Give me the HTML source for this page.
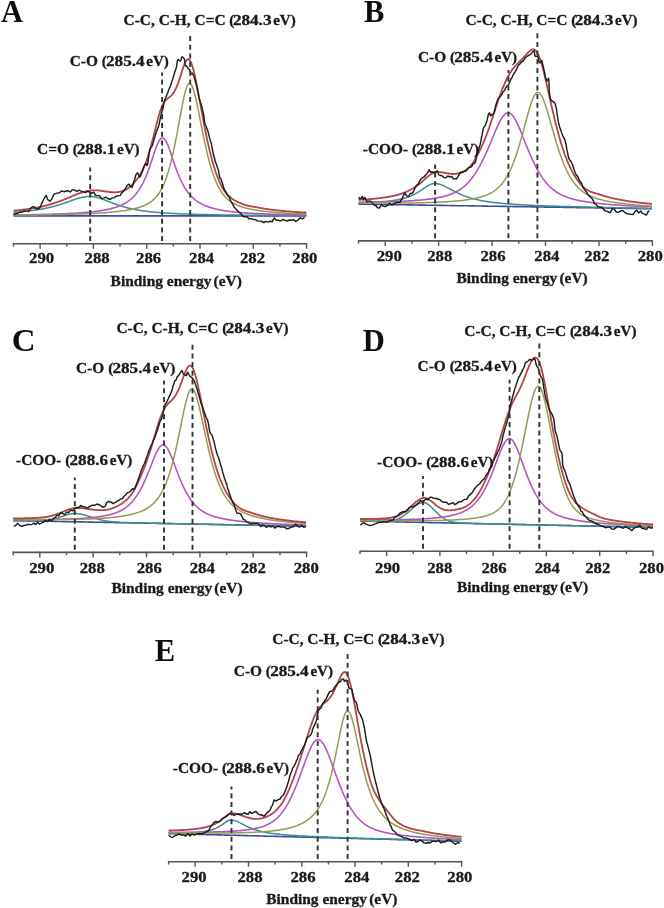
<!DOCTYPE html>
<html><head><meta charset="utf-8"><style>
html,body{margin:0;padding:0;background:#fff;}
svg{display:block;}
.t{font-family:"Liberation Serif", serif;font-weight:bold;font-size:15px;fill:#1a1a1a;stroke:#1a1a1a;stroke-width:0.3px;}
.tk{font-family:"Liberation Serif", serif;font-weight:bold;font-size:15.5px;fill:#1a1a1a;stroke:#1a1a1a;stroke-width:0.3px;}
.a{font-family:"Liberation Serif", serif;font-weight:bold;font-size:14.2px;fill:#1a1a1a;stroke:#1a1a1a;stroke-width:0.3px;}
.L{font-family:"Liberation Serif", serif;font-weight:bold;font-size:30.5px;fill:#111;}
</style></head><body>
<svg width="664" height="908" viewBox="0 0 664 908">
<defs><filter id="soft" x="0" y="0" width="664" height="908" filterUnits="userSpaceOnUse"><feGaussianBlur stdDeviation="0.35"/></filter></defs>
<rect width="664" height="908" fill="#fff"/>
<g filter="url(#soft)">
<path d="M13.5,215.9 L14.0,215.9 L14.5,215.9 L15.0,215.9 L15.5,215.9 L16.0,215.9 L16.5,215.9 L17.0,215.9 L17.5,215.9 L18.0,215.9 L18.5,215.9 L19.0,215.9 L19.5,215.9 L20.0,215.9 L20.5,215.9 L21.0,215.9 L21.5,215.9 L22.0,215.9 L22.5,215.9 L23.0,215.9 L23.5,215.9 L24.0,215.9 L24.5,215.9 L25.0,215.9 L25.5,215.9 L26.0,215.9 L26.5,215.9 L27.0,215.9 L27.5,215.9 L28.0,215.9 L28.5,215.9 L29.0,215.9 L29.5,215.9 L30.0,215.9 L30.5,215.9 L31.0,215.9 L31.5,215.9 L32.0,215.9 L32.5,215.9 L33.0,215.9 L33.5,215.9 L34.0,215.9 L34.5,215.9 L35.0,215.9 L35.5,215.9 L36.0,215.9 L36.5,215.9 L37.0,215.9 L37.5,215.9 L38.0,215.9 L38.5,215.9 L39.0,215.9 L39.5,215.9 L40.0,215.9 L40.5,215.9 L41.0,215.9 L41.5,215.9 L42.0,215.9 L42.5,215.9 L43.0,215.9 L43.5,215.9 L44.0,215.9 L44.5,215.9 L45.0,215.9 L45.5,215.9 L46.0,215.9 L46.5,215.9 L47.0,215.9 L47.5,215.9 L48.0,215.9 L48.5,215.9 L49.0,215.9 L49.5,215.9 L50.0,215.9 L50.5,215.9 L51.0,215.9 L51.5,215.9 L52.0,215.9 L52.5,215.9 L53.0,215.9 L53.5,215.9 L54.0,215.9 L54.5,215.9 L55.0,215.9 L55.5,215.9 L56.0,215.9 L56.5,215.9 L57.0,215.9 L57.5,215.9 L58.0,215.9 L58.5,215.9 L59.0,215.9 L59.5,215.9 L60.0,215.9 L60.5,215.9 L61.0,215.9 L61.5,215.9 L62.0,215.9 L62.5,215.9 L63.0,215.9 L63.5,215.9 L64.0,215.9 L64.5,215.9 L65.0,215.9 L65.5,215.9 L66.0,215.9 L66.5,215.9 L67.0,215.9 L67.5,215.9 L68.0,215.9 L68.5,215.9 L69.0,215.9 L69.5,215.9 L70.0,215.9 L70.5,215.9 L71.0,215.9 L71.5,215.9 L72.0,215.9 L72.5,215.9 L73.0,215.9 L73.5,215.9 L74.0,215.9 L74.5,215.9 L75.0,215.9 L75.5,215.9 L76.0,215.9 L76.5,215.9 L77.0,215.9 L77.5,215.9 L78.0,215.9 L78.5,215.9 L79.0,215.9 L79.5,215.9 L80.0,215.9 L80.5,215.9 L81.0,215.9 L81.5,215.9 L82.0,215.9 L82.5,215.9 L83.0,215.9 L83.5,215.9 L84.0,215.9 L84.5,215.9 L85.0,215.9 L85.5,215.9 L86.0,215.9 L86.5,215.9 L87.0,215.9 L87.5,215.9 L88.0,215.9 L88.5,215.9 L89.0,215.9 L89.5,215.9 L90.0,215.9 L90.5,215.9 L91.0,215.9 L91.5,215.9 L92.0,215.9 L92.5,215.9 L93.0,215.9 L93.5,215.9 L94.0,215.9 L94.5,215.9 L95.0,215.9 L95.5,215.9 L96.0,215.9 L96.5,215.9 L97.0,215.9 L97.5,215.9 L98.0,215.9 L98.5,215.9 L99.0,215.9 L99.5,215.9 L100.0,215.9 L100.5,215.9 L101.0,215.9 L101.5,215.9 L102.0,215.9 L102.5,215.9 L103.0,215.9 L103.5,215.9 L104.0,215.9 L104.5,215.9 L105.0,215.9 L105.5,215.9 L106.0,215.9 L106.5,215.9 L107.0,215.9 L107.5,215.9 L108.0,215.9 L108.5,215.9 L109.0,215.9 L109.5,215.9 L110.0,215.9 L110.5,215.9 L111.0,215.9 L111.5,215.9 L112.0,215.9 L112.5,215.9 L113.0,215.9 L113.5,215.9 L114.0,215.9 L114.5,215.9 L115.0,215.9 L115.5,215.9 L116.0,215.9 L116.5,215.9 L117.0,215.9 L117.5,215.9 L118.0,215.9 L118.5,215.9 L119.0,215.9 L119.5,215.9 L120.0,215.9 L120.5,215.9 L121.0,215.9 L121.5,215.9 L122.0,215.9 L122.5,215.9 L123.0,215.9 L123.5,215.9 L124.0,215.9 L124.5,215.9 L125.0,215.9 L125.5,215.9 L126.0,215.9 L126.5,215.9 L127.0,215.9 L127.5,215.9 L128.0,215.9 L128.4,215.9 L128.9,215.9 L129.4,215.9 L129.9,215.9 L130.4,215.9 L130.9,215.9 L131.4,215.9 L131.9,215.9 L132.4,215.9 L132.9,215.9 L133.4,215.9 L133.9,215.9 L134.4,215.9 L134.9,215.9 L135.4,215.9 L135.9,215.9 L136.4,215.9 L136.9,215.9 L137.4,215.9 L137.9,215.9 L138.4,215.9 L138.9,215.9 L139.4,215.9 L139.9,215.9 L140.4,215.9 L140.9,215.9 L141.4,215.9 L141.9,215.9 L142.4,215.9 L142.9,215.9 L143.4,215.9 L143.9,215.9 L144.4,215.9 L144.9,215.9 L145.4,215.9 L145.9,215.9 L146.4,215.9 L146.9,215.9 L147.4,215.9 L147.9,215.9 L148.4,215.9 L148.9,215.9 L149.4,215.9 L149.9,215.9 L150.4,215.9 L150.9,215.9 L151.4,215.9 L151.9,215.9 L152.4,215.9 L152.9,215.9 L153.4,215.9 L153.9,215.9 L154.4,215.9 L154.9,215.9 L155.4,215.9 L155.9,215.9 L156.4,215.9 L156.9,215.9 L157.4,215.9 L157.9,215.9 L158.4,215.9 L158.9,215.9 L159.4,215.9 L159.9,215.9 L160.4,215.9 L160.9,215.9 L161.4,215.9 L161.9,215.9 L162.4,215.9 L162.9,215.9 L163.4,215.9 L163.9,215.9 L164.4,215.9 L164.9,215.9 L165.4,215.9 L165.9,215.9 L166.4,215.9 L166.9,215.9 L167.4,215.9 L167.9,215.9 L168.4,215.9 L168.9,215.9 L169.4,215.9 L169.9,215.9 L170.4,215.9 L170.9,215.9 L171.4,215.9 L171.9,215.9 L172.4,215.9 L172.9,215.9 L173.4,215.9 L173.9,215.9 L174.4,215.9 L174.9,215.9 L175.4,215.9 L175.9,215.9 L176.4,215.9 L176.9,215.9 L177.4,215.9 L177.9,215.9 L178.4,215.9 L178.9,215.9 L179.4,215.9 L179.9,215.9 L180.4,215.9 L180.9,215.9 L181.4,215.9 L181.9,215.9 L182.4,215.9 L182.9,215.9 L183.4,215.9 L183.9,215.9 L184.4,215.9 L184.9,215.9 L185.4,215.9 L185.9,215.9 L186.4,215.9 L186.9,215.9 L187.4,215.9 L187.9,215.9 L188.4,215.9 L188.9,215.9 L189.4,215.9 L189.9,215.9 L190.4,215.9 L190.9,215.9 L191.4,215.9 L191.9,215.9 L192.4,215.9 L192.9,215.9 L193.4,215.9 L193.9,215.9 L194.4,215.9 L194.9,215.9 L195.4,215.9 L195.9,215.9 L196.4,215.9 L196.9,215.9 L197.4,215.9 L197.9,215.9 L198.4,215.9 L198.9,215.9 L199.4,215.9 L199.9,215.9 L200.4,215.9 L200.9,215.9 L201.4,215.9 L201.9,215.9 L202.4,215.9 L202.9,215.9 L203.4,215.9 L203.9,215.9 L204.4,215.9 L204.9,215.9 L205.4,215.9 L205.9,215.9 L206.4,215.9 L206.9,215.9 L207.4,215.9 L207.9,215.9 L208.4,215.9 L208.9,215.9 L209.4,215.9 L209.9,215.9 L210.4,215.9 L210.9,215.9 L211.4,215.9 L211.9,215.9 L212.4,215.9 L212.9,215.9 L213.4,215.9 L213.9,215.9 L214.4,215.9 L214.9,215.9 L215.4,215.9 L215.9,215.9 L216.4,215.9 L216.9,215.9 L217.4,215.9 L217.9,215.9 L218.4,215.9 L218.9,215.9 L219.4,215.9 L219.9,215.9 L220.4,215.9 L220.9,215.9 L221.4,215.9 L221.9,215.9 L222.4,215.9 L222.9,215.9 L223.4,215.9 L223.9,215.9 L224.4,215.9 L224.9,215.9 L225.4,215.9 L225.9,215.9 L226.4,215.9 L226.9,215.9 L227.4,215.9 L227.9,215.9 L228.4,215.9 L228.9,215.9 L229.4,215.9 L229.9,215.9 L230.4,215.9 L230.9,215.9 L231.4,215.9 L231.9,215.9 L232.4,215.9 L232.9,215.9 L233.4,215.9 L233.9,215.9 L234.4,215.9 L234.9,215.9 L235.4,215.9 L235.9,215.9 L236.4,216.0 L236.9,216.0 L237.4,216.0 L237.9,216.0 L238.4,216.0 L238.9,216.0 L239.4,216.0 L239.9,216.0 L240.4,216.0 L240.9,216.0 L241.4,216.0 L241.9,216.0 L242.4,216.0 L242.9,216.0 L243.4,216.0 L243.9,216.0 L244.4,216.0 L244.9,216.0 L245.4,216.0 L245.9,216.0 L246.4,216.0 L246.9,216.0 L247.4,216.0 L247.9,216.0 L248.4,216.0 L248.9,216.0 L249.4,216.0 L249.9,216.0 L250.4,216.0 L250.9,216.0 L251.4,216.0 L251.9,216.0 L252.4,216.0 L252.9,216.0 L253.4,216.0 L253.9,216.0 L254.4,216.0 L254.9,216.0 L255.4,216.0 L255.9,216.0 L256.4,216.0 L256.9,216.0 L257.4,216.0 L257.9,216.0 L258.4,216.0 L258.9,216.0 L259.4,216.0 L259.9,216.0 L260.4,216.0 L260.9,216.0 L261.4,216.0 L261.9,216.0 L262.4,216.0 L262.9,216.0 L263.4,216.0 L263.9,216.0 L264.4,216.0 L264.9,216.0 L265.4,216.0 L265.9,216.0 L266.4,216.0 L266.9,216.0 L267.4,216.0 L267.9,216.0 L268.4,216.0 L268.9,216.0 L269.4,216.0 L269.9,216.0 L270.4,216.0 L270.9,216.0 L271.4,216.0 L271.9,216.0 L272.4,216.0 L272.9,216.0 L273.4,216.0 L273.9,216.0 L274.4,216.0 L274.9,216.0 L275.4,216.0 L275.9,216.0 L276.4,216.0 L276.9,216.0 L277.4,216.0 L277.9,216.0 L278.4,216.0 L278.9,216.0 L279.4,216.0 L279.9,216.0 L280.4,216.0 L280.9,216.0 L281.4,216.0 L281.9,216.0 L282.4,216.0 L282.9,216.0 L283.4,216.0 L283.9,216.0 L284.4,216.0 L284.9,216.0 L285.4,216.0 L285.9,216.0 L286.4,216.0 L286.9,216.0 L287.4,216.0 L287.9,216.0 L288.4,216.0 L288.9,216.0 L289.4,216.0 L289.9,216.0 L290.4,216.0 L290.9,216.0 L291.4,216.0 L291.9,216.0 L292.4,216.0 L292.9,216.0 L293.4,216.0 L293.9,216.0 L294.4,216.0 L294.9,216.0 L295.4,216.0 L295.9,216.0 L296.4,216.0 L296.9,216.0 L297.4,216.0 L297.9,216.0 L298.4,216.0 L298.9,216.0 L299.4,216.0 L299.9,216.0 L300.4,216.0 L300.9,216.0 L301.4,216.0 L301.9,216.0 L302.4,216.0 L302.9,216.0 L303.4,216.0 L303.9,216.0 L304.4,216.0 L304.9,216.0 L305.4,216.0 L305.9,216.0 L306.4,216.0" fill="none" stroke="#3d4d9c" stroke-width="1.6" stroke-linejoin="round"/>
<path d="M13.5,212.4 L14.0,212.4 L14.5,212.3 L15.0,212.3 L15.5,212.2 L16.0,212.2 L16.5,212.2 L17.0,212.1 L17.5,212.1 L18.0,212.0 L18.5,212.0 L19.0,212.0 L19.5,211.9 L20.0,211.9 L20.5,211.8 L21.0,211.8 L21.5,211.7 L22.0,211.7 L22.5,211.6 L23.0,211.6 L23.5,211.5 L24.0,211.5 L24.5,211.4 L25.0,211.4 L25.5,211.3 L26.0,211.3 L26.5,211.2 L27.0,211.2 L27.5,211.1 L28.0,211.0 L28.5,211.0 L29.0,210.9 L29.5,210.9 L30.0,210.8 L30.5,210.7 L31.0,210.7 L31.5,210.6 L32.0,210.5 L32.5,210.5 L33.0,210.4 L33.5,210.3 L34.0,210.3 L34.5,210.2 L35.0,210.1 L35.5,210.1 L36.0,210.0 L36.5,209.9 L37.0,209.8 L37.5,209.7 L38.0,209.7 L38.5,209.6 L39.0,209.5 L39.5,209.4 L40.0,209.3 L40.5,209.2 L41.0,209.2 L41.5,209.1 L42.0,209.0 L42.5,208.9 L43.0,208.8 L43.5,208.7 L44.0,208.6 L44.5,208.5 L45.0,208.4 L45.5,208.3 L46.0,208.2 L46.5,208.1 L47.0,208.0 L47.5,207.9 L48.0,207.7 L48.5,207.6 L49.0,207.5 L49.5,207.4 L50.0,207.3 L50.5,207.2 L51.0,207.0 L51.5,206.9 L52.0,206.8 L52.5,206.7 L53.0,206.5 L53.5,206.4 L54.0,206.3 L54.5,206.1 L55.0,206.0 L55.5,205.9 L56.0,205.7 L56.5,205.6 L57.0,205.4 L57.5,205.3 L58.0,205.1 L58.5,205.0 L59.0,204.8 L59.5,204.7 L60.0,204.5 L60.5,204.4 L61.0,204.2 L61.5,204.0 L62.0,203.9 L62.5,203.7 L63.0,203.5 L63.5,203.4 L64.0,203.2 L64.5,203.0 L65.0,202.9 L65.5,202.7 L66.0,202.5 L66.5,202.3 L67.0,202.2 L67.5,202.0 L68.0,201.8 L68.5,201.6 L69.0,201.5 L69.5,201.3 L70.0,201.1 L70.5,200.9 L71.0,200.8 L71.5,200.6 L72.0,200.4 L72.5,200.2 L73.0,200.1 L73.5,199.9 L74.0,199.7 L74.5,199.6 L75.0,199.4 L75.5,199.2 L76.0,199.1 L76.5,198.9 L77.0,198.7 L77.5,198.6 L78.0,198.4 L78.5,198.3 L79.0,198.2 L79.5,198.0 L80.0,197.9 L80.5,197.8 L81.0,197.6 L81.5,197.5 L82.0,197.4 L82.5,197.3 L83.0,197.2 L83.5,197.1 L84.0,197.0 L84.5,196.9 L85.0,196.9 L85.5,196.8 L86.0,196.7 L86.5,196.7 L87.0,196.6 L87.5,196.6 L88.0,196.5 L88.5,196.5 L89.0,196.5 L89.5,196.5 L90.0,196.5 L90.5,196.5 L91.0,196.5 L91.5,196.5 L92.0,196.6 L92.5,196.6 L93.0,196.7 L93.5,196.7 L94.0,196.8 L94.5,196.9 L95.0,197.0 L95.5,197.1 L96.0,197.2 L96.5,197.3 L97.0,197.4 L97.5,197.5 L98.0,197.7 L98.5,197.8 L99.0,198.0 L99.5,198.1 L100.0,198.3 L100.5,198.4 L101.0,198.6 L101.5,198.8 L102.0,198.9 L102.5,199.1 L103.0,199.3 L103.5,199.5 L104.0,199.7 L104.5,199.9 L105.0,200.1 L105.5,200.3 L106.0,200.5 L106.5,200.7 L107.0,200.9 L107.5,201.0 L108.0,201.2 L108.5,201.4 L109.0,201.6 L109.5,201.8 L110.0,202.0 L110.5,202.2 L111.0,202.4 L111.5,202.6 L112.0,202.8 L112.5,203.0 L113.0,203.2 L113.5,203.4 L114.0,203.6 L114.5,203.8 L115.0,204.0 L115.5,204.1 L116.0,204.3 L116.5,204.5 L117.0,204.7 L117.5,204.9 L118.0,205.0 L118.5,205.2 L119.0,205.4 L119.5,205.5 L120.0,205.7 L120.5,205.8 L121.0,206.0 L121.5,206.2 L122.0,206.3 L122.5,206.5 L123.0,206.6 L123.5,206.8 L124.0,206.9 L124.5,207.0 L125.0,207.2 L125.5,207.3 L126.0,207.4 L126.5,207.6 L127.0,207.7 L127.5,207.8 L128.0,208.0 L128.4,208.1 L128.9,208.2 L129.4,208.3 L129.9,208.4 L130.4,208.6 L130.9,208.7 L131.4,208.8 L131.9,208.9 L132.4,209.0 L132.9,209.1 L133.4,209.2 L133.9,209.3 L134.4,209.4 L134.9,209.5 L135.4,209.6 L135.9,209.7 L136.4,209.8 L136.9,209.9 L137.4,209.9 L137.9,210.0 L138.4,210.1 L138.9,210.2 L139.4,210.3 L139.9,210.4 L140.4,210.4 L140.9,210.5 L141.4,210.6 L141.9,210.7 L142.4,210.7 L142.9,210.8 L143.4,210.9 L143.9,210.9 L144.4,211.0 L144.9,211.1 L145.4,211.1 L145.9,211.2 L146.4,211.3 L146.9,211.3 L147.4,211.4 L147.9,211.5 L148.4,211.5 L148.9,211.6 L149.4,211.6 L149.9,211.7 L150.4,211.7 L150.9,211.8 L151.4,211.9 L151.9,211.9 L152.4,212.0 L152.9,212.0 L153.4,212.1 L153.9,212.1 L154.4,212.1 L154.9,212.2 L155.4,212.2 L155.9,212.3 L156.4,212.3 L156.9,212.4 L157.4,212.4 L157.9,212.5 L158.4,212.5 L158.9,212.5 L159.4,212.6 L159.9,212.6 L160.4,212.7 L160.9,212.7 L161.4,212.7 L161.9,212.8 L162.4,212.8 L162.9,212.8 L163.4,212.9 L163.9,212.9 L164.4,213.0 L164.9,213.0 L165.4,213.0 L165.9,213.1 L166.4,213.1 L166.9,213.1 L167.4,213.1 L167.9,213.2 L168.4,213.2 L168.9,213.2 L169.4,213.3 L169.9,213.3 L170.4,213.3 L170.9,213.4 L171.4,213.4 L171.9,213.4 L172.4,213.4 L172.9,213.5 L173.4,213.5 L173.9,213.5 L174.4,213.5 L174.9,213.6 L175.4,213.6 L175.9,213.6 L176.4,213.6 L176.9,213.7 L177.4,213.7 L177.9,213.7 L178.4,213.7 L178.9,213.7 L179.4,213.8 L179.9,213.8 L180.4,213.8 L180.9,213.8 L181.4,213.9 L181.9,213.9 L182.4,213.9 L182.9,213.9 L183.4,213.9 L183.9,214.0 L184.4,214.0 L184.9,214.0 L185.4,214.0 L185.9,214.0 L186.4,214.0 L186.9,214.1 L187.4,214.1 L187.9,214.1 L188.4,214.1 L188.9,214.1 L189.4,214.1 L189.9,214.2 L190.4,214.2 L190.9,214.2 L191.4,214.2 L191.9,214.2 L192.4,214.2 L192.9,214.3 L193.4,214.3 L193.9,214.3 L194.4,214.3 L194.9,214.3 L195.4,214.3 L195.9,214.3 L196.4,214.4 L196.9,214.4 L197.4,214.4 L197.9,214.4 L198.4,214.4 L198.9,214.4 L199.4,214.4 L199.9,214.4 L200.4,214.5 L200.9,214.5 L201.4,214.5 L201.9,214.5 L202.4,214.5 L202.9,214.5 L203.4,214.5 L203.9,214.5 L204.4,214.6 L204.9,214.6 L205.4,214.6 L205.9,214.6 L206.4,214.6 L206.9,214.6 L207.4,214.6 L207.9,214.6 L208.4,214.6 L208.9,214.7 L209.4,214.7 L209.9,214.7 L210.4,214.7 L210.9,214.7 L211.4,214.7 L211.9,214.7 L212.4,214.7 L212.9,214.7 L213.4,214.7 L213.9,214.8 L214.4,214.8 L214.9,214.8 L215.4,214.8 L215.9,214.8 L216.4,214.8 L216.9,214.8 L217.4,214.8 L217.9,214.8 L218.4,214.8 L218.9,214.8 L219.4,214.8 L219.9,214.9 L220.4,214.9 L220.9,214.9 L221.4,214.9 L221.9,214.9 L222.4,214.9 L222.9,214.9 L223.4,214.9 L223.9,214.9 L224.4,214.9 L224.9,214.9 L225.4,214.9 L225.9,214.9 L226.4,215.0 L226.9,215.0 L227.4,215.0 L227.9,215.0 L228.4,215.0 L228.9,215.0 L229.4,215.0 L229.9,215.0 L230.4,215.0 L230.9,215.0 L231.4,215.0 L231.9,215.0 L232.4,215.0 L232.9,215.0 L233.4,215.0 L233.9,215.1 L234.4,215.1 L234.9,215.1 L235.4,215.1 L235.9,215.1 L236.4,215.1 L236.9,215.1 L237.4,215.1 L237.9,215.1 L238.4,215.1 L238.9,215.1 L239.4,215.1 L239.9,215.1 L240.4,215.1 L240.9,215.1 L241.4,215.1 L241.9,215.1 L242.4,215.1 L242.9,215.2 L243.4,215.2 L243.9,215.2 L244.4,215.2 L244.9,215.2 L245.4,215.2 L245.9,215.2 L246.4,215.2 L246.9,215.2 L247.4,215.2 L247.9,215.2 L248.4,215.2 L248.9,215.2 L249.4,215.2 L249.9,215.2 L250.4,215.2 L250.9,215.2 L251.4,215.2 L251.9,215.2 L252.4,215.2 L252.9,215.3 L253.4,215.3 L253.9,215.3 L254.4,215.3 L254.9,215.3 L255.4,215.3 L255.9,215.3 L256.4,215.3 L256.9,215.3 L257.4,215.3 L257.9,215.3 L258.4,215.3 L258.9,215.3 L259.4,215.3 L259.9,215.3 L260.4,215.3 L260.9,215.3 L261.4,215.3 L261.9,215.3 L262.4,215.3 L262.9,215.3 L263.4,215.3 L263.9,215.3 L264.4,215.3 L264.9,215.3 L265.4,215.3 L265.9,215.4 L266.4,215.4 L266.9,215.4 L267.4,215.4 L267.9,215.4 L268.4,215.4 L268.9,215.4 L269.4,215.4 L269.9,215.4 L270.4,215.4 L270.9,215.4 L271.4,215.4 L271.9,215.4 L272.4,215.4 L272.9,215.4 L273.4,215.4 L273.9,215.4 L274.4,215.4 L274.9,215.4 L275.4,215.4 L275.9,215.4 L276.4,215.4 L276.9,215.4 L277.4,215.4 L277.9,215.4 L278.4,215.4 L278.9,215.4 L279.4,215.4 L279.9,215.4 L280.4,215.4 L280.9,215.4 L281.4,215.5 L281.9,215.5 L282.4,215.5 L282.9,215.5 L283.4,215.5 L283.9,215.5 L284.4,215.5 L284.9,215.5 L285.4,215.5 L285.9,215.5 L286.4,215.5 L286.9,215.5 L287.4,215.5 L287.9,215.5 L288.4,215.5 L288.9,215.5 L289.4,215.5 L289.9,215.5 L290.4,215.5 L290.9,215.5 L291.4,215.5 L291.9,215.5 L292.4,215.5 L292.9,215.5 L293.4,215.5 L293.9,215.5 L294.4,215.5 L294.9,215.5 L295.4,215.5 L295.9,215.5 L296.4,215.5 L296.9,215.5 L297.4,215.5 L297.9,215.5 L298.4,215.5 L298.9,215.5 L299.4,215.5 L299.9,215.5 L300.4,215.5 L300.9,215.5 L301.4,215.6 L301.9,215.6 L302.4,215.6 L302.9,215.6 L303.4,215.6 L303.9,215.6 L304.4,215.6 L304.9,215.6 L305.4,215.6 L305.9,215.6 L306.4,215.6" fill="none" stroke="#3a8f8d" stroke-width="1.5" stroke-linejoin="round"/>
<path d="M13.5,214.9 L14.0,214.9 L14.5,214.9 L15.0,214.9 L15.5,214.9 L16.0,214.9 L16.5,214.9 L17.0,214.9 L17.5,214.9 L18.0,214.9 L18.5,214.9 L19.0,214.8 L19.5,214.8 L20.0,214.8 L20.5,214.8 L21.0,214.8 L21.5,214.8 L22.0,214.8 L22.5,214.8 L23.0,214.8 L23.5,214.8 L24.0,214.8 L24.5,214.8 L25.0,214.8 L25.5,214.8 L26.0,214.7 L26.5,214.7 L27.0,214.7 L27.5,214.7 L28.0,214.7 L28.5,214.7 L29.0,214.7 L29.5,214.7 L30.0,214.7 L30.5,214.7 L31.0,214.7 L31.5,214.7 L32.0,214.6 L32.5,214.6 L33.0,214.6 L33.5,214.6 L34.0,214.6 L34.5,214.6 L35.0,214.6 L35.5,214.6 L36.0,214.6 L36.5,214.6 L37.0,214.5 L37.5,214.5 L38.0,214.5 L38.5,214.5 L39.0,214.5 L39.5,214.5 L40.0,214.5 L40.5,214.5 L41.0,214.5 L41.5,214.4 L42.0,214.4 L42.5,214.4 L43.0,214.4 L43.5,214.4 L44.0,214.4 L44.5,214.4 L45.0,214.4 L45.5,214.4 L46.0,214.3 L46.5,214.3 L47.0,214.3 L47.5,214.3 L48.0,214.3 L48.5,214.3 L49.0,214.3 L49.5,214.2 L50.0,214.2 L50.5,214.2 L51.0,214.2 L51.5,214.2 L52.0,214.2 L52.5,214.2 L53.0,214.1 L53.5,214.1 L54.0,214.1 L54.5,214.1 L55.0,214.1 L55.5,214.1 L56.0,214.1 L56.5,214.0 L57.0,214.0 L57.5,214.0 L58.0,214.0 L58.5,214.0 L59.0,213.9 L59.5,213.9 L60.0,213.9 L60.5,213.9 L61.0,213.9 L61.5,213.9 L62.0,213.8 L62.5,213.8 L63.0,213.8 L63.5,213.8 L64.0,213.8 L64.5,213.7 L65.0,213.7 L65.5,213.7 L66.0,213.7 L66.5,213.6 L67.0,213.6 L67.5,213.6 L68.0,213.6 L68.5,213.6 L69.0,213.5 L69.5,213.5 L70.0,213.5 L70.5,213.5 L71.0,213.4 L71.5,213.4 L72.0,213.4 L72.5,213.4 L73.0,213.3 L73.5,213.3 L74.0,213.3 L74.5,213.2 L75.0,213.2 L75.5,213.2 L76.0,213.2 L76.5,213.1 L77.0,213.1 L77.5,213.1 L78.0,213.0 L78.5,213.0 L79.0,213.0 L79.5,212.9 L80.0,212.9 L80.5,212.9 L81.0,212.8 L81.5,212.8 L82.0,212.7 L82.5,212.7 L83.0,212.7 L83.5,212.6 L84.0,212.6 L84.5,212.6 L85.0,212.5 L85.5,212.5 L86.0,212.4 L86.5,212.4 L87.0,212.3 L87.5,212.3 L88.0,212.2 L88.5,212.2 L89.0,212.2 L89.5,212.1 L90.0,212.1 L90.5,212.0 L91.0,212.0 L91.5,211.9 L92.0,211.8 L92.5,211.8 L93.0,211.7 L93.5,211.7 L94.0,211.6 L94.5,211.6 L95.0,211.5 L95.5,211.4 L96.0,211.4 L96.5,211.3 L97.0,211.2 L97.5,211.2 L98.0,211.1 L98.5,211.0 L99.0,211.0 L99.5,210.9 L100.0,210.8 L100.5,210.7 L101.0,210.7 L101.5,210.6 L102.0,210.5 L102.5,210.4 L103.0,210.3 L103.5,210.3 L104.0,210.2 L104.5,210.1 L105.0,210.0 L105.5,209.9 L106.0,209.8 L106.5,209.7 L107.0,209.6 L107.5,209.5 L108.0,209.4 L108.5,209.3 L109.0,209.1 L109.5,209.0 L110.0,208.9 L110.5,208.8 L111.0,208.7 L111.5,208.5 L112.0,208.4 L112.5,208.3 L113.0,208.1 L113.5,208.0 L114.0,207.8 L114.5,207.7 L115.0,207.5 L115.5,207.4 L116.0,207.2 L116.5,207.0 L117.0,206.9 L117.5,206.7 L118.0,206.5 L118.5,206.3 L119.0,206.1 L119.5,205.9 L120.0,205.7 L120.5,205.5 L121.0,205.3 L121.5,205.1 L122.0,204.8 L122.5,204.6 L123.0,204.3 L123.5,204.1 L124.0,203.8 L124.5,203.5 L125.0,203.3 L125.5,203.0 L126.0,202.7 L126.5,202.4 L127.0,202.1 L127.5,201.7 L128.0,201.4 L128.4,201.0 L128.9,200.7 L129.4,200.3 L129.9,199.9 L130.4,199.5 L130.9,199.1 L131.4,198.6 L131.9,198.2 L132.4,197.7 L132.9,197.3 L133.4,196.8 L133.9,196.2 L134.4,195.7 L134.9,195.2 L135.4,194.6 L135.9,194.0 L136.4,193.4 L136.9,192.7 L137.4,192.1 L137.9,191.4 L138.4,190.7 L138.9,190.0 L139.4,189.2 L139.9,188.4 L140.4,187.6 L140.9,186.7 L141.4,185.9 L141.9,185.0 L142.4,184.0 L142.9,183.1 L143.4,182.1 L143.9,181.0 L144.4,180.0 L144.9,178.9 L145.4,177.7 L145.9,176.6 L146.4,175.4 L146.9,174.1 L147.4,172.8 L147.9,171.5 L148.4,170.2 L148.9,168.8 L149.4,167.4 L149.9,166.0 L150.4,164.6 L150.9,163.1 L151.4,161.6 L151.9,160.1 L152.4,158.6 L152.9,157.1 L153.4,155.6 L153.9,154.1 L154.4,152.6 L154.9,151.1 L155.4,149.7 L155.9,148.3 L156.4,146.9 L156.9,145.7 L157.4,144.5 L157.9,143.3 L158.4,142.3 L158.9,141.3 L159.4,140.5 L159.9,139.7 L160.4,139.1 L160.9,138.6 L161.4,138.3 L161.9,138.1 L162.4,138.0 L162.9,138.0 L163.4,138.2 L163.9,138.6 L164.4,139.0 L164.9,139.6 L165.4,140.3 L165.9,141.1 L166.4,142.0 L166.9,143.0 L167.4,144.1 L167.9,145.3 L168.4,146.6 L168.9,147.9 L169.4,149.2 L169.9,150.6 L170.4,152.1 L170.9,153.5 L171.4,155.0 L171.9,156.5 L172.4,158.0 L172.9,159.5 L173.4,161.0 L173.9,162.5 L174.4,163.9 L174.9,165.4 L175.4,166.8 L175.9,168.2 L176.4,169.6 L176.9,170.9 L177.4,172.2 L177.9,173.5 L178.4,174.7 L178.9,175.9 L179.4,177.1 L179.9,178.3 L180.4,179.4 L180.9,180.4 L181.4,181.5 L181.9,182.5 L182.4,183.5 L182.9,184.4 L183.4,185.3 L183.9,186.2 L184.4,187.1 L184.9,187.9 L185.4,188.7 L185.9,189.5 L186.4,190.2 L186.9,190.9 L187.4,191.6 L187.9,192.3 L188.4,192.9 L188.9,193.6 L189.4,194.2 L189.9,194.8 L190.4,195.3 L190.9,195.9 L191.4,196.4 L191.9,196.9 L192.4,197.4 L192.9,197.8 L193.4,198.3 L193.9,198.7 L194.4,199.2 L194.9,199.6 L195.4,200.0 L195.9,200.4 L196.4,200.7 L196.9,201.1 L197.4,201.4 L197.9,201.8 L198.4,202.1 L198.9,202.4 L199.4,202.7 L199.9,203.0 L200.4,203.3 L200.9,203.6 L201.4,203.9 L201.9,204.1 L202.4,204.4 L202.9,204.6 L203.4,204.8 L203.9,205.1 L204.4,205.3 L204.9,205.5 L205.4,205.7 L205.9,205.9 L206.4,206.1 L206.9,206.3 L207.4,206.5 L207.9,206.7 L208.4,206.9 L208.9,207.0 L209.4,207.2 L209.9,207.4 L210.4,207.5 L210.9,207.7 L211.4,207.8 L211.9,208.0 L212.4,208.1 L212.9,208.3 L213.4,208.4 L213.9,208.5 L214.4,208.7 L214.9,208.8 L215.4,208.9 L215.9,209.0 L216.4,209.2 L216.9,209.3 L217.4,209.4 L217.9,209.5 L218.4,209.6 L218.9,209.7 L219.4,209.8 L219.9,209.9 L220.4,210.0 L220.9,210.1 L221.4,210.2 L221.9,210.3 L222.4,210.4 L222.9,210.4 L223.4,210.5 L223.9,210.6 L224.4,210.7 L224.9,210.8 L225.4,210.8 L225.9,210.9 L226.4,211.0 L226.9,211.1 L227.4,211.1 L227.9,211.2 L228.4,211.3 L228.9,211.3 L229.4,211.4 L229.9,211.5 L230.4,211.5 L230.9,211.6 L231.4,211.6 L231.9,211.7 L232.4,211.8 L232.9,211.8 L233.4,211.9 L233.9,211.9 L234.4,212.0 L234.9,212.0 L235.4,212.1 L235.9,212.1 L236.4,212.2 L236.9,212.2 L237.4,212.3 L237.9,212.3 L238.4,212.4 L238.9,212.4 L239.4,212.5 L239.9,212.5 L240.4,212.5 L240.9,212.6 L241.4,212.6 L241.9,212.7 L242.4,212.7 L242.9,212.7 L243.4,212.8 L243.9,212.8 L244.4,212.9 L244.9,212.9 L245.4,212.9 L245.9,213.0 L246.4,213.0 L246.9,213.0 L247.4,213.1 L247.9,213.1 L248.4,213.1 L248.9,213.2 L249.4,213.2 L249.9,213.2 L250.4,213.3 L250.9,213.3 L251.4,213.3 L251.9,213.3 L252.4,213.4 L252.9,213.4 L253.4,213.4 L253.9,213.4 L254.4,213.5 L254.9,213.5 L255.4,213.5 L255.9,213.6 L256.4,213.6 L256.9,213.6 L257.4,213.6 L257.9,213.6 L258.4,213.7 L258.9,213.7 L259.4,213.7 L259.9,213.7 L260.4,213.8 L260.9,213.8 L261.4,213.8 L261.9,213.8 L262.4,213.8 L262.9,213.9 L263.4,213.9 L263.9,213.9 L264.4,213.9 L264.9,213.9 L265.4,214.0 L265.9,214.0 L266.4,214.0 L266.9,214.0 L267.4,214.0 L267.9,214.1 L268.4,214.1 L268.9,214.1 L269.4,214.1 L269.9,214.1 L270.4,214.1 L270.9,214.2 L271.4,214.2 L271.9,214.2 L272.4,214.2 L272.9,214.2 L273.4,214.2 L273.9,214.3 L274.4,214.3 L274.9,214.3 L275.4,214.3 L275.9,214.3 L276.4,214.3 L276.9,214.3 L277.4,214.4 L277.9,214.4 L278.4,214.4 L278.9,214.4 L279.4,214.4 L279.9,214.4 L280.4,214.4 L280.9,214.5 L281.4,214.5 L281.9,214.5 L282.4,214.5 L282.9,214.5 L283.4,214.5 L283.9,214.5 L284.4,214.5 L284.9,214.5 L285.4,214.6 L285.9,214.6 L286.4,214.6 L286.9,214.6 L287.4,214.6 L287.9,214.6 L288.4,214.6 L288.9,214.6 L289.4,214.6 L289.9,214.7 L290.4,214.7 L290.9,214.7 L291.4,214.7 L291.9,214.7 L292.4,214.7 L292.9,214.7 L293.4,214.7 L293.9,214.7 L294.4,214.7 L294.9,214.8 L295.4,214.8 L295.9,214.8 L296.4,214.8 L296.9,214.8 L297.4,214.8 L297.9,214.8 L298.4,214.8 L298.9,214.8 L299.4,214.8 L299.9,214.8 L300.4,214.9 L300.9,214.9 L301.4,214.9 L301.9,214.9 L302.4,214.9 L302.9,214.9 L303.4,214.9 L303.9,214.9 L304.4,214.9 L304.9,214.9 L305.4,214.9 L305.9,214.9 L306.4,214.9" fill="none" stroke="#b656c0" stroke-width="1.6" stroke-linejoin="round"/>
<path d="M13.5,215.1 L14.0,215.1 L14.5,215.1 L15.0,215.1 L15.5,215.1 L16.0,215.1 L16.5,215.1 L17.0,215.1 L17.5,215.1 L18.0,215.1 L18.5,215.1 L19.0,215.1 L19.5,215.1 L20.0,215.0 L20.5,215.0 L21.0,215.0 L21.5,215.0 L22.0,215.0 L22.5,215.0 L23.0,215.0 L23.5,215.0 L24.0,215.0 L24.5,215.0 L25.0,215.0 L25.5,215.0 L26.0,215.0 L26.5,215.0 L27.0,215.0 L27.5,215.0 L28.0,215.0 L28.5,215.0 L29.0,215.0 L29.5,215.0 L30.0,214.9 L30.5,214.9 L31.0,214.9 L31.5,214.9 L32.0,214.9 L32.5,214.9 L33.0,214.9 L33.5,214.9 L34.0,214.9 L34.5,214.9 L35.0,214.9 L35.5,214.9 L36.0,214.9 L36.5,214.9 L37.0,214.9 L37.5,214.9 L38.0,214.9 L38.5,214.8 L39.0,214.8 L39.5,214.8 L40.0,214.8 L40.5,214.8 L41.0,214.8 L41.5,214.8 L42.0,214.8 L42.5,214.8 L43.0,214.8 L43.5,214.8 L44.0,214.8 L44.5,214.8 L45.0,214.8 L45.5,214.7 L46.0,214.7 L46.5,214.7 L47.0,214.7 L47.5,214.7 L48.0,214.7 L48.5,214.7 L49.0,214.7 L49.5,214.7 L50.0,214.7 L50.5,214.7 L51.0,214.7 L51.5,214.7 L52.0,214.6 L52.5,214.6 L53.0,214.6 L53.5,214.6 L54.0,214.6 L54.5,214.6 L55.0,214.6 L55.5,214.6 L56.0,214.6 L56.5,214.6 L57.0,214.6 L57.5,214.5 L58.0,214.5 L58.5,214.5 L59.0,214.5 L59.5,214.5 L60.0,214.5 L60.5,214.5 L61.0,214.5 L61.5,214.5 L62.0,214.4 L62.5,214.4 L63.0,214.4 L63.5,214.4 L64.0,214.4 L64.5,214.4 L65.0,214.4 L65.5,214.4 L66.0,214.4 L66.5,214.3 L67.0,214.3 L67.5,214.3 L68.0,214.3 L68.5,214.3 L69.0,214.3 L69.5,214.3 L70.0,214.3 L70.5,214.2 L71.0,214.2 L71.5,214.2 L72.0,214.2 L72.5,214.2 L73.0,214.2 L73.5,214.2 L74.0,214.1 L74.5,214.1 L75.0,214.1 L75.5,214.1 L76.0,214.1 L76.5,214.1 L77.0,214.1 L77.5,214.0 L78.0,214.0 L78.5,214.0 L79.0,214.0 L79.5,214.0 L80.0,214.0 L80.5,213.9 L81.0,213.9 L81.5,213.9 L82.0,213.9 L82.5,213.9 L83.0,213.9 L83.5,213.8 L84.0,213.8 L84.5,213.8 L85.0,213.8 L85.5,213.8 L86.0,213.7 L86.5,213.7 L87.0,213.7 L87.5,213.7 L88.0,213.7 L88.5,213.6 L89.0,213.6 L89.5,213.6 L90.0,213.6 L90.5,213.5 L91.0,213.5 L91.5,213.5 L92.0,213.5 L92.5,213.4 L93.0,213.4 L93.5,213.4 L94.0,213.4 L94.5,213.3 L95.0,213.3 L95.5,213.3 L96.0,213.3 L96.5,213.2 L97.0,213.2 L97.5,213.2 L98.0,213.2 L98.5,213.1 L99.0,213.1 L99.5,213.1 L100.0,213.0 L100.5,213.0 L101.0,213.0 L101.5,212.9 L102.0,212.9 L102.5,212.9 L103.0,212.8 L103.5,212.8 L104.0,212.8 L104.5,212.7 L105.0,212.7 L105.5,212.7 L106.0,212.6 L106.5,212.6 L107.0,212.5 L107.5,212.5 L108.0,212.5 L108.5,212.4 L109.0,212.4 L109.5,212.3 L110.0,212.3 L110.5,212.3 L111.0,212.2 L111.5,212.2 L112.0,212.1 L112.5,212.1 L113.0,212.0 L113.5,212.0 L114.0,211.9 L114.5,211.9 L115.0,211.8 L115.5,211.8 L116.0,211.7 L116.5,211.7 L117.0,211.6 L117.5,211.6 L118.0,211.5 L118.5,211.4 L119.0,211.4 L119.5,211.3 L120.0,211.3 L120.5,211.2 L121.0,211.1 L121.5,211.1 L122.0,211.0 L122.5,210.9 L123.0,210.8 L123.5,210.8 L124.0,210.7 L124.5,210.6 L125.0,210.5 L125.5,210.5 L126.0,210.4 L126.5,210.3 L127.0,210.2 L127.5,210.1 L128.0,210.0 L128.4,210.0 L128.9,209.9 L129.4,209.8 L129.9,209.7 L130.4,209.6 L130.9,209.5 L131.4,209.4 L131.9,209.3 L132.4,209.2 L132.9,209.0 L133.4,208.9 L133.9,208.8 L134.4,208.7 L134.9,208.6 L135.4,208.4 L135.9,208.3 L136.4,208.2 L136.9,208.0 L137.4,207.9 L137.9,207.8 L138.4,207.6 L138.9,207.4 L139.4,207.3 L139.9,207.1 L140.4,207.0 L140.9,206.8 L141.4,206.6 L141.9,206.4 L142.4,206.2 L142.9,206.0 L143.4,205.8 L143.9,205.6 L144.4,205.4 L144.9,205.2 L145.4,205.0 L145.9,204.7 L146.4,204.5 L146.9,204.2 L147.4,203.9 L147.9,203.7 L148.4,203.4 L148.9,203.1 L149.4,202.8 L149.9,202.4 L150.4,202.1 L150.9,201.7 L151.4,201.4 L151.9,201.0 L152.4,200.6 L152.9,200.2 L153.4,199.7 L153.9,199.3 L154.4,198.8 L154.9,198.3 L155.4,197.8 L155.9,197.2 L156.4,196.6 L156.9,196.0 L157.4,195.4 L157.9,194.7 L158.4,194.0 L158.9,193.3 L159.4,192.6 L159.9,191.8 L160.4,190.9 L160.9,190.1 L161.4,189.2 L161.9,188.2 L162.4,187.2 L162.9,186.2 L163.4,185.1 L163.9,184.0 L164.4,182.8 L164.9,181.6 L165.4,180.3 L165.9,178.9 L166.4,177.5 L166.9,176.1 L167.4,174.6 L167.9,173.0 L168.4,171.4 L168.9,169.7 L169.4,167.9 L169.9,166.1 L170.4,164.2 L170.9,162.3 L171.4,160.3 L171.9,158.2 L172.4,156.1 L172.9,153.9 L173.4,151.7 L173.9,149.3 L174.4,147.0 L174.9,144.5 L175.4,142.0 L175.9,139.5 L176.4,136.9 L176.9,134.3 L177.4,131.6 L177.9,128.9 L178.4,126.2 L178.9,123.5 L179.4,120.7 L179.9,118.0 L180.4,115.2 L180.9,112.5 L181.4,109.8 L181.9,107.2 L182.4,104.6 L182.9,102.1 L183.4,99.7 L183.9,97.4 L184.4,95.2 L184.9,93.1 L185.4,91.3 L185.9,89.5 L186.4,88.0 L186.9,86.7 L187.4,85.6 L187.9,84.7 L188.4,84.0 L188.9,83.6 L189.4,83.4 L189.9,83.5 L190.4,83.7 L190.9,84.2 L191.4,84.9 L191.9,85.8 L192.4,86.9 L192.9,88.2 L193.4,89.6 L193.9,91.2 L194.4,93.0 L194.9,94.8 L195.4,96.8 L195.9,99.0 L196.4,101.2 L196.9,103.5 L197.4,105.8 L197.9,108.3 L198.4,110.7 L198.9,113.2 L199.4,115.8 L199.9,118.3 L200.4,120.9 L200.9,123.4 L201.4,126.0 L201.9,128.5 L202.4,131.0 L202.9,133.5 L203.4,136.0 L203.9,138.4 L204.4,140.8 L204.9,143.1 L205.4,145.4 L205.9,147.6 L206.4,149.8 L206.9,152.0 L207.4,154.1 L207.9,156.1 L208.4,158.1 L208.9,160.0 L209.4,161.9 L209.9,163.7 L210.4,165.5 L210.9,167.2 L211.4,168.8 L211.9,170.4 L212.4,172.0 L212.9,173.5 L213.4,174.9 L213.9,176.3 L214.4,177.7 L214.9,179.0 L215.4,180.2 L215.9,181.4 L216.4,182.6 L216.9,183.7 L217.4,184.7 L217.9,185.8 L218.4,186.7 L218.9,187.7 L219.4,188.6 L219.9,189.5 L220.4,190.3 L220.9,191.1 L221.4,191.9 L221.9,192.6 L222.4,193.3 L222.9,194.0 L223.4,194.6 L223.9,195.2 L224.4,195.8 L224.9,196.4 L225.4,197.0 L225.9,197.5 L226.4,198.0 L226.9,198.5 L227.4,198.9 L227.9,199.4 L228.4,199.8 L228.9,200.2 L229.4,200.6 L229.9,201.0 L230.4,201.3 L230.9,201.7 L231.4,202.0 L231.9,202.3 L232.4,202.6 L232.9,202.9 L233.4,203.2 L233.9,203.5 L234.4,203.8 L234.9,204.0 L235.4,204.3 L235.9,204.5 L236.4,204.7 L236.9,205.0 L237.4,205.2 L237.9,205.4 L238.4,205.6 L238.9,205.8 L239.4,206.0 L239.9,206.2 L240.4,206.4 L240.9,206.5 L241.4,206.7 L241.9,206.9 L242.4,207.0 L242.9,207.2 L243.4,207.3 L243.9,207.5 L244.4,207.6 L244.9,207.8 L245.4,207.9 L245.9,208.0 L246.4,208.2 L246.9,208.3 L247.4,208.4 L247.9,208.5 L248.4,208.6 L248.9,208.8 L249.4,208.9 L249.9,209.0 L250.4,209.1 L250.9,209.2 L251.4,209.3 L251.9,209.4 L252.4,209.5 L252.9,209.6 L253.4,209.7 L253.9,209.8 L254.4,209.9 L254.9,209.9 L255.4,210.0 L255.9,210.1 L256.4,210.2 L256.9,210.3 L257.4,210.4 L257.9,210.4 L258.4,210.5 L258.9,210.6 L259.4,210.7 L259.9,210.7 L260.4,210.8 L260.9,210.9 L261.4,210.9 L261.9,211.0 L262.4,211.1 L262.9,211.1 L263.4,211.2 L263.9,211.3 L264.4,211.3 L264.9,211.4 L265.4,211.4 L265.9,211.5 L266.4,211.5 L266.9,211.6 L267.4,211.6 L267.9,211.7 L268.4,211.8 L268.9,211.8 L269.4,211.9 L269.9,211.9 L270.4,212.0 L270.9,212.0 L271.4,212.0 L271.9,212.1 L272.4,212.1 L272.9,212.2 L273.4,212.2 L273.9,212.3 L274.4,212.3 L274.9,212.3 L275.4,212.4 L275.9,212.4 L276.4,212.5 L276.9,212.5 L277.4,212.5 L277.9,212.6 L278.4,212.6 L278.9,212.7 L279.4,212.7 L279.9,212.7 L280.4,212.8 L280.9,212.8 L281.4,212.8 L281.9,212.9 L282.4,212.9 L282.9,212.9 L283.4,213.0 L283.9,213.0 L284.4,213.0 L284.9,213.0 L285.4,213.1 L285.9,213.1 L286.4,213.1 L286.9,213.2 L287.4,213.2 L287.9,213.2 L288.4,213.2 L288.9,213.3 L289.4,213.3 L289.9,213.3 L290.4,213.4 L290.9,213.4 L291.4,213.4 L291.9,213.4 L292.4,213.5 L292.9,213.5 L293.4,213.5 L293.9,213.5 L294.4,213.5 L294.9,213.6 L295.4,213.6 L295.9,213.6 L296.4,213.6 L296.9,213.7 L297.4,213.7 L297.9,213.7 L298.4,213.7 L298.9,213.7 L299.4,213.8 L299.9,213.8 L300.4,213.8 L300.9,213.8 L301.4,213.8 L301.9,213.9 L302.4,213.9 L302.9,213.9 L303.4,213.9 L303.9,213.9 L304.4,213.9 L304.9,214.0 L305.4,214.0 L305.9,214.0 L306.4,214.0" fill="none" stroke="#939c55" stroke-width="1.5" stroke-linejoin="round"/>
<path d="M13.5,210.7 L14.0,210.6 L14.5,210.6 L15.0,210.6 L15.5,210.5 L16.0,210.5 L16.5,210.4 L17.0,210.3 L17.5,210.3 L18.0,210.2 L18.5,210.2 L19.0,210.1 L19.5,210.1 L20.0,210.0 L20.5,210.0 L21.0,209.9 L21.5,209.8 L22.0,209.8 L22.5,209.7 L23.0,209.7 L23.5,209.6 L24.0,209.5 L24.5,209.5 L25.0,209.4 L25.5,209.3 L26.0,209.3 L26.5,209.2 L27.0,209.1 L27.5,209.1 L28.0,209.0 L28.5,208.9 L29.0,208.8 L29.5,208.8 L30.0,208.7 L30.5,208.6 L31.0,208.5 L31.5,208.5 L32.0,208.4 L32.5,208.3 L33.0,208.2 L33.5,208.1 L34.0,208.0 L34.5,208.0 L35.0,207.9 L35.5,207.8 L36.0,207.7 L36.5,207.6 L37.0,207.5 L37.5,207.4 L38.0,207.3 L38.5,207.2 L39.0,207.1 L39.5,207.0 L40.0,206.9 L40.5,206.8 L41.0,206.7 L41.5,206.6 L42.0,206.5 L42.5,206.4 L43.0,206.2 L43.5,206.1 L44.0,206.0 L44.5,205.9 L45.0,205.8 L45.5,205.6 L46.0,205.5 L46.5,205.4 L47.0,205.3 L47.5,205.1 L48.0,205.0 L48.5,204.9 L49.0,204.7 L49.5,204.6 L50.0,204.4 L50.5,204.3 L51.0,204.2 L51.5,204.0 L52.0,203.9 L52.5,203.7 L53.0,203.5 L53.5,203.4 L54.0,203.2 L54.5,203.1 L55.0,202.9 L55.5,202.7 L56.0,202.6 L56.5,202.4 L57.0,202.2 L57.5,202.1 L58.0,201.9 L58.5,201.7 L59.0,201.5 L59.5,201.3 L60.0,201.2 L60.5,201.0 L61.0,200.8 L61.5,200.6 L62.0,200.4 L62.5,200.2 L63.0,200.0 L63.5,199.8 L64.0,199.6 L64.5,199.4 L65.0,199.2 L65.5,199.0 L66.0,198.8 L66.5,198.6 L67.0,198.4 L67.5,198.2 L68.0,197.9 L68.5,197.7 L69.0,197.5 L69.5,197.3 L70.0,197.1 L70.5,196.9 L71.0,196.7 L71.5,196.4 L72.0,196.2 L72.5,196.0 L73.0,195.8 L73.5,195.6 L74.0,195.4 L74.5,195.2 L75.0,195.0 L75.5,194.8 L76.0,194.6 L76.5,194.4 L77.0,194.2 L77.5,194.0 L78.0,193.8 L78.5,193.6 L79.0,193.4 L79.5,193.3 L80.0,193.1 L80.5,192.9 L81.0,192.8 L81.5,192.6 L82.0,192.4 L82.5,192.3 L83.0,192.1 L83.5,192.0 L84.0,191.8 L84.5,191.7 L85.0,191.6 L85.5,191.4 L86.0,191.3 L86.5,191.2 L87.0,191.1 L87.5,191.0 L88.0,190.9 L88.5,190.8 L89.0,190.7 L89.5,190.6 L90.0,190.6 L90.5,190.5 L91.0,190.4 L91.5,190.4 L92.0,190.3 L92.5,190.3 L93.0,190.3 L93.5,190.3 L94.0,190.3 L94.5,190.3 L95.0,190.3 L95.5,190.3 L96.0,190.3 L96.5,190.3 L97.0,190.3 L97.5,190.4 L98.0,190.4 L98.5,190.5 L99.0,190.5 L99.5,190.6 L100.0,190.6 L100.5,190.7 L101.0,190.8 L101.5,190.9 L102.0,190.9 L102.5,191.0 L103.0,191.1 L103.5,191.2 L104.0,191.2 L104.5,191.3 L105.0,191.4 L105.5,191.5 L106.0,191.5 L106.5,191.6 L107.0,191.7 L107.5,191.7 L108.0,191.8 L108.5,191.9 L109.0,191.9 L109.5,192.0 L110.0,192.0 L110.5,192.1 L111.0,192.1 L111.5,192.2 L112.0,192.2 L112.5,192.2 L113.0,192.2 L113.5,192.3 L114.0,192.3 L114.5,192.3 L115.0,192.3 L115.5,192.3 L116.0,192.2 L116.5,192.2 L117.0,192.2 L117.5,192.1 L118.0,192.1 L118.5,192.0 L119.0,191.9 L119.5,191.8 L120.0,191.8 L120.5,191.6 L121.0,191.5 L121.5,191.4 L122.0,191.2 L122.5,191.1 L123.0,190.9 L123.5,190.7 L124.0,190.5 L124.5,190.3 L125.0,190.1 L125.5,189.8 L126.0,189.6 L126.5,189.3 L127.0,189.0 L127.5,188.7 L128.0,188.3 L128.4,188.0 L128.9,187.6 L129.4,187.2 L129.9,186.8 L130.4,186.4 L130.9,185.9 L131.4,185.5 L131.9,185.0 L132.4,184.5 L132.9,184.0 L133.4,183.5 L133.9,182.9 L134.4,182.4 L134.9,181.8 L135.4,181.2 L135.9,180.6 L136.4,179.9 L136.9,179.3 L137.4,178.6 L137.9,177.9 L138.4,177.2 L138.9,176.4 L139.4,175.6 L139.9,174.8 L140.4,174.0 L140.9,173.1 L141.4,172.2 L141.9,171.3 L142.4,170.3 L142.9,169.3 L143.4,168.2 L143.9,167.1 L144.4,166.0 L144.9,164.8 L145.4,163.5 L145.9,162.2 L146.4,160.9 L146.9,159.5 L147.4,158.1 L147.9,156.6 L148.4,155.0 L148.9,153.4 L149.4,151.7 L149.9,150.0 L150.4,148.2 L150.9,146.4 L151.4,144.5 L151.9,142.6 L152.4,140.7 L152.9,138.7 L153.4,136.8 L153.9,134.7 L154.4,132.7 L154.9,130.7 L155.4,128.7 L155.9,126.7 L156.4,124.7 L156.9,122.7 L157.4,120.8 L157.9,119.0 L158.4,117.1 L158.9,115.4 L159.4,113.7 L159.9,112.1 L160.4,110.6 L160.9,109.2 L161.4,107.9 L161.9,106.6 L162.4,105.5 L162.9,104.5 L163.4,103.5 L163.9,102.7 L164.4,101.9 L164.9,101.2 L165.4,100.6 L165.9,100.0 L166.4,99.5 L166.9,99.1 L167.4,98.6 L167.9,98.2 L168.4,97.9 L168.9,97.5 L169.4,97.1 L169.9,96.7 L170.4,96.3 L170.9,95.9 L171.4,95.4 L171.9,94.9 L172.4,94.3 L172.9,93.6 L173.4,92.9 L173.9,92.2 L174.4,91.4 L174.9,90.5 L175.4,89.5 L175.9,88.4 L176.4,87.3 L176.9,86.1 L177.4,84.9 L177.9,83.6 L178.4,82.2 L178.9,80.8 L179.4,79.3 L179.9,77.8 L180.4,76.2 L180.9,74.7 L181.4,73.1 L181.9,71.5 L182.4,70.0 L182.9,68.5 L183.4,67.1 L183.9,65.7 L184.4,64.4 L184.9,63.2 L185.4,62.2 L185.9,61.3 L186.4,60.5 L186.9,59.9 L187.4,59.5 L187.9,59.2 L188.4,59.2 L188.9,59.4 L189.4,59.8 L189.9,60.4 L190.4,61.2 L190.9,62.2 L191.4,63.4 L191.9,64.7 L192.4,66.2 L192.9,67.9 L193.4,69.7 L193.9,71.6 L194.4,73.7 L194.9,75.9 L195.4,78.2 L195.9,80.6 L196.4,83.1 L196.9,85.6 L197.4,88.2 L197.9,90.9 L198.4,93.5 L198.9,96.3 L199.4,99.0 L199.9,101.7 L200.4,104.5 L200.9,107.2 L201.4,110.0 L201.9,112.7 L202.4,115.4 L202.9,118.1 L203.4,120.8 L203.9,123.4 L204.4,126.0 L204.9,128.5 L205.4,131.0 L205.9,133.5 L206.4,135.9 L206.9,138.3 L207.4,140.7 L207.9,142.9 L208.4,145.2 L208.9,147.4 L209.4,149.5 L209.9,151.6 L210.4,153.6 L210.9,155.6 L211.4,157.5 L211.9,159.4 L212.4,161.2 L212.9,163.0 L213.4,164.7 L213.9,166.4 L214.4,168.1 L214.9,169.6 L215.4,171.2 L215.9,172.7 L216.4,174.1 L216.9,175.5 L217.4,176.8 L217.9,178.1 L218.4,179.4 L218.9,180.6 L219.4,181.7 L219.9,182.9 L220.4,183.9 L220.9,184.9 L221.4,185.9 L221.9,186.9 L222.4,187.8 L222.9,188.6 L223.4,189.4 L223.9,190.2 L224.4,190.9 L224.9,191.6 L225.4,192.3 L225.9,192.9 L226.4,193.5 L226.9,194.1 L227.4,194.6 L227.9,195.1 L228.4,195.6 L228.9,196.1 L229.4,196.5 L229.9,197.0 L230.4,197.4 L230.9,197.8 L231.4,198.2 L231.9,198.5 L232.4,198.9 L232.9,199.2 L233.4,199.5 L233.9,199.9 L234.4,200.2 L234.9,200.5 L235.4,200.8 L235.9,201.0 L236.4,201.3 L236.9,201.6 L237.4,201.8 L237.9,202.1 L238.4,202.3 L238.9,202.6 L239.4,202.8 L239.9,203.0 L240.4,203.2 L240.9,203.4 L241.4,203.6 L241.9,203.8 L242.4,204.0 L242.9,204.2 L243.4,204.4 L243.9,204.5 L244.4,204.7 L244.9,204.9 L245.4,205.0 L245.9,205.2 L246.4,205.3 L246.9,205.4 L247.4,205.6 L247.9,205.7 L248.4,205.8 L248.9,205.9 L249.4,206.0 L249.9,206.1 L250.4,206.2 L250.9,206.3 L251.4,206.4 L251.9,206.5 L252.4,206.6 L252.9,206.6 L253.4,206.7 L253.9,206.8 L254.4,206.9 L254.9,207.0 L255.4,207.1 L255.9,207.1 L256.4,207.2 L256.9,207.3 L257.4,207.4 L257.9,207.5 L258.4,207.6 L258.9,207.7 L259.4,207.8 L259.9,207.9 L260.4,208.0 L260.9,208.1 L261.4,208.1 L261.9,208.2 L262.4,208.3 L262.9,208.4 L263.4,208.5 L263.9,208.6 L264.4,208.7 L264.9,208.7 L265.4,208.8 L265.9,208.9 L266.4,209.0 L266.9,209.1 L267.4,209.1 L267.9,209.2 L268.4,209.3 L268.9,209.3 L269.4,209.4 L269.9,209.5 L270.4,209.6 L270.9,209.6 L271.4,209.7 L271.9,209.8 L272.4,209.8 L272.9,209.9 L273.4,209.9 L273.9,210.0 L274.4,210.1 L274.9,210.1 L275.4,210.2 L275.9,210.2 L276.4,210.3 L276.9,210.3 L277.4,210.4 L277.9,210.5 L278.4,210.5 L278.9,210.6 L279.4,210.6 L279.9,210.7 L280.4,210.7 L280.9,210.8 L281.4,210.8 L281.9,210.9 L282.4,210.9 L282.9,211.0 L283.4,211.0 L283.9,211.0 L284.4,211.1 L284.9,211.1 L285.4,211.2 L285.9,211.2 L286.4,211.3 L286.9,211.3 L287.4,211.3 L287.9,211.4 L288.4,211.4 L288.9,211.5 L289.4,211.5 L289.9,211.5 L290.4,211.6 L290.9,211.6 L291.4,211.7 L291.9,211.7 L292.4,211.7 L292.9,211.8 L293.4,211.8 L293.9,211.8 L294.4,211.9 L294.9,211.9 L295.4,211.9 L295.9,212.0 L296.4,212.0 L296.9,212.0 L297.4,212.1 L297.9,212.1 L298.4,212.1 L298.9,212.2 L299.4,212.2 L299.9,212.2 L300.4,212.2 L300.9,212.3 L301.4,212.3 L301.9,212.3 L302.4,212.4 L302.9,212.4 L303.4,212.4 L303.9,212.4 L304.4,212.5 L304.9,212.5 L305.4,212.5 L305.9,212.5 L306.4,212.6" fill="none" stroke="#b4454a" stroke-width="1.8" stroke-linejoin="round"/>
<path d="M13.4,214.0 L15.6,214.0 L17.8,213.1 L19.9,212.2 L22.0,212.0 L24.1,210.9 L26.2,211.1 L28.3,211.6 L30.2,209.1 L31.5,207.3 L33.1,206.6 L34.9,207.5 L36.3,209.0 L38.1,208.9 L39.6,208.2 L40.6,206.5 L41.5,203.6 L42.5,202.0 L43.6,199.5 L44.7,197.7 L46.3,195.4 L47.4,198.9 L48.4,200.1 L50.2,201.2 L51.5,199.4 L52.6,197.3 L53.9,194.2 L55.4,193.6 L57.4,193.1 L59.5,192.7 L61.7,190.8 L63.9,191.7 L66.1,191.0 L68.2,190.8 L70.3,191.9 L72.5,189.6 L74.7,190.3 L76.9,191.4 L79.0,190.2 L81.2,191.1 L83.3,191.9 L85.4,192.5 L87.6,191.3 L89.7,192.0 L91.9,193.2 L93.7,192.2 L95.4,195.2 L97.4,195.6 L99.5,195.6 L101.6,198.6 L103.7,198.1 L105.8,197.1 L107.9,198.8 L110.1,199.3 L112.2,197.9 L114.2,197.7 L116.2,196.1 L118.2,195.8 L120.2,195.4 L122.0,192.6 L123.4,191.5 L124.7,189.4 L125.9,187.9 L127.2,185.3 L129.0,184.2 L130.4,186.3 L132.0,187.4 L132.9,185.2 L133.6,182.3 L134.3,180.3 L134.9,178.7 L135.6,175.7 L136.3,174.1 L137.6,172.7 L138.7,175.3 L139.9,177.1 L141.1,174.4 L142.0,172.4 L142.7,170.4 L143.4,168.9 L144.2,166.2 L145.0,164.2 L146.3,163.7 L146.8,165.5 L147.6,164.6 L147.9,162.3 L148.2,160.3 L148.5,158.0 L148.7,156.1 L149.0,153.8 L149.4,151.5 L149.9,149.6 L150.9,147.3 L152.1,146.1 L152.9,143.6 L153.5,141.7 L154.1,139.0 L154.8,137.4 L155.5,134.7 L156.1,132.5 L156.8,130.9 L157.6,128.7 L158.3,126.9 L158.9,125.3 L159.4,122.4 L159.9,120.3 L160.3,118.4 L160.8,116.3 L161.3,114.0 L161.8,111.8 L162.5,110.0 L163.1,107.8 L163.5,105.3 L163.9,103.3 L164.4,101.2 L165.2,98.8 L166.0,97.2 L166.8,94.8 L167.6,93.3 L168.3,91.0 L169.1,88.9 L170.0,86.7 L170.9,84.8 L171.6,82.1 L172.3,80.3 L172.9,78.7 L173.5,75.9 L174.1,74.6 L174.8,71.7 L175.5,70.4 L176.2,67.9 L176.6,66.1 L177.0,63.8 L177.3,61.3 L177.7,59.9 L178.6,59.5 L179.2,60.6 L180.3,61.2 L181.2,59.3 L182.0,56.7 L183.5,57.9 L184.4,59.1 L184.8,61.4 L185.0,63.5 L185.3,65.5 L186.9,66.4 L188.7,69.1 L189.9,70.1 L190.4,72.4 L190.5,74.5 L192.2,73.0 L193.3,75.3 L194.2,77.3 L194.8,79.5 L195.4,81.5 L196.0,83.7 L196.5,85.6 L197.0,87.9 L197.5,90.6 L197.9,92.2 L198.4,94.3 L198.8,96.7 L199.3,99.2 L199.9,100.5 L200.6,103.0 L201.3,104.9 L201.9,106.8 L202.4,109.6 L202.9,111.5 L203.4,113.7 L203.8,115.7 L204.1,118.1 L204.3,120.1 L204.6,122.3 L205.1,124.2 L206.0,126.0 L207.1,128.9 L207.7,130.4 L208.3,132.7 L208.8,134.8 L209.3,136.8 L209.9,138.9 L210.5,141.3 L211.2,143.2 L211.7,145.4 L212.1,147.6 L212.5,150.0 L212.9,152.0 L213.3,154.1 L213.8,156.1 L214.4,157.9 L215.1,160.7 L215.8,162.8 L216.5,164.5 L217.2,166.8 L218.0,169.0 L218.6,171.0 L218.9,173.2 L219.2,175.1 L219.8,177.8 L220.8,178.7 L221.8,181.5 L222.5,183.5 L223.1,185.7 L223.8,188.1 L224.6,190.1 L225.4,191.2 L226.4,192.7 L227.8,195.7 L229.1,196.6 L230.0,199.0 L230.8,201.4 L231.6,202.5 L232.7,204.1 L234.0,207.0 L235.4,208.5 L236.9,210.0 L238.5,211.7 L239.9,212.8 L241.4,214.1 L242.9,216.4 L244.8,216.8 L246.9,216.6 L249.1,218.9 L251.3,218.7 L253.4,219.6 L255.4,219.5 L257.3,220.9 L259.4,221.1 L261.6,221.3 L263.8,222.5 L266.0,221.4 L268.1,222.1 L270.2,221.3 L272.2,221.7 L274.2,217.9 L276.4,220.2 L278.4,220.3 L280.5,221.0 L282.7,219.5 L284.8,220.2 L287.0,221.1 L289.2,220.0 L291.4,220.2 L293.6,219.8 L295.8,221.4 L298.0,220.1 L300.2,217.7 L302.4,219.0 L304.6,217.4" fill="none" stroke="#1e1e1e" stroke-width="1.45" stroke-linejoin="round"/>
<line x1="90.2" y1="241.1" x2="90.2" y2="167.5" stroke="#333" stroke-width="1.9" stroke-dasharray="5 3.7"/>
<line x1="162.1" y1="241.1" x2="162.1" y2="72.6" stroke="#333" stroke-width="1.9" stroke-dasharray="5 3.7"/>
<line x1="190.2" y1="241.1" x2="190.2" y2="36.0" stroke="#333" stroke-width="1.9" stroke-dasharray="5 3.7"/>
<line x1="13.5" y1="243.7" x2="306.6" y2="243.7" stroke="#555" stroke-width="1.6"/>
<line x1="306.6" y1="242.9" x2="306.6" y2="248.7" stroke="#555" stroke-width="1.4"/>
<text transform="translate(304.9,263.2) scale(1.08,1)" text-anchor="middle" class="tk">280</text>
<line x1="279.9" y1="242.9" x2="279.9" y2="246.5" stroke="#555" stroke-width="1.4"/>
<line x1="253.3" y1="242.9" x2="253.3" y2="248.7" stroke="#555" stroke-width="1.4"/>
<text transform="translate(252.5,263.2) scale(1.08,1)" text-anchor="middle" class="tk">282</text>
<line x1="226.6" y1="242.9" x2="226.6" y2="246.5" stroke="#555" stroke-width="1.4"/>
<line x1="200.0" y1="242.9" x2="200.0" y2="248.7" stroke="#555" stroke-width="1.4"/>
<text transform="translate(201.6,263.2) scale(1.08,1)" text-anchor="middle" class="tk">284</text>
<line x1="173.3" y1="242.9" x2="173.3" y2="246.5" stroke="#555" stroke-width="1.4"/>
<line x1="146.7" y1="242.9" x2="146.7" y2="248.7" stroke="#555" stroke-width="1.4"/>
<text transform="translate(148.6,263.2) scale(1.08,1)" text-anchor="middle" class="tk">286</text>
<line x1="120.0" y1="242.9" x2="120.0" y2="246.5" stroke="#555" stroke-width="1.4"/>
<line x1="93.4" y1="242.9" x2="93.4" y2="248.7" stroke="#555" stroke-width="1.4"/>
<text transform="translate(97.1,263.2) scale(1.08,1)" text-anchor="middle" class="tk">288</text>
<line x1="66.8" y1="242.9" x2="66.8" y2="246.5" stroke="#555" stroke-width="1.4"/>
<line x1="40.1" y1="242.9" x2="40.1" y2="248.7" stroke="#555" stroke-width="1.4"/>
<text transform="translate(41.6,263.2) scale(1.08,1)" text-anchor="middle" class="tk">290</text>
<line x1="13.5" y1="242.9" x2="13.5" y2="246.5" stroke="#555" stroke-width="1.4"/>
<text transform="translate(123.62,24.9) scale(1.0838028169014085,1)" class="a">C-C, C-H, C=C (</text>
<text transform="translate(232.89,24.9) scale(1.207394366197183,1)" class="a">284.3</text>
<text transform="translate(273.17,24.9) scale(1.0600352112676057,1)" class="a">eV)</text>
<text transform="translate(69.72,65.5) scale(1.0838028169014085,1)" class="a">C-O (</text>
<text transform="translate(106.03,65.5) scale(1.207394366197183,1)" class="a">285.4</text>
<text transform="translate(146.31,65.5) scale(1.0600352112676057,1)" class="a">eV)</text>
<text transform="translate(37.02,154.3) scale(1.0838028169014085,1)" class="a">C=O (</text>
<text transform="translate(76.75,154.3) scale(1.207394366197183,1)" class="a">288.1</text>
<text transform="translate(117.03,154.3) scale(1.0600352112676057,1)" class="a">eV)</text>
<text transform="translate(110.6,285.8) scale(1.03,1)" class="t">Binding energy<tspan dx="-1.7"> (eV)</tspan></text>
<text transform="translate(1.0,22.1) scale(1.0,1)" class="L">A</text>
<path d="M358.5,204.1 L359.0,204.1 L359.5,204.1 L360.0,204.1 L360.5,204.1 L361.0,204.1 L361.5,204.1 L362.0,204.1 L362.5,204.2 L363.0,204.2 L363.5,204.2 L364.0,204.2 L364.5,204.2 L365.0,204.2 L365.5,204.2 L366.0,204.2 L366.5,204.2 L367.0,204.2 L367.5,204.2 L368.0,204.2 L368.5,204.2 L369.0,204.3 L369.5,204.3 L370.0,204.3 L370.5,204.3 L371.0,204.3 L371.5,204.3 L372.0,204.3 L372.5,204.3 L373.0,204.3 L373.5,204.3 L374.0,204.3 L374.5,204.3 L375.0,204.4 L375.5,204.4 L376.0,204.4 L376.5,204.4 L377.0,204.4 L377.5,204.4 L378.0,204.4 L378.5,204.4 L379.0,204.4 L379.5,204.4 L380.0,204.4 L380.5,204.4 L381.0,204.4 L381.5,204.5 L382.0,204.5 L382.5,204.5 L383.0,204.5 L383.5,204.5 L384.0,204.5 L384.5,204.5 L385.0,204.5 L385.5,204.5 L386.0,204.5 L386.5,204.5 L387.0,204.5 L387.5,204.6 L388.0,204.6 L388.5,204.6 L389.0,204.6 L389.5,204.6 L390.0,204.6 L390.5,204.6 L391.0,204.6 L391.5,204.6 L392.0,204.6 L392.5,204.6 L393.0,204.6 L393.5,204.6 L394.0,204.7 L394.5,204.7 L395.0,204.7 L395.5,204.7 L396.0,204.7 L396.5,204.7 L397.0,204.7 L397.5,204.7 L398.0,204.7 L398.5,204.7 L399.0,204.7 L399.5,204.7 L400.0,204.7 L400.5,204.8 L401.0,204.8 L401.5,204.8 L402.0,204.8 L402.5,204.8 L403.0,204.8 L403.5,204.8 L404.0,204.8 L404.5,204.8 L405.0,204.8 L405.5,204.8 L406.0,204.8 L406.5,204.9 L407.0,204.9 L407.5,204.9 L408.0,204.9 L408.5,204.9 L409.0,204.9 L409.5,204.9 L410.0,204.9 L410.5,204.9 L411.0,204.9 L411.5,204.9 L412.0,204.9 L412.5,204.9 L413.0,205.0 L413.5,205.0 L414.0,205.0 L414.5,205.0 L415.0,205.0 L415.5,205.0 L416.0,205.0 L416.5,205.0 L417.0,205.0 L417.5,205.0 L418.0,205.0 L418.5,205.0 L419.0,205.1 L419.5,205.1 L420.0,205.1 L420.5,205.1 L421.0,205.1 L421.5,205.1 L422.0,205.1 L422.5,205.1 L423.0,205.1 L423.5,205.1 L424.0,205.1 L424.5,205.1 L425.0,205.1 L425.5,205.2 L426.0,205.2 L426.5,205.2 L427.0,205.2 L427.5,205.2 L428.0,205.2 L428.5,205.2 L429.0,205.2 L429.5,205.2 L430.0,205.2 L430.5,205.2 L431.0,205.2 L431.5,205.3 L432.0,205.3 L432.5,205.3 L433.0,205.3 L433.5,205.3 L434.0,205.3 L434.5,205.3 L435.0,205.3 L435.5,205.3 L436.0,205.3 L436.5,205.3 L437.0,205.3 L437.5,205.3 L438.0,205.4 L438.5,205.4 L439.0,205.4 L439.5,205.4 L440.0,205.4 L440.5,205.4 L441.0,205.4 L441.5,205.4 L442.0,205.4 L442.5,205.4 L443.0,205.4 L443.5,205.4 L444.0,205.5 L444.5,205.5 L445.0,205.5 L445.5,205.5 L446.0,205.5 L446.5,205.5 L447.0,205.5 L447.5,205.5 L448.0,205.5 L448.5,205.5 L449.0,205.5 L449.5,205.5 L450.0,205.5 L450.5,205.6 L451.0,205.6 L451.5,205.6 L452.0,205.6 L452.5,205.6 L453.0,205.6 L453.5,205.6 L454.0,205.6 L454.5,205.6 L455.0,205.6 L455.5,205.6 L456.0,205.6 L456.5,205.7 L457.0,205.7 L457.5,205.7 L458.0,205.7 L458.5,205.7 L459.0,205.7 L459.5,205.7 L460.0,205.7 L460.5,205.7 L461.0,205.7 L461.5,205.7 L462.0,205.7 L462.5,205.7 L463.0,205.8 L463.5,205.8 L464.0,205.8 L464.5,205.8 L465.0,205.8 L465.5,205.8 L466.0,205.8 L466.5,205.8 L467.0,205.8 L467.5,205.8 L468.0,205.8 L468.5,205.8 L469.0,205.9 L469.5,205.9 L470.0,205.9 L470.5,205.9 L471.0,205.9 L471.5,205.9 L472.0,205.9 L472.5,205.9 L473.0,205.9 L473.5,205.9 L474.0,205.9 L474.5,205.9 L475.0,205.9 L475.5,206.0 L476.0,206.0 L476.5,206.0 L477.0,206.0 L477.5,206.0 L478.0,206.0 L478.5,206.0 L479.0,206.0 L479.5,206.0 L480.0,206.0 L480.5,206.0 L481.0,206.0 L481.5,206.0 L482.0,206.1 L482.5,206.1 L483.0,206.1 L483.5,206.1 L484.0,206.1 L484.5,206.1 L485.0,206.1 L485.5,206.1 L486.0,206.1 L486.5,206.1 L487.0,206.1 L487.5,206.1 L488.0,206.2 L488.5,206.2 L489.0,206.2 L489.5,206.2 L490.0,206.2 L490.5,206.2 L491.0,206.2 L491.5,206.2 L492.0,206.2 L492.5,206.2 L493.0,206.2 L493.5,206.2 L494.0,206.2 L494.5,206.3 L495.0,206.3 L495.5,206.3 L496.0,206.3 L496.5,206.3 L497.0,206.3 L497.5,206.3 L498.0,206.3 L498.5,206.3 L499.0,206.3 L499.5,206.3 L500.0,206.3 L500.5,206.4 L501.0,206.4 L501.5,206.4 L502.0,206.4 L502.5,206.4 L503.0,206.4 L503.5,206.4 L504.0,206.4 L504.5,206.4 L505.0,206.4 L505.5,206.4 L506.0,206.4 L506.5,206.4 L507.0,206.5 L507.5,206.5 L508.0,206.5 L508.5,206.5 L509.0,206.5 L509.5,206.5 L510.0,206.5 L510.5,206.5 L511.0,206.5 L511.5,206.5 L512.0,206.5 L512.5,206.5 L513.0,206.6 L513.5,206.6 L514.0,206.6 L514.5,206.6 L515.0,206.6 L515.5,206.6 L516.0,206.6 L516.5,206.6 L517.0,206.6 L517.5,206.6 L518.0,206.6 L518.5,206.6 L519.0,206.6 L519.5,206.7 L520.0,206.7 L520.5,206.7 L521.0,206.7 L521.5,206.7 L522.0,206.7 L522.5,206.7 L523.0,206.7 L523.5,206.7 L524.0,206.7 L524.5,206.7 L525.0,206.7 L525.5,206.8 L526.0,206.8 L526.5,206.8 L527.0,206.8 L527.5,206.8 L528.0,206.8 L528.5,206.8 L529.0,206.8 L529.5,206.8 L530.0,206.8 L530.5,206.8 L531.0,206.8 L531.5,206.8 L532.0,206.9 L532.5,206.9 L533.0,206.9 L533.5,206.9 L534.0,206.9 L534.5,206.9 L535.0,206.9 L535.5,206.9 L536.0,206.9 L536.5,206.9 L537.0,206.9 L537.5,206.9 L538.0,207.0 L538.5,207.0 L539.0,207.0 L539.5,207.0 L540.0,207.0 L540.5,207.0 L541.0,207.0 L541.5,207.0 L542.0,207.0 L542.5,207.0 L543.0,207.0 L543.5,207.0 L544.0,207.0 L544.5,207.1 L545.0,207.1 L545.5,207.1 L546.0,207.1 L546.5,207.1 L547.0,207.1 L547.5,207.1 L548.0,207.1 L548.5,207.1 L549.0,207.1 L549.5,207.1 L550.0,207.1 L550.5,207.2 L551.0,207.2 L551.5,207.2 L552.0,207.2 L552.5,207.2 L553.0,207.2 L553.5,207.2 L554.0,207.2 L554.5,207.2 L555.0,207.2 L555.5,207.2 L556.0,207.2 L556.5,207.2 L557.0,207.3 L557.5,207.3 L558.0,207.3 L558.5,207.3 L559.0,207.3 L559.5,207.3 L560.0,207.3 L560.5,207.3 L561.0,207.3 L561.5,207.3 L562.0,207.3 L562.5,207.3 L563.0,207.3 L563.5,207.4 L564.0,207.4 L564.5,207.4 L565.0,207.4 L565.5,207.4 L566.0,207.4 L566.5,207.4 L567.0,207.4 L567.5,207.4 L568.0,207.4 L568.5,207.4 L569.0,207.4 L569.5,207.5 L570.0,207.5 L570.5,207.5 L571.0,207.5 L571.5,207.5 L572.0,207.5 L572.5,207.5 L573.0,207.5 L573.5,207.5 L574.0,207.5 L574.5,207.5 L575.0,207.5 L575.5,207.5 L576.0,207.6 L576.5,207.6 L577.0,207.6 L577.5,207.6 L578.0,207.6 L578.5,207.6 L579.0,207.6 L579.5,207.6 L580.0,207.6 L580.5,207.6 L581.0,207.6 L581.5,207.6 L582.0,207.7 L582.5,207.7 L583.0,207.7 L583.5,207.7 L584.0,207.7 L584.5,207.7 L585.0,207.7 L585.5,207.7 L586.0,207.7 L586.5,207.7 L587.0,207.7 L587.5,207.7 L588.0,207.7 L588.5,207.8 L589.0,207.8 L589.5,207.8 L590.0,207.8 L590.5,207.8 L591.0,207.8 L591.5,207.8 L592.0,207.8 L592.5,207.8 L593.0,207.8 L593.5,207.8 L594.0,207.8 L594.5,207.9 L595.0,207.9 L595.5,207.9 L596.0,207.9 L596.5,207.9 L597.0,207.9 L597.5,207.9 L598.0,207.9 L598.5,207.9 L599.0,207.9 L599.5,207.9 L600.0,207.9 L600.5,207.9 L601.0,208.0 L601.5,208.0 L602.0,208.0 L602.5,208.0 L603.0,208.0 L603.5,208.0 L604.0,208.0 L604.5,208.0 L605.0,208.0 L605.5,208.0 L606.0,208.0 L606.5,208.0 L607.0,208.1 L607.5,208.1 L608.0,208.1 L608.5,208.1 L609.0,208.1 L609.5,208.1 L610.0,208.1 L610.5,208.1 L611.0,208.1 L611.5,208.1 L612.0,208.1 L612.5,208.1 L613.0,208.1 L613.5,208.2 L614.0,208.2 L614.5,208.2 L615.0,208.2 L615.5,208.2 L616.0,208.2 L616.5,208.2 L617.0,208.2 L617.5,208.2 L618.0,208.2 L618.5,208.2 L619.0,208.2 L619.5,208.3 L620.0,208.3 L620.5,208.3 L621.0,208.3 L621.5,208.3 L622.0,208.3 L622.5,208.3 L623.0,208.3 L623.5,208.3 L624.0,208.3 L624.5,208.3 L625.0,208.3 L625.5,208.3 L626.0,208.4 L626.5,208.4 L627.0,208.4 L627.5,208.4 L628.0,208.4 L628.5,208.4 L629.0,208.4 L629.5,208.4 L630.0,208.4 L630.5,208.4 L631.0,208.4 L631.5,208.4 L632.0,208.5 L632.5,208.5 L633.0,208.5 L633.5,208.5 L634.0,208.5 L634.5,208.5 L635.0,208.5 L635.5,208.5 L636.0,208.5 L636.5,208.5 L637.0,208.5 L637.5,208.5 L638.0,208.5 L638.5,208.6 L639.0,208.6 L639.5,208.6 L640.0,208.6 L640.5,208.6 L641.0,208.6 L641.5,208.6 L642.0,208.6 L642.5,208.6 L643.0,208.6 L643.5,208.6 L644.0,208.6 L644.5,208.6 L645.0,208.7 L645.5,208.7 L646.0,208.7 L646.5,208.7 L647.0,208.7 L647.5,208.7 L648.0,208.7 L648.5,208.7 L649.0,208.7 L649.5,208.7 L650.0,208.7 L650.5,208.7 L651.0,208.8 L651.5,208.8 L652.0,208.8" fill="none" stroke="#3d4d9c" stroke-width="1.6" stroke-linejoin="round"/>
<path d="M358.5,202.7 L359.0,202.7 L359.5,202.7 L360.0,202.6 L360.5,202.6 L361.0,202.6 L361.5,202.6 L362.0,202.6 L362.5,202.6 L363.0,202.6 L363.5,202.6 L364.0,202.6 L364.5,202.5 L365.0,202.5 L365.5,202.5 L366.0,202.5 L366.5,202.5 L367.0,202.5 L367.5,202.4 L368.0,202.4 L368.5,202.4 L369.0,202.4 L369.5,202.4 L370.0,202.4 L370.5,202.3 L371.0,202.3 L371.5,202.3 L372.0,202.3 L372.5,202.3 L373.0,202.2 L373.5,202.2 L374.0,202.2 L374.5,202.2 L375.0,202.1 L375.5,202.1 L376.0,202.1 L376.5,202.1 L377.0,202.0 L377.5,202.0 L378.0,202.0 L378.5,201.9 L379.0,201.9 L379.5,201.9 L380.0,201.8 L380.5,201.8 L381.0,201.8 L381.5,201.7 L382.0,201.7 L382.5,201.7 L383.0,201.6 L383.5,201.6 L384.0,201.5 L384.5,201.5 L385.0,201.5 L385.5,201.4 L386.0,201.4 L386.5,201.3 L387.0,201.3 L387.5,201.2 L388.0,201.2 L388.5,201.1 L389.0,201.1 L389.5,201.0 L390.0,200.9 L390.5,200.9 L391.0,200.8 L391.5,200.8 L392.0,200.7 L392.5,200.6 L393.0,200.5 L393.5,200.5 L394.0,200.4 L394.5,200.3 L395.0,200.2 L395.5,200.2 L396.0,200.1 L396.5,200.0 L397.0,199.9 L397.5,199.8 L398.0,199.7 L398.5,199.6 L399.0,199.5 L399.5,199.4 L400.0,199.3 L400.5,199.2 L401.0,199.1 L401.5,199.0 L402.0,198.8 L402.5,198.7 L403.0,198.6 L403.5,198.4 L404.0,198.3 L404.5,198.2 L405.0,198.0 L405.5,197.9 L406.0,197.7 L406.5,197.5 L407.0,197.4 L407.5,197.2 L408.0,197.0 L408.5,196.9 L409.0,196.7 L409.5,196.5 L410.0,196.3 L410.5,196.1 L411.0,195.9 L411.5,195.6 L412.0,195.4 L412.5,195.2 L413.0,195.0 L413.5,194.7 L414.0,194.5 L414.5,194.2 L415.0,193.9 L415.5,193.7 L416.0,193.4 L416.5,193.1 L417.0,192.8 L417.5,192.5 L418.0,192.2 L418.5,191.9 L419.0,191.6 L419.5,191.3 L420.0,190.9 L420.5,190.6 L421.0,190.3 L421.5,189.9 L422.0,189.6 L422.5,189.3 L423.0,188.9 L423.5,188.6 L424.0,188.2 L424.5,187.9 L425.0,187.6 L425.5,187.2 L426.0,186.9 L426.5,186.6 L427.0,186.3 L427.5,186.0 L428.0,185.7 L428.5,185.4 L429.0,185.1 L429.5,184.9 L430.0,184.6 L430.5,184.4 L431.0,184.2 L431.5,184.0 L432.0,183.9 L432.5,183.8 L433.0,183.7 L433.5,183.6 L434.0,183.5 L434.5,183.5 L435.0,183.5 L435.5,183.5 L436.0,183.6 L436.5,183.6 L437.0,183.7 L437.5,183.8 L438.0,183.9 L438.5,184.0 L439.0,184.1 L439.5,184.2 L440.0,184.4 L440.5,184.5 L441.0,184.7 L441.5,184.9 L442.0,185.1 L442.5,185.3 L443.0,185.5 L443.5,185.7 L444.0,185.9 L444.5,186.1 L445.0,186.4 L445.5,186.6 L446.0,186.9 L446.5,187.1 L447.0,187.4 L447.5,187.6 L448.0,187.9 L448.5,188.2 L449.0,188.4 L449.5,188.7 L450.0,189.0 L450.5,189.2 L451.0,189.5 L451.5,189.8 L452.0,190.1 L452.5,190.3 L453.0,190.6 L453.5,190.8 L454.0,191.1 L454.5,191.4 L455.0,191.6 L455.5,191.9 L456.0,192.1 L456.5,192.4 L457.0,192.6 L457.5,192.9 L458.0,193.1 L458.5,193.3 L459.0,193.6 L459.5,193.8 L460.0,194.0 L460.5,194.3 L461.0,194.5 L461.5,194.7 L462.0,194.9 L462.5,195.1 L463.0,195.3 L463.5,195.5 L464.0,195.7 L464.5,195.9 L465.0,196.1 L465.5,196.3 L466.0,196.4 L466.5,196.6 L467.0,196.8 L467.5,197.0 L468.0,197.1 L468.5,197.3 L469.0,197.5 L469.5,197.6 L470.0,197.8 L470.5,197.9 L471.0,198.1 L471.5,198.2 L472.0,198.4 L472.5,198.5 L473.0,198.6 L473.5,198.8 L474.0,198.9 L474.5,199.0 L475.0,199.1 L475.5,199.3 L476.0,199.4 L476.5,199.5 L477.0,199.6 L477.5,199.7 L478.0,199.9 L478.5,200.0 L479.0,200.1 L479.5,200.2 L480.0,200.3 L480.5,200.4 L481.0,200.5 L481.5,200.6 L482.0,200.7 L482.5,200.8 L483.0,200.9 L483.5,200.9 L484.0,201.0 L484.5,201.1 L485.0,201.2 L485.5,201.3 L486.0,201.4 L486.5,201.4 L487.0,201.5 L487.5,201.6 L488.0,201.7 L488.5,201.7 L489.0,201.8 L489.5,201.9 L490.0,202.0 L490.5,202.0 L491.0,202.1 L491.5,202.2 L492.0,202.2 L492.5,202.3 L493.0,202.4 L493.5,202.4 L494.0,202.5 L494.5,202.5 L495.0,202.6 L495.5,202.7 L496.0,202.7 L496.5,202.8 L497.0,202.8 L497.5,202.9 L498.0,202.9 L498.5,203.0 L499.0,203.0 L499.5,203.1 L500.0,203.1 L500.5,203.2 L501.0,203.2 L501.5,203.3 L502.0,203.3 L502.5,203.4 L503.0,203.4 L503.5,203.5 L504.0,203.5 L504.5,203.6 L505.0,203.6 L505.5,203.6 L506.0,203.7 L506.5,203.7 L507.0,203.8 L507.5,203.8 L508.0,203.9 L508.5,203.9 L509.0,203.9 L509.5,204.0 L510.0,204.0 L510.5,204.0 L511.0,204.1 L511.5,204.1 L512.0,204.2 L512.5,204.2 L513.0,204.2 L513.5,204.3 L514.0,204.3 L514.5,204.3 L515.0,204.4 L515.5,204.4 L516.0,204.4 L516.5,204.5 L517.0,204.5 L517.5,204.5 L518.0,204.5 L518.5,204.6 L519.0,204.6 L519.5,204.6 L520.0,204.7 L520.5,204.7 L521.0,204.7 L521.5,204.8 L522.0,204.8 L522.5,204.8 L523.0,204.8 L523.5,204.9 L524.0,204.9 L524.5,204.9 L525.0,204.9 L525.5,205.0 L526.0,205.0 L526.5,205.0 L527.0,205.0 L527.5,205.1 L528.0,205.1 L528.5,205.1 L529.0,205.1 L529.5,205.2 L530.0,205.2 L530.5,205.2 L531.0,205.2 L531.5,205.3 L532.0,205.3 L532.5,205.3 L533.0,205.3 L533.5,205.4 L534.0,205.4 L534.5,205.4 L535.0,205.4 L535.5,205.4 L536.0,205.5 L536.5,205.5 L537.0,205.5 L537.5,205.5 L538.0,205.5 L538.5,205.6 L539.0,205.6 L539.5,205.6 L540.0,205.6 L540.5,205.7 L541.0,205.7 L541.5,205.7 L542.0,205.7 L542.5,205.7 L543.0,205.7 L543.5,205.8 L544.0,205.8 L544.5,205.8 L545.0,205.8 L545.5,205.8 L546.0,205.9 L546.5,205.9 L547.0,205.9 L547.5,205.9 L548.0,205.9 L548.5,206.0 L549.0,206.0 L549.5,206.0 L550.0,206.0 L550.5,206.0 L551.0,206.0 L551.5,206.1 L552.0,206.1 L552.5,206.1 L553.0,206.1 L553.5,206.1 L554.0,206.1 L554.5,206.2 L555.0,206.2 L555.5,206.2 L556.0,206.2 L556.5,206.2 L557.0,206.2 L557.5,206.3 L558.0,206.3 L558.5,206.3 L559.0,206.3 L559.5,206.3 L560.0,206.3 L560.5,206.3 L561.0,206.4 L561.5,206.4 L562.0,206.4 L562.5,206.4 L563.0,206.4 L563.5,206.4 L564.0,206.4 L564.5,206.5 L565.0,206.5 L565.5,206.5 L566.0,206.5 L566.5,206.5 L567.0,206.5 L567.5,206.6 L568.0,206.6 L568.5,206.6 L569.0,206.6 L569.5,206.6 L570.0,206.6 L570.5,206.6 L571.0,206.6 L571.5,206.7 L572.0,206.7 L572.5,206.7 L573.0,206.7 L573.5,206.7 L574.0,206.7 L574.5,206.7 L575.0,206.8 L575.5,206.8 L576.0,206.8 L576.5,206.8 L577.0,206.8 L577.5,206.8 L578.0,206.8 L578.5,206.9 L579.0,206.9 L579.5,206.9 L580.0,206.9 L580.5,206.9 L581.0,206.9 L581.5,206.9 L582.0,206.9 L582.5,207.0 L583.0,207.0 L583.5,207.0 L584.0,207.0 L584.5,207.0 L585.0,207.0 L585.5,207.0 L586.0,207.0 L586.5,207.1 L587.0,207.1 L587.5,207.1 L588.0,207.1 L588.5,207.1 L589.0,207.1 L589.5,207.1 L590.0,207.1 L590.5,207.1 L591.0,207.2 L591.5,207.2 L592.0,207.2 L592.5,207.2 L593.0,207.2 L593.5,207.2 L594.0,207.2 L594.5,207.2 L595.0,207.3 L595.5,207.3 L596.0,207.3 L596.5,207.3 L597.0,207.3 L597.5,207.3 L598.0,207.3 L598.5,207.3 L599.0,207.3 L599.5,207.4 L600.0,207.4 L600.5,207.4 L601.0,207.4 L601.5,207.4 L602.0,207.4 L602.5,207.4 L603.0,207.4 L603.5,207.4 L604.0,207.5 L604.5,207.5 L605.0,207.5 L605.5,207.5 L606.0,207.5 L606.5,207.5 L607.0,207.5 L607.5,207.5 L608.0,207.5 L608.5,207.6 L609.0,207.6 L609.5,207.6 L610.0,207.6 L610.5,207.6 L611.0,207.6 L611.5,207.6 L612.0,207.6 L612.5,207.6 L613.0,207.7 L613.5,207.7 L614.0,207.7 L614.5,207.7 L615.0,207.7 L615.5,207.7 L616.0,207.7 L616.5,207.7 L617.0,207.7 L617.5,207.8 L618.0,207.8 L618.5,207.8 L619.0,207.8 L619.5,207.8 L620.0,207.8 L620.5,207.8 L621.0,207.8 L621.5,207.8 L622.0,207.8 L622.5,207.9 L623.0,207.9 L623.5,207.9 L624.0,207.9 L624.5,207.9 L625.0,207.9 L625.5,207.9 L626.0,207.9 L626.5,207.9 L627.0,207.9 L627.5,208.0 L628.0,208.0 L628.5,208.0 L629.0,208.0 L629.5,208.0 L630.0,208.0 L630.5,208.0 L631.0,208.0 L631.5,208.0 L632.0,208.0 L632.5,208.1 L633.0,208.1 L633.5,208.1 L634.0,208.1 L634.5,208.1 L635.0,208.1 L635.5,208.1 L636.0,208.1 L636.5,208.1 L637.0,208.1 L637.5,208.2 L638.0,208.2 L638.5,208.2 L639.0,208.2 L639.5,208.2 L640.0,208.2 L640.5,208.2 L641.0,208.2 L641.5,208.2 L642.0,208.2 L642.5,208.3 L643.0,208.3 L643.5,208.3 L644.0,208.3 L644.5,208.3 L645.0,208.3 L645.5,208.3 L646.0,208.3 L646.5,208.3 L647.0,208.3 L647.5,208.4 L648.0,208.4 L648.5,208.4 L649.0,208.4 L649.5,208.4 L650.0,208.4 L650.5,208.4 L651.0,208.4 L651.5,208.4 L652.0,208.4" fill="none" stroke="#3a8f8d" stroke-width="1.5" stroke-linejoin="round"/>
<path d="M358.5,202.3 L359.0,202.3 L359.5,202.3 L360.0,202.3 L360.5,202.3 L361.0,202.3 L361.5,202.2 L362.0,202.2 L362.5,202.2 L363.0,202.2 L363.5,202.2 L364.0,202.2 L364.5,202.2 L365.0,202.2 L365.5,202.2 L366.0,202.2 L366.5,202.2 L367.0,202.2 L367.5,202.2 L368.0,202.2 L368.5,202.2 L369.0,202.2 L369.5,202.2 L370.0,202.2 L370.5,202.1 L371.0,202.1 L371.5,202.1 L372.0,202.1 L372.5,202.1 L373.0,202.1 L373.5,202.1 L374.0,202.1 L374.5,202.1 L375.0,202.1 L375.5,202.1 L376.0,202.1 L376.5,202.0 L377.0,202.0 L377.5,202.0 L378.0,202.0 L378.5,202.0 L379.0,202.0 L379.5,202.0 L380.0,202.0 L380.5,202.0 L381.0,202.0 L381.5,201.9 L382.0,201.9 L382.5,201.9 L383.0,201.9 L383.5,201.9 L384.0,201.9 L384.5,201.9 L385.0,201.9 L385.5,201.9 L386.0,201.8 L386.5,201.8 L387.0,201.8 L387.5,201.8 L388.0,201.8 L388.5,201.8 L389.0,201.8 L389.5,201.7 L390.0,201.7 L390.5,201.7 L391.0,201.7 L391.5,201.7 L392.0,201.7 L392.5,201.6 L393.0,201.6 L393.5,201.6 L394.0,201.6 L394.5,201.6 L395.0,201.6 L395.5,201.5 L396.0,201.5 L396.5,201.5 L397.0,201.5 L397.5,201.5 L398.0,201.4 L398.5,201.4 L399.0,201.4 L399.5,201.4 L400.0,201.4 L400.5,201.3 L401.0,201.3 L401.5,201.3 L402.0,201.3 L402.5,201.2 L403.0,201.2 L403.5,201.2 L404.0,201.2 L404.5,201.1 L405.0,201.1 L405.5,201.1 L406.0,201.1 L406.5,201.0 L407.0,201.0 L407.5,201.0 L408.0,201.0 L408.5,200.9 L409.0,200.9 L409.5,200.9 L410.0,200.8 L410.5,200.8 L411.0,200.8 L411.5,200.7 L412.0,200.7 L412.5,200.7 L413.0,200.6 L413.5,200.6 L414.0,200.6 L414.5,200.5 L415.0,200.5 L415.5,200.5 L416.0,200.4 L416.5,200.4 L417.0,200.3 L417.5,200.3 L418.0,200.3 L418.5,200.2 L419.0,200.2 L419.5,200.1 L420.0,200.1 L420.5,200.0 L421.0,200.0 L421.5,200.0 L422.0,199.9 L422.5,199.9 L423.0,199.8 L423.5,199.8 L424.0,199.7 L424.5,199.7 L425.0,199.6 L425.5,199.5 L426.0,199.5 L426.5,199.4 L427.0,199.4 L427.5,199.3 L428.0,199.3 L428.5,199.2 L429.0,199.1 L429.5,199.1 L430.0,199.0 L430.5,198.9 L431.0,198.9 L431.5,198.8 L432.0,198.7 L432.5,198.6 L433.0,198.6 L433.5,198.5 L434.0,198.4 L434.5,198.3 L435.0,198.3 L435.5,198.2 L436.0,198.1 L436.5,198.0 L437.0,197.9 L437.5,197.8 L438.0,197.7 L438.5,197.6 L439.0,197.5 L439.5,197.4 L440.0,197.3 L440.5,197.2 L441.0,197.1 L441.5,197.0 L442.0,196.9 L442.5,196.7 L443.0,196.6 L443.5,196.5 L444.0,196.4 L444.5,196.2 L445.0,196.1 L445.5,196.0 L446.0,195.8 L446.5,195.7 L447.0,195.5 L447.5,195.4 L448.0,195.2 L448.5,195.0 L449.0,194.9 L449.5,194.7 L450.0,194.5 L450.5,194.3 L451.0,194.1 L451.5,193.9 L452.0,193.7 L452.5,193.5 L453.0,193.3 L453.5,193.1 L454.0,192.9 L454.5,192.6 L455.0,192.4 L455.5,192.1 L456.0,191.9 L456.5,191.6 L457.0,191.3 L457.5,191.0 L458.0,190.8 L458.5,190.5 L459.0,190.1 L459.5,189.8 L460.0,189.5 L460.5,189.2 L461.0,188.8 L461.5,188.5 L462.0,188.1 L462.5,187.7 L463.0,187.3 L463.5,186.9 L464.0,186.5 L464.5,186.1 L465.0,185.6 L465.5,185.2 L466.0,184.7 L466.5,184.2 L467.0,183.8 L467.5,183.2 L468.0,182.7 L468.5,182.2 L469.0,181.6 L469.5,181.1 L470.0,180.5 L470.5,179.9 L471.0,179.3 L471.5,178.7 L472.0,178.1 L472.5,177.4 L473.0,176.7 L473.5,176.0 L474.0,175.3 L474.5,174.6 L475.0,173.9 L475.5,173.1 L476.0,172.4 L476.5,171.6 L477.0,170.8 L477.5,169.9 L478.0,169.1 L478.5,168.2 L479.0,167.4 L479.5,166.5 L480.0,165.5 L480.5,164.6 L481.0,163.7 L481.5,162.7 L482.0,161.7 L482.5,160.7 L483.0,159.7 L483.5,158.7 L484.0,157.6 L484.5,156.6 L485.0,155.5 L485.5,154.4 L486.0,153.3 L486.5,152.2 L487.0,151.1 L487.5,149.9 L488.0,148.8 L488.5,147.6 L489.0,146.4 L489.5,145.2 L490.0,144.0 L490.5,142.8 L491.0,141.6 L491.5,140.4 L492.0,139.2 L492.5,138.0 L493.0,136.8 L493.5,135.6 L494.0,134.4 L494.5,133.2 L495.0,132.0 L495.5,130.9 L496.0,129.7 L496.5,128.6 L497.0,127.4 L497.5,126.3 L498.0,125.3 L498.5,124.2 L499.0,123.2 L499.5,122.2 L500.0,121.3 L500.5,120.3 L501.0,119.5 L501.5,118.6 L502.0,117.8 L502.5,117.1 L503.0,116.4 L503.5,115.8 L504.0,115.2 L504.5,114.7 L505.0,114.2 L505.5,113.8 L506.0,113.5 L506.5,113.2 L507.0,113.0 L507.5,112.9 L508.0,112.8 L508.5,112.8 L509.0,112.9 L509.5,113.0 L510.0,113.3 L510.5,113.5 L511.0,113.9 L511.5,114.3 L512.0,114.8 L512.5,115.4 L513.0,116.0 L513.5,116.7 L514.0,117.4 L514.5,118.2 L515.0,119.0 L515.5,119.9 L516.0,120.8 L516.5,121.8 L517.0,122.8 L517.5,123.9 L518.0,125.0 L518.5,126.1 L519.0,127.2 L519.5,128.4 L520.0,129.6 L520.5,130.8 L521.0,132.0 L521.5,133.2 L522.0,134.5 L522.5,135.7 L523.0,137.0 L523.5,138.2 L524.0,139.5 L524.5,140.8 L525.0,142.0 L525.5,143.3 L526.0,144.6 L526.5,145.8 L527.0,147.0 L527.5,148.3 L528.0,149.5 L528.5,150.7 L529.0,151.9 L529.5,153.1 L530.0,154.2 L530.5,155.4 L531.0,156.5 L531.5,157.7 L532.0,158.8 L532.5,159.9 L533.0,160.9 L533.5,162.0 L534.0,163.0 L534.5,164.1 L535.0,165.1 L535.5,166.0 L536.0,167.0 L536.5,168.0 L537.0,168.9 L537.5,169.8 L538.0,170.7 L538.5,171.6 L539.0,172.4 L539.5,173.3 L540.0,174.1 L540.5,174.9 L541.0,175.6 L541.5,176.4 L542.0,177.1 L542.5,177.9 L543.0,178.6 L543.5,179.3 L544.0,179.9 L544.5,180.6 L545.0,181.2 L545.5,181.9 L546.0,182.5 L546.5,183.1 L547.0,183.6 L547.5,184.2 L548.0,184.7 L548.5,185.3 L549.0,185.8 L549.5,186.3 L550.0,186.8 L550.5,187.3 L551.0,187.7 L551.5,188.2 L552.0,188.6 L552.5,189.0 L553.0,189.4 L553.5,189.8 L554.0,190.2 L554.5,190.6 L555.0,191.0 L555.5,191.3 L556.0,191.7 L556.5,192.0 L557.0,192.3 L557.5,192.7 L558.0,193.0 L558.5,193.3 L559.0,193.6 L559.5,193.8 L560.0,194.1 L560.5,194.4 L561.0,194.6 L561.5,194.9 L562.0,195.1 L562.5,195.4 L563.0,195.6 L563.5,195.8 L564.0,196.0 L564.5,196.2 L565.0,196.4 L565.5,196.6 L566.0,196.8 L566.5,197.0 L567.0,197.2 L567.5,197.4 L568.0,197.6 L568.5,197.7 L569.0,197.9 L569.5,198.1 L570.0,198.2 L570.5,198.4 L571.0,198.5 L571.5,198.7 L572.0,198.8 L572.5,199.0 L573.0,199.1 L573.5,199.2 L574.0,199.4 L574.5,199.5 L575.0,199.6 L575.5,199.7 L576.0,199.8 L576.5,200.0 L577.0,200.1 L577.5,200.2 L578.0,200.3 L578.5,200.4 L579.0,200.5 L579.5,200.6 L580.0,200.7 L580.5,200.8 L581.0,200.9 L581.5,201.0 L582.0,201.1 L582.5,201.2 L583.0,201.3 L583.5,201.4 L584.0,201.4 L584.5,201.5 L585.0,201.6 L585.5,201.7 L586.0,201.8 L586.5,201.9 L587.0,201.9 L587.5,202.0 L588.0,202.1 L588.5,202.2 L589.0,202.2 L589.5,202.3 L590.0,202.4 L590.5,202.4 L591.0,202.5 L591.5,202.6 L592.0,202.6 L592.5,202.7 L593.0,202.8 L593.5,202.8 L594.0,202.9 L594.5,203.0 L595.0,203.0 L595.5,203.1 L596.0,203.1 L596.5,203.2 L597.0,203.2 L597.5,203.3 L598.0,203.4 L598.5,203.4 L599.0,203.5 L599.5,203.5 L600.0,203.6 L600.5,203.6 L601.0,203.7 L601.5,203.7 L602.0,203.8 L602.5,203.8 L603.0,203.9 L603.5,203.9 L604.0,204.0 L604.5,204.0 L605.0,204.1 L605.5,204.1 L606.0,204.2 L606.5,204.2 L607.0,204.3 L607.5,204.3 L608.0,204.3 L608.5,204.4 L609.0,204.4 L609.5,204.5 L610.0,204.5 L610.5,204.6 L611.0,204.6 L611.5,204.6 L612.0,204.7 L612.5,204.7 L613.0,204.7 L613.5,204.8 L614.0,204.8 L614.5,204.9 L615.0,204.9 L615.5,204.9 L616.0,205.0 L616.5,205.0 L617.0,205.0 L617.5,205.1 L618.0,205.1 L618.5,205.2 L619.0,205.2 L619.5,205.2 L620.0,205.3 L620.5,205.3 L621.0,205.3 L621.5,205.4 L622.0,205.4 L622.5,205.4 L623.0,205.5 L623.5,205.5 L624.0,205.5 L624.5,205.5 L625.0,205.6 L625.5,205.6 L626.0,205.6 L626.5,205.7 L627.0,205.7 L627.5,205.7 L628.0,205.8 L628.5,205.8 L629.0,205.8 L629.5,205.8 L630.0,205.9 L630.5,205.9 L631.0,205.9 L631.5,206.0 L632.0,206.0 L632.5,206.0 L633.0,206.0 L633.5,206.1 L634.0,206.1 L634.5,206.1 L635.0,206.1 L635.5,206.2 L636.0,206.2 L636.5,206.2 L637.0,206.2 L637.5,206.3 L638.0,206.3 L638.5,206.3 L639.0,206.3 L639.5,206.4 L640.0,206.4 L640.5,206.4 L641.0,206.4 L641.5,206.5 L642.0,206.5 L642.5,206.5 L643.0,206.5 L643.5,206.6 L644.0,206.6 L644.5,206.6 L645.0,206.6 L645.5,206.6 L646.0,206.7 L646.5,206.7 L647.0,206.7 L647.5,206.7 L648.0,206.8 L648.5,206.8 L649.0,206.8 L649.5,206.8 L650.0,206.8 L650.5,206.9 L651.0,206.9 L651.5,206.9 L652.0,206.9" fill="none" stroke="#b656c0" stroke-width="1.6" stroke-linejoin="round"/>
<path d="M358.5,203.1 L359.0,203.1 L359.5,203.1 L360.0,203.1 L360.5,203.1 L361.0,203.1 L361.5,203.1 L362.0,203.1 L362.5,203.1 L363.0,203.1 L363.5,203.1 L364.0,203.1 L364.5,203.1 L365.0,203.1 L365.5,203.1 L366.0,203.1 L366.5,203.1 L367.0,203.1 L367.5,203.1 L368.0,203.1 L368.5,203.1 L369.0,203.1 L369.5,203.1 L370.0,203.1 L370.5,203.1 L371.0,203.1 L371.5,203.1 L372.0,203.1 L372.5,203.1 L373.0,203.1 L373.5,203.1 L374.0,203.1 L374.5,203.1 L375.0,203.1 L375.5,203.1 L376.0,203.1 L376.5,203.1 L377.0,203.1 L377.5,203.1 L378.0,203.1 L378.5,203.1 L379.0,203.1 L379.5,203.1 L380.0,203.1 L380.5,203.1 L381.0,203.1 L381.5,203.1 L382.0,203.1 L382.5,203.1 L383.0,203.1 L383.5,203.1 L384.0,203.1 L384.5,203.1 L385.0,203.1 L385.5,203.1 L386.0,203.1 L386.5,203.1 L387.0,203.1 L387.5,203.1 L388.0,203.1 L388.5,203.1 L389.0,203.1 L389.5,203.1 L390.0,203.1 L390.5,203.1 L391.0,203.1 L391.5,203.1 L392.0,203.1 L392.5,203.1 L393.0,203.1 L393.5,203.1 L394.0,203.1 L394.5,203.1 L395.0,203.1 L395.5,203.1 L396.0,203.1 L396.5,203.1 L397.0,203.1 L397.5,203.1 L398.0,203.1 L398.5,203.1 L399.0,203.1 L399.5,203.1 L400.0,203.1 L400.5,203.1 L401.0,203.1 L401.5,203.1 L402.0,203.0 L402.5,203.0 L403.0,203.0 L403.5,203.0 L404.0,203.0 L404.5,203.0 L405.0,203.0 L405.5,203.0 L406.0,203.0 L406.5,203.0 L407.0,203.0 L407.5,203.0 L408.0,203.0 L408.5,203.0 L409.0,203.0 L409.5,203.0 L410.0,203.0 L410.5,203.0 L411.0,202.9 L411.5,202.9 L412.0,202.9 L412.5,202.9 L413.0,202.9 L413.5,202.9 L414.0,202.9 L414.5,202.9 L415.0,202.9 L415.5,202.9 L416.0,202.9 L416.5,202.9 L417.0,202.8 L417.5,202.8 L418.0,202.8 L418.5,202.8 L419.0,202.8 L419.5,202.8 L420.0,202.8 L420.5,202.8 L421.0,202.8 L421.5,202.7 L422.0,202.7 L422.5,202.7 L423.0,202.7 L423.5,202.7 L424.0,202.7 L424.5,202.7 L425.0,202.7 L425.5,202.6 L426.0,202.6 L426.5,202.6 L427.0,202.6 L427.5,202.6 L428.0,202.6 L428.5,202.6 L429.0,202.5 L429.5,202.5 L430.0,202.5 L430.5,202.5 L431.0,202.5 L431.5,202.5 L432.0,202.4 L432.5,202.4 L433.0,202.4 L433.5,202.4 L434.0,202.4 L434.5,202.3 L435.0,202.3 L435.5,202.3 L436.0,202.3 L436.5,202.3 L437.0,202.2 L437.5,202.2 L438.0,202.2 L438.5,202.2 L439.0,202.2 L439.5,202.1 L440.0,202.1 L440.5,202.1 L441.0,202.1 L441.5,202.0 L442.0,202.0 L442.5,202.0 L443.0,202.0 L443.5,201.9 L444.0,201.9 L444.5,201.9 L445.0,201.8 L445.5,201.8 L446.0,201.8 L446.5,201.8 L447.0,201.7 L447.5,201.7 L448.0,201.7 L448.5,201.6 L449.0,201.6 L449.5,201.6 L450.0,201.5 L450.5,201.5 L451.0,201.4 L451.5,201.4 L452.0,201.4 L452.5,201.3 L453.0,201.3 L453.5,201.3 L454.0,201.2 L454.5,201.2 L455.0,201.1 L455.5,201.1 L456.0,201.0 L456.5,201.0 L457.0,200.9 L457.5,200.9 L458.0,200.8 L458.5,200.8 L459.0,200.7 L459.5,200.7 L460.0,200.6 L460.5,200.6 L461.0,200.5 L461.5,200.5 L462.0,200.4 L462.5,200.4 L463.0,200.3 L463.5,200.2 L464.0,200.2 L464.5,200.1 L465.0,200.1 L465.5,200.0 L466.0,199.9 L466.5,199.8 L467.0,199.8 L467.5,199.7 L468.0,199.6 L468.5,199.6 L469.0,199.5 L469.5,199.4 L470.0,199.3 L470.5,199.2 L471.0,199.1 L471.5,199.1 L472.0,199.0 L472.5,198.9 L473.0,198.8 L473.5,198.7 L474.0,198.6 L474.5,198.5 L475.0,198.4 L475.5,198.3 L476.0,198.2 L476.5,198.1 L477.0,198.0 L477.5,197.8 L478.0,197.7 L478.5,197.6 L479.0,197.5 L479.5,197.3 L480.0,197.2 L480.5,197.1 L481.0,196.9 L481.5,196.8 L482.0,196.6 L482.5,196.5 L483.0,196.3 L483.5,196.1 L484.0,196.0 L484.5,195.8 L485.0,195.6 L485.5,195.4 L486.0,195.2 L486.5,195.0 L487.0,194.8 L487.5,194.6 L488.0,194.4 L488.5,194.2 L489.0,194.0 L489.5,193.7 L490.0,193.5 L490.5,193.2 L491.0,192.9 L491.5,192.6 L492.0,192.4 L492.5,192.1 L493.0,191.8 L493.5,191.4 L494.0,191.1 L494.5,190.7 L495.0,190.4 L495.5,190.0 L496.0,189.6 L496.5,189.2 L497.0,188.8 L497.5,188.4 L498.0,187.9 L498.5,187.5 L499.0,187.0 L499.5,186.5 L500.0,186.0 L500.5,185.4 L501.0,184.9 L501.5,184.3 L502.0,183.7 L502.5,183.1 L503.0,182.4 L503.5,181.7 L504.0,181.1 L504.5,180.3 L505.0,179.6 L505.5,178.8 L506.0,178.0 L506.5,177.2 L507.0,176.4 L507.5,175.5 L508.0,174.6 L508.5,173.6 L509.0,172.7 L509.5,171.6 L510.0,170.6 L510.5,169.6 L511.0,168.5 L511.5,167.3 L512.0,166.2 L512.5,165.0 L513.0,163.7 L513.5,162.5 L514.0,161.2 L514.5,159.8 L515.0,158.5 L515.5,157.1 L516.0,155.6 L516.5,154.2 L517.0,152.7 L517.5,151.1 L518.0,149.5 L518.5,147.9 L519.0,146.3 L519.5,144.6 L520.0,143.0 L520.5,141.2 L521.0,139.5 L521.5,137.7 L522.0,135.9 L522.5,134.1 L523.0,132.3 L523.5,130.4 L524.0,128.6 L524.5,126.7 L525.0,124.8 L525.5,123.0 L526.0,121.1 L526.5,119.2 L527.0,117.4 L527.5,115.6 L528.0,113.7 L528.5,112.0 L529.0,110.2 L529.5,108.5 L530.0,106.9 L530.5,105.3 L531.0,103.7 L531.5,102.3 L532.0,100.9 L532.5,99.6 L533.0,98.4 L533.5,97.3 L534.0,96.2 L534.5,95.3 L535.0,94.6 L535.5,93.9 L536.0,93.3 L536.5,92.9 L537.0,92.6 L537.5,92.5 L538.0,92.5 L538.5,92.6 L539.0,92.8 L539.5,93.1 L540.0,93.6 L540.5,94.2 L541.0,94.9 L541.5,95.6 L542.0,96.5 L542.5,97.5 L543.0,98.6 L543.5,99.8 L544.0,101.0 L544.5,102.4 L545.0,103.8 L545.5,105.2 L546.0,106.8 L546.5,108.3 L547.0,109.9 L547.5,111.6 L548.0,113.3 L548.5,115.0 L549.0,116.8 L549.5,118.5 L550.0,120.3 L550.5,122.1 L551.0,123.9 L551.5,125.7 L552.0,127.5 L552.5,129.2 L553.0,131.0 L553.5,132.8 L554.0,134.5 L554.5,136.3 L555.0,138.0 L555.5,139.7 L556.0,141.4 L556.5,143.0 L557.0,144.7 L557.5,146.3 L558.0,147.8 L558.5,149.4 L559.0,150.9 L559.5,152.4 L560.0,153.9 L560.5,155.3 L561.0,156.7 L561.5,158.1 L562.0,159.4 L562.5,160.7 L563.0,162.0 L563.5,163.3 L564.0,164.5 L564.5,165.7 L565.0,166.8 L565.5,167.9 L566.0,169.0 L566.5,170.1 L567.0,171.1 L567.5,172.1 L568.0,173.1 L568.5,174.1 L569.0,175.0 L569.5,175.9 L570.0,176.8 L570.5,177.6 L571.0,178.4 L571.5,179.2 L572.0,180.0 L572.5,180.7 L573.0,181.4 L573.5,182.1 L574.0,182.8 L574.5,183.5 L575.0,184.1 L575.5,184.7 L576.0,185.3 L576.5,185.9 L577.0,186.4 L577.5,187.0 L578.0,187.5 L578.5,188.0 L579.0,188.5 L579.5,188.9 L580.0,189.4 L580.5,189.8 L581.0,190.2 L581.5,190.7 L582.0,191.0 L582.5,191.4 L583.0,191.8 L583.5,192.2 L584.0,192.5 L584.5,192.8 L585.0,193.2 L585.5,193.5 L586.0,193.8 L586.5,194.1 L587.0,194.3 L587.5,194.6 L588.0,194.9 L588.5,195.1 L589.0,195.4 L589.5,195.6 L590.0,195.9 L590.5,196.1 L591.0,196.3 L591.5,196.5 L592.0,196.7 L592.5,197.0 L593.0,197.2 L593.5,197.3 L594.0,197.5 L594.5,197.7 L595.0,197.9 L595.5,198.1 L596.0,198.2 L596.5,198.4 L597.0,198.6 L597.5,198.7 L598.0,198.9 L598.5,199.0 L599.0,199.2 L599.5,199.3 L600.0,199.4 L600.5,199.6 L601.0,199.7 L601.5,199.8 L602.0,200.0 L602.5,200.1 L603.0,200.2 L603.5,200.3 L604.0,200.4 L604.5,200.5 L605.0,200.7 L605.5,200.8 L606.0,200.9 L606.5,201.0 L607.0,201.1 L607.5,201.2 L608.0,201.3 L608.5,201.4 L609.0,201.5 L609.5,201.6 L610.0,201.7 L610.5,201.8 L611.0,201.8 L611.5,201.9 L612.0,202.0 L612.5,202.1 L613.0,202.2 L613.5,202.3 L614.0,202.3 L614.5,202.4 L615.0,202.5 L615.5,202.6 L616.0,202.6 L616.5,202.7 L617.0,202.8 L617.5,202.9 L618.0,202.9 L618.5,203.0 L619.0,203.1 L619.5,203.1 L620.0,203.2 L620.5,203.3 L621.0,203.3 L621.5,203.4 L622.0,203.5 L622.5,203.5 L623.0,203.6 L623.5,203.6 L624.0,203.7 L624.5,203.8 L625.0,203.8 L625.5,203.9 L626.0,203.9 L626.5,204.0 L627.0,204.0 L627.5,204.1 L628.0,204.2 L628.5,204.2 L629.0,204.3 L629.5,204.3 L630.0,204.4 L630.5,204.4 L631.0,204.5 L631.5,204.5 L632.0,204.5 L632.5,204.6 L633.0,204.6 L633.5,204.7 L634.0,204.7 L634.5,204.8 L635.0,204.8 L635.5,204.9 L636.0,204.9 L636.5,205.0 L637.0,205.0 L637.5,205.0 L638.0,205.1 L638.5,205.1 L639.0,205.2 L639.5,205.2 L640.0,205.2 L640.5,205.3 L641.0,205.3 L641.5,205.4 L642.0,205.4 L642.5,205.4 L643.0,205.5 L643.5,205.5 L644.0,205.5 L644.5,205.6 L645.0,205.6 L645.5,205.6 L646.0,205.7 L646.5,205.7 L647.0,205.8 L647.5,205.8 L648.0,205.8 L648.5,205.9 L649.0,205.9 L649.5,205.9 L650.0,206.0 L650.5,206.0 L651.0,206.0 L651.5,206.0 L652.0,206.1" fill="none" stroke="#939c55" stroke-width="1.5" stroke-linejoin="round"/>
<path d="M358.5,199.9 L359.0,199.8 L359.5,199.8 L360.0,199.8 L360.5,199.7 L361.0,199.7 L361.5,199.7 L362.0,199.7 L362.5,199.6 L363.0,199.6 L363.5,199.6 L364.0,199.5 L364.5,199.5 L365.0,199.5 L365.5,199.4 L366.0,199.4 L366.5,199.4 L367.0,199.3 L367.5,199.3 L368.0,199.2 L368.5,199.2 L369.0,199.2 L369.5,199.1 L370.0,199.1 L370.5,199.1 L371.0,199.0 L371.5,199.0 L372.0,198.9 L372.5,198.9 L373.0,198.8 L373.5,198.8 L374.0,198.7 L374.5,198.7 L375.0,198.6 L375.5,198.6 L376.0,198.5 L376.5,198.5 L377.0,198.4 L377.5,198.4 L378.0,198.3 L378.5,198.3 L379.0,198.2 L379.5,198.2 L380.0,198.1 L380.5,198.0 L381.0,198.0 L381.5,197.9 L382.0,197.9 L382.5,197.8 L383.0,197.7 L383.5,197.7 L384.0,197.6 L384.5,197.5 L385.0,197.4 L385.5,197.4 L386.0,197.3 L386.5,197.2 L387.0,197.1 L387.5,197.0 L388.0,197.0 L388.5,196.9 L389.0,196.8 L389.5,196.7 L390.0,196.6 L390.5,196.5 L391.0,196.4 L391.5,196.3 L392.0,196.2 L392.5,196.1 L393.0,196.0 L393.5,195.9 L394.0,195.8 L394.5,195.7 L395.0,195.5 L395.5,195.4 L396.0,195.3 L396.5,195.2 L397.0,195.0 L397.5,194.9 L398.0,194.8 L398.5,194.6 L399.0,194.5 L399.5,194.3 L400.0,194.1 L400.5,194.0 L401.0,193.8 L401.5,193.6 L402.0,193.5 L402.5,193.3 L403.0,193.1 L403.5,192.9 L404.0,192.7 L404.5,192.5 L405.0,192.3 L405.5,192.1 L406.0,191.9 L406.5,191.7 L407.0,191.5 L407.5,191.3 L408.0,191.0 L408.5,190.8 L409.0,190.5 L409.5,190.3 L410.0,190.0 L410.5,189.8 L411.0,189.5 L411.5,189.2 L412.0,189.0 L412.5,188.7 L413.0,188.4 L413.5,188.1 L414.0,187.8 L414.5,187.4 L415.0,187.1 L415.5,186.8 L416.0,186.4 L416.5,186.1 L417.0,185.7 L417.5,185.3 L418.0,185.0 L418.5,184.6 L419.0,184.2 L419.5,183.8 L420.0,183.4 L420.5,183.0 L421.0,182.6 L421.5,182.1 L422.0,181.7 L422.5,181.3 L423.0,180.8 L423.5,180.4 L424.0,179.9 L424.5,179.5 L425.0,179.1 L425.5,178.6 L426.0,178.2 L426.5,177.7 L427.0,177.3 L427.5,176.9 L428.0,176.4 L428.5,176.0 L429.0,175.6 L429.5,175.3 L430.0,174.9 L430.5,174.5 L431.0,174.2 L431.5,173.9 L432.0,173.6 L432.5,173.4 L433.0,173.1 L433.5,172.9 L434.0,172.7 L434.5,172.6 L435.0,172.5 L435.5,172.4 L436.0,172.3 L436.5,172.2 L437.0,172.2 L437.5,172.1 L438.0,172.1 L438.5,172.1 L439.0,172.1 L439.5,172.1 L440.0,172.2 L440.5,172.2 L441.0,172.3 L441.5,172.3 L442.0,172.4 L442.5,172.5 L443.0,172.6 L443.5,172.7 L444.0,172.7 L444.5,172.8 L445.0,172.9 L445.5,173.0 L446.0,173.1 L446.5,173.2 L447.0,173.3 L447.5,173.4 L448.0,173.5 L448.5,173.5 L449.0,173.6 L449.5,173.7 L450.0,173.7 L450.5,173.8 L451.0,173.9 L451.5,173.9 L452.0,173.9 L452.5,174.0 L453.0,174.0 L453.5,174.0 L454.0,174.0 L454.5,174.0 L455.0,173.9 L455.5,173.9 L456.0,173.9 L456.5,173.8 L457.0,173.7 L457.5,173.6 L458.0,173.5 L458.5,173.4 L459.0,173.3 L459.5,173.1 L460.0,172.9 L460.5,172.8 L461.0,172.6 L461.5,172.4 L462.0,172.2 L462.5,171.9 L463.0,171.7 L463.5,171.4 L464.0,171.1 L464.5,170.9 L465.0,170.5 L465.5,170.2 L466.0,169.9 L466.5,169.5 L467.0,169.2 L467.5,168.8 L468.0,168.3 L468.5,167.9 L469.0,167.4 L469.5,167.0 L470.0,166.4 L470.5,165.9 L471.0,165.3 L471.5,164.7 L472.0,164.1 L472.5,163.4 L473.0,162.7 L473.5,162.0 L474.0,161.2 L474.5,160.4 L475.0,159.6 L475.5,158.8 L476.0,157.9 L476.5,157.0 L477.0,156.1 L477.5,155.1 L478.0,154.2 L478.5,153.2 L479.0,152.2 L479.5,151.2 L480.0,150.1 L480.5,149.1 L481.0,148.0 L481.5,146.9 L482.0,145.8 L482.5,144.7 L483.0,143.6 L483.5,142.4 L484.0,141.2 L484.5,140.0 L485.0,138.8 L485.5,137.6 L486.0,136.3 L486.5,135.0 L487.0,133.7 L487.5,132.3 L488.0,131.0 L488.5,129.6 L489.0,128.2 L489.5,126.7 L490.0,125.3 L490.5,123.8 L491.0,122.3 L491.5,120.8 L492.0,119.3 L492.5,117.7 L493.0,116.2 L493.5,114.6 L494.0,113.1 L494.5,111.6 L495.0,110.0 L495.5,108.5 L496.0,106.9 L496.5,105.4 L497.0,103.9 L497.5,102.4 L498.0,101.0 L498.5,99.5 L499.0,98.1 L499.5,96.7 L500.0,95.3 L500.5,93.9 L501.0,92.5 L501.5,91.2 L502.0,89.9 L502.5,88.6 L503.0,87.4 L503.5,86.2 L504.0,85.0 L504.5,83.8 L505.0,82.7 L505.5,81.6 L506.0,80.5 L506.5,79.5 L507.0,78.4 L507.5,77.5 L508.0,76.5 L508.5,75.6 L509.0,74.7 L509.5,73.8 L510.0,73.0 L510.5,72.2 L511.0,71.5 L511.5,70.7 L512.0,70.0 L512.5,69.4 L513.0,68.7 L513.5,68.1 L514.0,67.5 L514.5,66.9 L515.0,66.4 L515.5,65.8 L516.0,65.3 L516.5,64.8 L517.0,64.2 L517.5,63.7 L518.0,63.2 L518.5,62.7 L519.0,62.2 L519.5,61.7 L520.0,61.2 L520.5,60.7 L521.0,60.2 L521.5,59.7 L522.0,59.2 L522.5,58.6 L523.0,58.1 L523.5,57.6 L524.0,57.0 L524.5,56.5 L525.0,55.9 L525.5,55.3 L526.0,54.8 L526.5,54.2 L527.0,53.7 L527.5,53.1 L528.0,52.6 L528.5,52.1 L529.0,51.6 L529.5,51.2 L530.0,50.7 L530.5,50.4 L531.0,50.0 L531.5,49.8 L532.0,49.5 L532.5,49.4 L533.0,49.3 L533.5,49.4 L534.0,49.5 L534.5,49.7 L535.0,50.0 L535.5,50.4 L536.0,50.9 L536.5,51.5 L537.0,52.2 L537.5,53.1 L538.0,54.0 L538.5,55.1 L539.0,56.3 L539.5,57.6 L540.0,58.9 L540.5,60.4 L541.0,61.9 L541.5,63.6 L542.0,65.3 L542.5,67.1 L543.0,68.9 L543.5,70.9 L544.0,72.9 L544.5,74.9 L545.0,77.0 L545.5,79.1 L546.0,81.3 L546.5,83.4 L547.0,85.6 L547.5,87.9 L548.0,90.1 L548.5,92.4 L549.0,94.6 L549.5,96.8 L550.0,99.1 L550.5,101.3 L551.0,103.5 L551.5,105.8 L552.0,107.9 L552.5,110.1 L553.0,112.3 L553.5,114.4 L554.0,116.5 L554.5,118.6 L555.0,120.6 L555.5,122.7 L556.0,124.7 L556.5,126.6 L557.0,128.6 L557.5,130.5 L558.0,132.3 L558.5,134.2 L559.0,136.0 L559.5,137.8 L560.0,139.5 L560.5,141.2 L561.0,142.9 L561.5,144.5 L562.0,146.2 L562.5,147.7 L563.0,149.3 L563.5,150.8 L564.0,152.2 L564.5,153.7 L565.0,155.1 L565.5,156.4 L566.0,157.8 L566.5,159.0 L567.0,160.3 L567.5,161.5 L568.0,162.7 L568.5,163.9 L569.0,165.0 L569.5,166.1 L570.0,167.2 L570.5,168.2 L571.0,169.2 L571.5,170.2 L572.0,171.1 L572.5,172.1 L573.0,173.0 L573.5,173.9 L574.0,174.7 L574.5,175.6 L575.0,176.4 L575.5,177.2 L576.0,178.0 L576.5,178.7 L577.0,179.5 L577.5,180.2 L578.0,180.9 L578.5,181.6 L579.0,182.2 L579.5,182.9 L580.0,183.5 L580.5,184.1 L581.0,184.6 L581.5,185.2 L582.0,185.7 L582.5,186.2 L583.0,186.7 L583.5,187.2 L584.0,187.6 L584.5,188.0 L585.0,188.4 L585.5,188.8 L586.0,189.2 L586.5,189.5 L587.0,189.8 L587.5,190.2 L588.0,190.5 L588.5,190.7 L589.0,191.0 L589.5,191.2 L590.0,191.5 L590.5,191.7 L591.0,191.9 L591.5,192.1 L592.0,192.2 L592.5,192.4 L593.0,192.6 L593.5,192.7 L594.0,192.9 L594.5,193.0 L595.0,193.1 L595.5,193.3 L596.0,193.4 L596.5,193.5 L597.0,193.7 L597.5,193.8 L598.0,194.0 L598.5,194.1 L599.0,194.3 L599.5,194.4 L600.0,194.6 L600.5,194.8 L601.0,194.9 L601.5,195.1 L602.0,195.2 L602.5,195.4 L603.0,195.6 L603.5,195.7 L604.0,195.9 L604.5,196.0 L605.0,196.2 L605.5,196.3 L606.0,196.5 L606.5,196.6 L607.0,196.8 L607.5,196.9 L608.0,197.0 L608.5,197.2 L609.0,197.3 L609.5,197.4 L610.0,197.6 L610.5,197.7 L611.0,197.8 L611.5,197.9 L612.0,198.1 L612.5,198.2 L613.0,198.3 L613.5,198.4 L614.0,198.5 L614.5,198.6 L615.0,198.7 L615.5,198.8 L616.0,199.0 L616.5,199.1 L617.0,199.2 L617.5,199.3 L618.0,199.4 L618.5,199.5 L619.0,199.6 L619.5,199.7 L620.0,199.8 L620.5,199.8 L621.0,199.9 L621.5,200.0 L622.0,200.1 L622.5,200.2 L623.0,200.3 L623.5,200.4 L624.0,200.5 L624.5,200.5 L625.0,200.6 L625.5,200.7 L626.0,200.8 L626.5,200.9 L627.0,200.9 L627.5,201.0 L628.0,201.1 L628.5,201.2 L629.0,201.3 L629.5,201.3 L630.0,201.4 L630.5,201.5 L631.0,201.5 L631.5,201.6 L632.0,201.7 L632.5,201.7 L633.0,201.8 L633.5,201.9 L634.0,201.9 L634.5,202.0 L635.0,202.1 L635.5,202.1 L636.0,202.2 L636.5,202.3 L637.0,202.3 L637.5,202.4 L638.0,202.4 L638.5,202.5 L639.0,202.6 L639.5,202.6 L640.0,202.7 L640.5,202.7 L641.0,202.8 L641.5,202.8 L642.0,202.9 L642.5,203.0 L643.0,203.0 L643.5,203.1 L644.0,203.1 L644.5,203.2 L645.0,203.2 L645.5,203.3 L646.0,203.3 L646.5,203.4 L647.0,203.4 L647.5,203.5 L648.0,203.5 L648.5,203.6 L649.0,203.6 L649.5,203.7 L650.0,203.7 L650.5,203.8 L651.0,203.8 L651.5,203.9 L652.0,203.9" fill="none" stroke="#b4454a" stroke-width="1.8" stroke-linejoin="round"/>
<path d="M358.8,197.1 L359.8,198.9 L361.0,198.8 L361.6,197.2 L362.5,196.4 L363.2,199.5 L364.2,198.0 L365.2,197.8 L365.8,199.6 L367.1,201.7 L369.2,200.9 L371.0,201.4 L372.7,203.4 L374.3,205.2 L375.9,205.5 L377.5,207.8 L379.3,208.1 L380.2,206.9 L381.7,204.5 L383.3,206.4 L385.4,206.5 L387.4,205.4 L389.5,203.2 L391.7,205.0 L393.8,203.9 L395.8,202.8 L397.9,202.3 L400.0,202.4 L401.3,199.6 L402.2,199.1 L403.3,196.1 L404.8,192.8 L406.6,195.9 L408.6,196.4 L410.2,193.5 L412.0,193.5 L413.4,191.7 L414.7,188.7 L416.0,186.1 L417.1,184.8 L418.3,184.1 L419.5,181.3 L420.9,179.2 L422.5,177.7 L424.0,177.0 L425.4,175.2 L426.7,173.9 L427.9,172.2 L429.2,169.6 L430.4,172.2 L432.0,171.7 L433.7,172.5 L435.5,171.9 L437.4,170.9 L438.7,174.9 L440.3,175.3 L442.3,176.0 L444.2,177.6 L445.9,177.7 L447.9,175.9 L449.7,177.1 L451.7,176.5 L453.3,178.9 L454.8,178.7 L456.5,178.9 L458.2,176.1 L459.2,174.2 L460.4,172.3 L462.5,172.5 L464.5,171.3 L466.4,170.8 L468.1,168.2 L469.9,167.4 L471.4,166.8 L473.1,164.1 L474.8,163.2 L475.6,161.3 L476.0,158.8 L476.4,156.4 L476.9,153.9 L477.5,153.0 L478.3,150.4 L479.0,148.5 L479.7,145.9 L480.2,144.4 L480.7,141.9 L481.1,139.6 L481.5,137.3 L482.0,135.4 L482.4,133.0 L482.8,130.9 L483.4,128.4 L484.3,126.6 L485.5,125.1 L486.3,122.6 L486.9,120.9 L487.4,118.9 L487.9,116.5 L488.5,114.2 L489.6,112.8 L490.5,115.9 L492.3,114.4 L493.6,113.8 L494.3,111.8 L494.8,109.8 L495.2,107.6 L495.7,105.2 L496.3,103.9 L497.1,101.3 L498.2,98.7 L499.6,97.2 L500.8,95.9 L502.0,94.3 L503.2,91.5 L504.5,90.7 L505.7,87.8 L506.9,86.3 L508.1,85.2 L509.1,83.6 L510.1,80.9 L511.1,78.8 L512.1,77.5 L513.2,74.6 L514.3,73.3 L515.4,71.4 L516.4,69.7 L517.4,67.5 L518.5,65.3 L519.8,64.1 L521.6,61.7 L523.1,61.2 L524.5,58.7 L526.1,57.0 L527.8,55.9 L529.5,54.8 L531.2,53.8 L532.7,51.7 L533.9,50.7 L534.5,52.2 L534.6,54.2 L534.9,55.8 L536.2,56.6 L537.6,56.1 L538.2,57.5 L538.6,60.0 L539.1,62.4 L540.0,62.8 L540.8,61.9 L541.9,60.4 L542.6,63.8 L543.1,65.9 L543.6,68.0 L544.1,70.4 L544.5,72.2 L544.9,74.3 L545.4,77.0 L545.9,78.3 L546.8,81.2 L547.9,79.3 L548.5,78.3 L548.9,80.5 L549.0,82.5 L549.0,84.7 L549.1,87.0 L549.2,89.1 L549.3,91.3 L549.5,93.5 L549.8,95.4 L550.3,98.2 L551.3,100.6 L553.0,101.5 L554.6,102.7 L555.4,104.6 L556.0,106.9 L556.4,108.3 L556.8,111.0 L557.1,113.3 L557.4,115.1 L557.7,117.7 L558.0,119.8 L558.4,121.9 L558.9,124.1 L559.5,126.4 L560.1,128.4 L560.8,130.1 L561.5,132.4 L562.3,134.5 L563.1,136.6 L564.2,138.3 L565.1,140.8 L565.7,142.9 L566.1,145.1 L566.5,147.3 L566.9,149.4 L567.3,151.2 L567.7,153.3 L568.1,155.5 L568.7,157.9 L569.5,159.7 L571.2,161.7 L572.1,163.7 L572.8,165.1 L573.4,167.6 L574.0,169.4 L574.7,171.2 L575.4,173.1 L576.5,175.4 L577.7,176.4 L579.0,179.4 L580.2,181.7 L581.2,182.5 L582.1,184.8 L583.0,187.6 L584.1,189.0 L585.4,190.8 L586.7,192.3 L588.0,194.7 L589.4,196.1 L590.7,197.2 L591.9,198.4 L593.0,200.1 L594.4,203.5 L596.0,204.4 L597.9,206.8 L599.8,207.3 L601.6,207.1 L603.6,209.4 L605.4,211.1 L607.1,211.1 L609.0,212.3 L610.6,212.5 L612.2,208.4 L614.3,209.3 L616.3,212.0 L618.2,212.4 L620.4,211.2 L622.5,210.4 L624.7,212.3 L626.7,213.6 L628.8,214.0 L631.0,214.3 L633.0,214.5 L634.6,212.1 L636.6,210.1 L638.8,213.0 L640.8,211.0 L642.3,213.4 L644.3,214.2 L646.5,215.0 L647.9,211.9 L649.4,210.8" fill="none" stroke="#1e1e1e" stroke-width="1.45" stroke-linejoin="round"/>
<line x1="435.1" y1="238.3" x2="435.1" y2="164.6" stroke="#333" stroke-width="1.9" stroke-dasharray="5 3.7"/>
<line x1="508.4" y1="238.3" x2="508.4" y2="70.0" stroke="#333" stroke-width="1.9" stroke-dasharray="5 3.7"/>
<line x1="537.4" y1="238.3" x2="537.4" y2="32.0" stroke="#333" stroke-width="1.9" stroke-dasharray="5 3.7"/>
<line x1="358.5" y1="240.9" x2="652.4" y2="240.9" stroke="#555" stroke-width="1.6"/>
<line x1="652.4" y1="240.1" x2="652.4" y2="245.9" stroke="#555" stroke-width="1.4"/>
<text transform="translate(650.2,261.2) scale(1.08,1)" text-anchor="middle" class="tk">280</text>
<line x1="625.7" y1="240.1" x2="625.7" y2="243.7" stroke="#555" stroke-width="1.4"/>
<line x1="599.0" y1="240.1" x2="599.0" y2="245.9" stroke="#555" stroke-width="1.4"/>
<text transform="translate(596.9,261.2) scale(1.08,1)" text-anchor="middle" class="tk">282</text>
<line x1="572.2" y1="240.1" x2="572.2" y2="243.7" stroke="#555" stroke-width="1.4"/>
<line x1="545.5" y1="240.1" x2="545.5" y2="245.9" stroke="#555" stroke-width="1.4"/>
<text transform="translate(546.9,261.2) scale(1.08,1)" text-anchor="middle" class="tk">284</text>
<line x1="518.8" y1="240.1" x2="518.8" y2="243.7" stroke="#555" stroke-width="1.4"/>
<line x1="492.1" y1="240.1" x2="492.1" y2="245.9" stroke="#555" stroke-width="1.4"/>
<text transform="translate(493.0,261.2) scale(1.08,1)" text-anchor="middle" class="tk">286</text>
<line x1="465.4" y1="240.1" x2="465.4" y2="243.7" stroke="#555" stroke-width="1.4"/>
<line x1="438.6" y1="240.1" x2="438.6" y2="245.9" stroke="#555" stroke-width="1.4"/>
<text transform="translate(439.8,261.2) scale(1.08,1)" text-anchor="middle" class="tk">288</text>
<line x1="411.9" y1="240.1" x2="411.9" y2="243.7" stroke="#555" stroke-width="1.4"/>
<line x1="385.2" y1="240.1" x2="385.2" y2="245.9" stroke="#555" stroke-width="1.4"/>
<text transform="translate(389.3,261.2) scale(1.08,1)" text-anchor="middle" class="tk">290</text>
<line x1="358.5" y1="240.1" x2="358.5" y2="243.7" stroke="#555" stroke-width="1.4"/>
<text transform="translate(465.42,24.9) scale(1.0838028169014085,1)" class="a">C-C, C-H, C=C (</text>
<text transform="translate(574.69,24.9) scale(1.207394366197183,1)" class="a">284.3</text>
<text transform="translate(614.97,24.9) scale(1.0600352112676057,1)" class="a">eV)</text>
<text transform="translate(417.92,62.3) scale(1.0838028169014085,1)" class="a">C-O (</text>
<text transform="translate(454.23,62.3) scale(1.207394366197183,1)" class="a">285.4</text>
<text transform="translate(494.51,62.3) scale(1.0600352112676057,1)" class="a">eV)</text>
<text transform="translate(362.82,153.9) scale(1.0838028169014085,1)" class="a">-COO- (</text>
<text transform="translate(416.23,153.9) scale(1.207394366197183,1)" class="a">288.1</text>
<text transform="translate(456.51,153.9) scale(1.0600352112676057,1)" class="a">eV)</text>
<text transform="translate(456.5,282.7) scale(1.03,1)" class="t">Binding energy<tspan dx="-1.7"> (eV)</tspan></text>
<text transform="translate(364.0,21.7) scale(1.0,1)" class="L">B</text>
<path d="M13.1,520.6 L13.6,520.6 L14.1,520.6 L14.6,520.6 L15.1,520.6 L15.6,520.7 L16.1,520.7 L16.6,520.7 L17.1,520.7 L17.6,520.7 L18.1,520.7 L18.6,520.7 L19.1,520.7 L19.6,520.7 L20.1,520.7 L20.6,520.8 L21.1,520.8 L21.6,520.8 L22.1,520.8 L22.6,520.8 L23.1,520.8 L23.6,520.8 L24.1,520.8 L24.6,520.8 L25.1,520.8 L25.6,520.8 L26.1,520.9 L26.6,520.9 L27.1,520.9 L27.6,520.9 L28.1,520.9 L28.6,520.9 L29.1,520.9 L29.6,520.9 L30.1,520.9 L30.6,520.9 L31.1,521.0 L31.6,521.0 L32.1,521.0 L32.6,521.0 L33.1,521.0 L33.6,521.0 L34.1,521.0 L34.6,521.0 L35.1,521.0 L35.6,521.0 L36.1,521.0 L36.6,521.1 L37.1,521.1 L37.6,521.1 L38.1,521.1 L38.6,521.1 L39.1,521.1 L39.6,521.1 L40.1,521.1 L40.6,521.1 L41.1,521.1 L41.6,521.2 L42.1,521.2 L42.6,521.2 L43.1,521.2 L43.6,521.2 L44.1,521.2 L44.6,521.2 L45.1,521.2 L45.6,521.2 L46.1,521.2 L46.6,521.2 L47.1,521.3 L47.6,521.3 L48.1,521.3 L48.6,521.3 L49.1,521.3 L49.6,521.3 L50.1,521.3 L50.6,521.3 L51.1,521.3 L51.6,521.3 L52.1,521.4 L52.6,521.4 L53.1,521.4 L53.6,521.4 L54.1,521.4 L54.6,521.4 L55.1,521.4 L55.6,521.4 L56.1,521.4 L56.6,521.4 L57.1,521.5 L57.6,521.5 L58.1,521.5 L58.6,521.5 L59.1,521.5 L59.6,521.5 L60.1,521.5 L60.6,521.5 L61.1,521.5 L61.6,521.5 L62.1,521.5 L62.6,521.6 L63.1,521.6 L63.6,521.6 L64.1,521.6 L64.6,521.6 L65.1,521.6 L65.6,521.6 L66.1,521.6 L66.6,521.6 L67.1,521.6 L67.6,521.7 L68.1,521.7 L68.6,521.7 L69.1,521.7 L69.6,521.7 L70.1,521.7 L70.6,521.7 L71.1,521.7 L71.6,521.7 L72.1,521.7 L72.6,521.7 L73.1,521.8 L73.6,521.8 L74.1,521.8 L74.6,521.8 L75.1,521.8 L75.6,521.8 L76.1,521.8 L76.6,521.8 L77.1,521.8 L77.6,521.8 L78.1,521.9 L78.6,521.9 L79.1,521.9 L79.6,521.9 L80.1,521.9 L80.6,521.9 L81.1,521.9 L81.6,521.9 L82.1,521.9 L82.6,521.9 L83.1,521.9 L83.6,522.0 L84.1,522.0 L84.6,522.0 L85.1,522.0 L85.6,522.0 L86.1,522.0 L86.6,522.0 L87.1,522.0 L87.6,522.0 L88.1,522.0 L88.6,522.1 L89.1,522.1 L89.6,522.1 L90.1,522.1 L90.6,522.1 L91.1,522.1 L91.6,522.1 L92.1,522.1 L92.6,522.1 L93.1,522.1 L93.6,522.2 L94.1,522.2 L94.6,522.2 L95.1,522.2 L95.6,522.2 L96.1,522.2 L96.6,522.2 L97.1,522.2 L97.6,522.2 L98.1,522.2 L98.6,522.2 L99.1,522.3 L99.6,522.3 L100.1,522.3 L100.6,522.3 L101.1,522.3 L101.6,522.3 L102.1,522.3 L102.6,522.3 L103.1,522.3 L103.6,522.3 L104.1,522.4 L104.6,522.4 L105.1,522.4 L105.6,522.4 L106.1,522.4 L106.6,522.4 L107.1,522.4 L107.6,522.4 L108.1,522.4 L108.6,522.4 L109.1,522.4 L109.6,522.5 L110.1,522.5 L110.6,522.5 L111.1,522.5 L111.6,522.5 L112.1,522.5 L112.6,522.5 L113.1,522.5 L113.6,522.5 L114.1,522.5 L114.6,522.6 L115.1,522.6 L115.6,522.6 L116.1,522.6 L116.6,522.6 L117.1,522.6 L117.6,522.6 L118.1,522.6 L118.6,522.6 L119.1,522.6 L119.6,522.6 L120.1,522.7 L120.6,522.7 L121.1,522.7 L121.6,522.7 L122.1,522.7 L122.6,522.7 L123.1,522.7 L123.6,522.7 L124.1,522.7 L124.6,522.7 L125.1,522.8 L125.6,522.8 L126.1,522.8 L126.6,522.8 L127.1,522.8 L127.6,522.8 L128.1,522.8 L128.6,522.8 L129.1,522.8 L129.6,522.8 L130.1,522.8 L130.6,522.9 L131.1,522.9 L131.6,522.9 L132.1,522.9 L132.6,522.9 L133.1,522.9 L133.6,522.9 L134.1,522.9 L134.6,522.9 L135.1,522.9 L135.6,523.0 L136.1,523.0 L136.6,523.0 L137.1,523.0 L137.6,523.0 L138.1,523.0 L138.6,523.0 L139.1,523.0 L139.6,523.0 L140.1,523.0 L140.6,523.1 L141.1,523.1 L141.6,523.1 L142.1,523.1 L142.6,523.1 L143.1,523.1 L143.6,523.1 L144.1,523.1 L144.6,523.1 L145.1,523.1 L145.6,523.1 L146.1,523.2 L146.6,523.2 L147.1,523.2 L147.6,523.2 L148.1,523.2 L148.6,523.2 L149.1,523.2 L149.6,523.2 L150.1,523.2 L150.6,523.2 L151.1,523.3 L151.6,523.3 L152.1,523.3 L152.6,523.3 L153.1,523.3 L153.6,523.3 L154.1,523.3 L154.6,523.3 L155.1,523.3 L155.6,523.3 L156.1,523.3 L156.6,523.4 L157.1,523.4 L157.6,523.4 L158.1,523.4 L158.6,523.4 L159.1,523.4 L159.6,523.4 L160.1,523.4 L160.6,523.4 L161.1,523.4 L161.6,523.5 L162.1,523.5 L162.6,523.5 L163.1,523.5 L163.6,523.5 L164.1,523.5 L164.6,523.5 L165.1,523.5 L165.6,523.5 L166.1,523.5 L166.6,523.5 L167.1,523.6 L167.6,523.6 L168.1,523.6 L168.6,523.6 L169.1,523.6 L169.6,523.6 L170.1,523.6 L170.6,523.6 L171.1,523.6 L171.6,523.6 L172.1,523.7 L172.6,523.7 L173.1,523.7 L173.6,523.7 L174.1,523.7 L174.6,523.7 L175.1,523.7 L175.6,523.7 L176.1,523.7 L176.6,523.7 L177.1,523.8 L177.6,523.8 L178.1,523.8 L178.6,523.8 L179.1,523.8 L179.6,523.8 L180.1,523.8 L180.6,523.8 L181.1,523.8 L181.6,523.8 L182.1,523.8 L182.6,523.9 L183.1,523.9 L183.6,523.9 L184.1,523.9 L184.6,523.9 L185.1,523.9 L185.6,523.9 L186.1,523.9 L186.6,523.9 L187.1,523.9 L187.6,524.0 L188.1,524.0 L188.6,524.0 L189.1,524.0 L189.6,524.0 L190.1,524.0 L190.6,524.0 L191.1,524.0 L191.6,524.0 L192.1,524.0 L192.6,524.0 L193.1,524.1 L193.6,524.1 L194.1,524.1 L194.6,524.1 L195.1,524.1 L195.6,524.1 L196.1,524.1 L196.6,524.1 L197.1,524.1 L197.6,524.1 L198.1,524.2 L198.6,524.2 L199.1,524.2 L199.6,524.2 L200.1,524.2 L200.6,524.2 L201.1,524.2 L201.6,524.2 L202.1,524.2 L202.6,524.2 L203.1,524.2 L203.6,524.3 L204.1,524.3 L204.6,524.3 L205.1,524.3 L205.6,524.3 L206.1,524.3 L206.6,524.3 L207.1,524.3 L207.6,524.3 L208.1,524.3 L208.6,524.4 L209.1,524.4 L209.6,524.4 L210.1,524.4 L210.6,524.4 L211.1,524.4 L211.6,524.4 L212.1,524.4 L212.6,524.4 L213.1,524.4 L213.6,524.4 L214.1,524.5 L214.6,524.5 L215.1,524.5 L215.6,524.5 L216.1,524.5 L216.6,524.5 L217.1,524.5 L217.6,524.5 L218.1,524.5 L218.6,524.5 L219.1,524.6 L219.6,524.6 L220.1,524.6 L220.6,524.6 L221.1,524.6 L221.6,524.6 L222.1,524.6 L222.6,524.6 L223.1,524.6 L223.6,524.6 L224.1,524.7 L224.6,524.7 L225.1,524.7 L225.6,524.7 L226.1,524.7 L226.6,524.7 L227.1,524.7 L227.6,524.7 L228.1,524.7 L228.6,524.7 L229.1,524.7 L229.6,524.8 L230.1,524.8 L230.6,524.8 L231.1,524.8 L231.6,524.8 L232.1,524.8 L232.6,524.8 L233.1,524.8 L233.6,524.8 L234.1,524.8 L234.6,524.9 L235.1,524.9 L235.6,524.9 L236.1,524.9 L236.6,524.9 L237.1,524.9 L237.6,524.9 L238.1,524.9 L238.6,524.9 L239.1,524.9 L239.6,524.9 L240.1,525.0 L240.6,525.0 L241.1,525.0 L241.6,525.0 L242.1,525.0 L242.6,525.0 L243.1,525.0 L243.6,525.0 L244.1,525.0 L244.6,525.0 L245.1,525.1 L245.6,525.1 L246.1,525.1 L246.6,525.1 L247.1,525.1 L247.6,525.1 L248.1,525.1 L248.6,525.1 L249.1,525.1 L249.6,525.1 L250.1,525.1 L250.6,525.2 L251.1,525.2 L251.6,525.2 L252.1,525.2 L252.6,525.2 L253.1,525.2 L253.6,525.2 L254.1,525.2 L254.6,525.2 L255.1,525.2 L255.6,525.3 L256.1,525.3 L256.6,525.3 L257.1,525.3 L257.6,525.3 L258.1,525.3 L258.6,525.3 L259.1,525.3 L259.6,525.3 L260.1,525.3 L260.6,525.4 L261.1,525.4 L261.6,525.4 L262.1,525.4 L262.6,525.4 L263.1,525.4 L263.6,525.4 L264.1,525.4 L264.6,525.4 L265.1,525.4 L265.6,525.4 L266.1,525.5 L266.6,525.5 L267.1,525.5 L267.6,525.5 L268.1,525.5 L268.6,525.5 L269.1,525.5 L269.6,525.5 L270.1,525.5 L270.6,525.5 L271.1,525.6 L271.6,525.6 L272.1,525.6 L272.6,525.6 L273.1,525.6 L273.6,525.6 L274.1,525.6 L274.6,525.6 L275.1,525.6 L275.6,525.6 L276.1,525.6 L276.6,525.7 L277.1,525.7 L277.6,525.7 L278.1,525.7 L278.6,525.7 L279.1,525.7 L279.6,525.7 L280.1,525.7 L280.6,525.7 L281.1,525.7 L281.6,525.8 L282.1,525.8 L282.6,525.8 L283.1,525.8 L283.6,525.8 L284.1,525.8 L284.6,525.8 L285.1,525.8 L285.6,525.8 L286.1,525.8 L286.6,525.8 L287.1,525.9 L287.6,525.9 L288.1,525.9 L288.6,525.9 L289.1,525.9 L289.6,525.9 L290.1,525.9 L290.6,525.9 L291.1,525.9 L291.6,525.9 L292.1,526.0 L292.6,526.0 L293.1,526.0 L293.6,526.0 L294.1,526.0 L294.6,526.0 L295.1,526.0 L295.6,526.0 L296.1,526.0 L296.6,526.0 L297.1,526.0 L297.6,526.1 L298.1,526.1 L298.6,526.1 L299.1,526.1 L299.6,526.1 L300.1,526.1 L300.6,526.1 L301.1,526.1 L301.6,526.1 L302.1,526.1 L302.6,526.2 L303.1,526.2 L303.6,526.2 L304.1,526.2 L304.6,526.2 L305.1,526.2 L305.6,526.2 L306.1,526.2" fill="none" stroke="#3d4d9c" stroke-width="1.6" stroke-linejoin="round"/>
<path d="M13.1,520.5 L13.6,520.5 L14.1,520.6 L14.6,520.6 L15.1,520.6 L15.6,520.6 L16.1,520.6 L16.6,520.6 L17.1,520.6 L17.6,520.6 L18.1,520.6 L18.6,520.6 L19.1,520.6 L19.6,520.6 L20.1,520.7 L20.6,520.7 L21.1,520.7 L21.6,520.7 L22.1,520.7 L22.6,520.7 L23.1,520.7 L23.6,520.7 L24.1,520.7 L24.6,520.7 L25.1,520.7 L25.6,520.7 L26.1,520.7 L26.6,520.7 L27.1,520.8 L27.6,520.8 L28.1,520.8 L28.6,520.8 L29.1,520.8 L29.6,520.8 L30.1,520.8 L30.6,520.8 L31.1,520.8 L31.6,520.8 L32.1,520.8 L32.6,520.8 L33.1,520.8 L33.6,520.8 L34.1,520.8 L34.6,520.8 L35.1,520.8 L35.6,520.8 L36.1,520.8 L36.6,520.8 L37.1,520.8 L37.6,520.8 L38.1,520.8 L38.6,520.7 L39.1,520.7 L39.6,520.7 L40.1,520.7 L40.6,520.7 L41.1,520.7 L41.6,520.6 L42.1,520.6 L42.6,520.6 L43.1,520.5 L43.6,520.5 L44.1,520.5 L44.6,520.4 L45.1,520.4 L45.6,520.3 L46.1,520.3 L46.6,520.2 L47.1,520.2 L47.6,520.1 L48.1,520.1 L48.6,520.0 L49.1,519.9 L49.6,519.8 L50.1,519.7 L50.6,519.7 L51.1,519.6 L51.6,519.5 L52.1,519.4 L52.6,519.2 L53.1,519.1 L53.6,519.0 L54.1,518.9 L54.6,518.8 L55.1,518.6 L55.6,518.5 L56.1,518.4 L56.6,518.2 L57.1,518.1 L57.6,517.9 L58.1,517.8 L58.6,517.6 L59.1,517.4 L59.6,517.3 L60.1,517.1 L60.6,516.9 L61.1,516.8 L61.6,516.6 L62.1,516.4 L62.6,516.2 L63.1,516.1 L63.6,515.9 L64.1,515.7 L64.6,515.5 L65.1,515.4 L65.6,515.2 L66.1,515.1 L66.6,514.9 L67.1,514.8 L67.6,514.6 L68.1,514.5 L68.6,514.3 L69.1,514.2 L69.6,514.1 L70.1,514.0 L70.6,513.9 L71.1,513.8 L71.6,513.7 L72.1,513.7 L72.6,513.6 L73.1,513.6 L73.6,513.5 L74.1,513.5 L74.6,513.5 L75.1,513.5 L75.6,513.5 L76.1,513.5 L76.6,513.6 L77.1,513.6 L77.6,513.7 L78.1,513.7 L78.6,513.8 L79.1,513.8 L79.6,513.9 L80.1,514.0 L80.6,514.1 L81.1,514.2 L81.6,514.3 L82.1,514.4 L82.6,514.5 L83.1,514.7 L83.6,514.8 L84.1,514.9 L84.6,515.1 L85.1,515.2 L85.6,515.3 L86.1,515.5 L86.6,515.6 L87.1,515.8 L87.6,515.9 L88.1,516.1 L88.6,516.3 L89.1,516.4 L89.6,516.6 L90.1,516.7 L90.6,516.9 L91.1,517.1 L91.6,517.2 L92.1,517.4 L92.6,517.5 L93.1,517.7 L93.6,517.9 L94.1,518.0 L94.6,518.2 L95.1,518.3 L95.6,518.5 L96.1,518.6 L96.6,518.8 L97.1,518.9 L97.6,519.0 L98.1,519.2 L98.6,519.3 L99.1,519.5 L99.6,519.6 L100.1,519.7 L100.6,519.8 L101.1,519.9 L101.6,520.1 L102.1,520.2 L102.6,520.3 L103.1,520.4 L103.6,520.5 L104.1,520.6 L104.6,520.7 L105.1,520.8 L105.6,520.9 L106.1,520.9 L106.6,521.0 L107.1,521.1 L107.6,521.2 L108.1,521.3 L108.6,521.3 L109.1,521.4 L109.6,521.5 L110.1,521.5 L110.6,521.6 L111.1,521.6 L111.6,521.7 L112.1,521.7 L112.6,521.8 L113.1,521.8 L113.6,521.9 L114.1,521.9 L114.6,522.0 L115.1,522.0 L115.6,522.1 L116.1,522.1 L116.6,522.1 L117.1,522.2 L117.6,522.2 L118.1,522.2 L118.6,522.3 L119.1,522.3 L119.6,522.3 L120.1,522.3 L120.6,522.4 L121.1,522.4 L121.6,522.4 L122.1,522.4 L122.6,522.5 L123.1,522.5 L123.6,522.5 L124.1,522.5 L124.6,522.5 L125.1,522.5 L125.6,522.6 L126.1,522.6 L126.6,522.6 L127.1,522.6 L127.6,522.6 L128.1,522.6 L128.6,522.7 L129.1,522.7 L129.6,522.7 L130.1,522.7 L130.6,522.7 L131.1,522.7 L131.6,522.7 L132.1,522.8 L132.6,522.8 L133.1,522.8 L133.6,522.8 L134.1,522.8 L134.6,522.8 L135.1,522.8 L135.6,522.8 L136.1,522.9 L136.6,522.9 L137.1,522.9 L137.6,522.9 L138.1,522.9 L138.6,522.9 L139.1,522.9 L139.6,522.9 L140.1,522.9 L140.6,523.0 L141.1,523.0 L141.6,523.0 L142.1,523.0 L142.6,523.0 L143.1,523.0 L143.6,523.0 L144.1,523.0 L144.6,523.0 L145.1,523.1 L145.6,523.1 L146.1,523.1 L146.6,523.1 L147.1,523.1 L147.6,523.1 L148.1,523.1 L148.6,523.1 L149.1,523.1 L149.6,523.2 L150.1,523.2 L150.6,523.2 L151.1,523.2 L151.6,523.2 L152.1,523.2 L152.6,523.2 L153.1,523.2 L153.6,523.2 L154.1,523.2 L154.6,523.3 L155.1,523.3 L155.6,523.3 L156.1,523.3 L156.6,523.3 L157.1,523.3 L157.6,523.3 L158.1,523.3 L158.6,523.3 L159.1,523.3 L159.6,523.4 L160.1,523.4 L160.6,523.4 L161.1,523.4 L161.6,523.4 L162.1,523.4 L162.6,523.4 L163.1,523.4 L163.6,523.4 L164.1,523.4 L164.6,523.5 L165.1,523.5 L165.6,523.5 L166.1,523.5 L166.6,523.5 L167.1,523.5 L167.6,523.5 L168.1,523.5 L168.6,523.5 L169.1,523.6 L169.6,523.6 L170.1,523.6 L170.6,523.6 L171.1,523.6 L171.6,523.6 L172.1,523.6 L172.6,523.6 L173.1,523.6 L173.6,523.6 L174.1,523.7 L174.6,523.7 L175.1,523.7 L175.6,523.7 L176.1,523.7 L176.6,523.7 L177.1,523.7 L177.6,523.7 L178.1,523.7 L178.6,523.7 L179.1,523.8 L179.6,523.8 L180.1,523.8 L180.6,523.8 L181.1,523.8 L181.6,523.8 L182.1,523.8 L182.6,523.8 L183.1,523.8 L183.6,523.8 L184.1,523.8 L184.6,523.9 L185.1,523.9 L185.6,523.9 L186.1,523.9 L186.6,523.9 L187.1,523.9 L187.6,523.9 L188.1,523.9 L188.6,523.9 L189.1,523.9 L189.6,524.0 L190.1,524.0 L190.6,524.0 L191.1,524.0 L191.6,524.0 L192.1,524.0 L192.6,524.0 L193.1,524.0 L193.6,524.0 L194.1,524.0 L194.6,524.1 L195.1,524.1 L195.6,524.1 L196.1,524.1 L196.6,524.1 L197.1,524.1 L197.6,524.1 L198.1,524.1 L198.6,524.1 L199.1,524.1 L199.6,524.2 L200.1,524.2 L200.6,524.2 L201.1,524.2 L201.6,524.2 L202.1,524.2 L202.6,524.2 L203.1,524.2 L203.6,524.2 L204.1,524.2 L204.6,524.3 L205.1,524.3 L205.6,524.3 L206.1,524.3 L206.6,524.3 L207.1,524.3 L207.6,524.3 L208.1,524.3 L208.6,524.3 L209.1,524.3 L209.6,524.4 L210.1,524.4 L210.6,524.4 L211.1,524.4 L211.6,524.4 L212.1,524.4 L212.6,524.4 L213.1,524.4 L213.6,524.4 L214.1,524.4 L214.6,524.4 L215.1,524.5 L215.6,524.5 L216.1,524.5 L216.6,524.5 L217.1,524.5 L217.6,524.5 L218.1,524.5 L218.6,524.5 L219.1,524.5 L219.6,524.5 L220.1,524.6 L220.6,524.6 L221.1,524.6 L221.6,524.6 L222.1,524.6 L222.6,524.6 L223.1,524.6 L223.6,524.6 L224.1,524.6 L224.6,524.6 L225.1,524.7 L225.6,524.7 L226.1,524.7 L226.6,524.7 L227.1,524.7 L227.6,524.7 L228.1,524.7 L228.6,524.7 L229.1,524.7 L229.6,524.7 L230.1,524.7 L230.6,524.8 L231.1,524.8 L231.6,524.8 L232.1,524.8 L232.6,524.8 L233.1,524.8 L233.6,524.8 L234.1,524.8 L234.6,524.8 L235.1,524.8 L235.6,524.9 L236.1,524.9 L236.6,524.9 L237.1,524.9 L237.6,524.9 L238.1,524.9 L238.6,524.9 L239.1,524.9 L239.6,524.9 L240.1,524.9 L240.6,525.0 L241.1,525.0 L241.6,525.0 L242.1,525.0 L242.6,525.0 L243.1,525.0 L243.6,525.0 L244.1,525.0 L244.6,525.0 L245.1,525.0 L245.6,525.0 L246.1,525.1 L246.6,525.1 L247.1,525.1 L247.6,525.1 L248.1,525.1 L248.6,525.1 L249.1,525.1 L249.6,525.1 L250.1,525.1 L250.6,525.1 L251.1,525.2 L251.6,525.2 L252.1,525.2 L252.6,525.2 L253.1,525.2 L253.6,525.2 L254.1,525.2 L254.6,525.2 L255.1,525.2 L255.6,525.2 L256.1,525.3 L256.6,525.3 L257.1,525.3 L257.6,525.3 L258.1,525.3 L258.6,525.3 L259.1,525.3 L259.6,525.3 L260.1,525.3 L260.6,525.3 L261.1,525.3 L261.6,525.4 L262.1,525.4 L262.6,525.4 L263.1,525.4 L263.6,525.4 L264.1,525.4 L264.6,525.4 L265.1,525.4 L265.6,525.4 L266.1,525.4 L266.6,525.5 L267.1,525.5 L267.6,525.5 L268.1,525.5 L268.6,525.5 L269.1,525.5 L269.6,525.5 L270.1,525.5 L270.6,525.5 L271.1,525.5 L271.6,525.6 L272.1,525.6 L272.6,525.6 L273.1,525.6 L273.6,525.6 L274.1,525.6 L274.6,525.6 L275.1,525.6 L275.6,525.6 L276.1,525.6 L276.6,525.6 L277.1,525.7 L277.6,525.7 L278.1,525.7 L278.6,525.7 L279.1,525.7 L279.6,525.7 L280.1,525.7 L280.6,525.7 L281.1,525.7 L281.6,525.7 L282.1,525.8 L282.6,525.8 L283.1,525.8 L283.6,525.8 L284.1,525.8 L284.6,525.8 L285.1,525.8 L285.6,525.8 L286.1,525.8 L286.6,525.8 L287.1,525.8 L287.6,525.9 L288.1,525.9 L288.6,525.9 L289.1,525.9 L289.6,525.9 L290.1,525.9 L290.6,525.9 L291.1,525.9 L291.6,525.9 L292.1,525.9 L292.6,526.0 L293.1,526.0 L293.6,526.0 L294.1,526.0 L294.6,526.0 L295.1,526.0 L295.6,526.0 L296.1,526.0 L296.6,526.0 L297.1,526.0 L297.6,526.1 L298.1,526.1 L298.6,526.1 L299.1,526.1 L299.6,526.1 L300.1,526.1 L300.6,526.1 L301.1,526.1 L301.6,526.1 L302.1,526.1 L302.6,526.1 L303.1,526.2 L303.6,526.2 L304.1,526.2 L304.6,526.2 L305.1,526.2 L305.6,526.2 L306.1,526.2" fill="none" stroke="#3a8f8d" stroke-width="1.5" stroke-linejoin="round"/>
<path d="M13.1,519.5 L13.6,519.5 L14.1,519.5 L14.6,519.5 L15.1,519.5 L15.6,519.5 L16.1,519.5 L16.6,519.5 L17.1,519.5 L17.6,519.5 L18.1,519.5 L18.6,519.5 L19.1,519.5 L19.6,519.5 L20.1,519.5 L20.6,519.5 L21.1,519.6 L21.6,519.6 L22.1,519.6 L22.6,519.6 L23.1,519.6 L23.6,519.6 L24.1,519.6 L24.6,519.6 L25.1,519.6 L25.6,519.6 L26.1,519.6 L26.6,519.6 L27.1,519.6 L27.6,519.6 L28.1,519.6 L28.6,519.6 L29.1,519.6 L29.6,519.6 L30.1,519.6 L30.6,519.6 L31.1,519.6 L31.6,519.6 L32.1,519.6 L32.6,519.6 L33.1,519.6 L33.6,519.6 L34.1,519.6 L34.6,519.5 L35.1,519.5 L35.6,519.5 L36.1,519.5 L36.6,519.5 L37.1,519.5 L37.6,519.5 L38.1,519.5 L38.6,519.5 L39.1,519.5 L39.6,519.5 L40.1,519.5 L40.6,519.5 L41.1,519.5 L41.6,519.5 L42.1,519.5 L42.6,519.5 L43.1,519.5 L43.6,519.5 L44.1,519.5 L44.6,519.5 L45.1,519.5 L45.6,519.5 L46.1,519.5 L46.6,519.5 L47.1,519.5 L47.6,519.5 L48.1,519.5 L48.6,519.4 L49.1,519.4 L49.6,519.4 L50.1,519.4 L50.6,519.4 L51.1,519.4 L51.6,519.4 L52.1,519.4 L52.6,519.4 L53.1,519.4 L53.6,519.4 L54.1,519.4 L54.6,519.4 L55.1,519.4 L55.6,519.3 L56.1,519.3 L56.6,519.3 L57.1,519.3 L57.6,519.3 L58.1,519.3 L58.6,519.3 L59.1,519.3 L59.6,519.3 L60.1,519.2 L60.6,519.2 L61.1,519.2 L61.6,519.2 L62.1,519.2 L62.6,519.2 L63.1,519.2 L63.6,519.2 L64.1,519.1 L64.6,519.1 L65.1,519.1 L65.6,519.1 L66.1,519.1 L66.6,519.1 L67.1,519.1 L67.6,519.0 L68.1,519.0 L68.6,519.0 L69.1,519.0 L69.6,519.0 L70.1,519.0 L70.6,518.9 L71.1,518.9 L71.6,518.9 L72.1,518.9 L72.6,518.9 L73.1,518.8 L73.6,518.8 L74.1,518.8 L74.6,518.8 L75.1,518.7 L75.6,518.7 L76.1,518.7 L76.6,518.7 L77.1,518.6 L77.6,518.6 L78.1,518.6 L78.6,518.6 L79.1,518.5 L79.6,518.5 L80.1,518.5 L80.6,518.5 L81.1,518.4 L81.6,518.4 L82.1,518.4 L82.6,518.3 L83.1,518.3 L83.6,518.3 L84.1,518.2 L84.6,518.2 L85.1,518.2 L85.6,518.1 L86.1,518.1 L86.6,518.0 L87.1,518.0 L87.6,518.0 L88.1,517.9 L88.6,517.9 L89.1,517.8 L89.6,517.8 L90.1,517.7 L90.6,517.7 L91.1,517.6 L91.6,517.6 L92.1,517.5 L92.6,517.5 L93.1,517.4 L93.6,517.4 L94.1,517.3 L94.6,517.3 L95.1,517.2 L95.6,517.2 L96.1,517.1 L96.6,517.0 L97.1,517.0 L97.6,516.9 L98.1,516.9 L98.6,516.8 L99.1,516.7 L99.6,516.6 L100.1,516.6 L100.6,516.5 L101.1,516.4 L101.6,516.3 L102.1,516.3 L102.6,516.2 L103.1,516.1 L103.6,516.0 L104.1,515.9 L104.6,515.8 L105.1,515.7 L105.6,515.6 L106.1,515.5 L106.6,515.4 L107.1,515.3 L107.6,515.2 L108.1,515.1 L108.6,515.0 L109.1,514.9 L109.6,514.7 L110.1,514.6 L110.6,514.5 L111.1,514.3 L111.6,514.2 L112.1,514.1 L112.6,513.9 L113.1,513.8 L113.6,513.6 L114.1,513.4 L114.6,513.3 L115.1,513.1 L115.6,512.9 L116.1,512.7 L116.6,512.6 L117.1,512.4 L117.6,512.1 L118.1,511.9 L118.6,511.7 L119.1,511.5 L119.6,511.3 L120.1,511.0 L120.6,510.8 L121.1,510.5 L121.6,510.2 L122.1,510.0 L122.6,509.7 L123.1,509.4 L123.6,509.1 L124.1,508.7 L124.6,508.4 L125.1,508.1 L125.6,507.7 L126.1,507.4 L126.6,507.0 L127.1,506.6 L127.6,506.2 L128.1,505.7 L128.6,505.3 L129.1,504.9 L129.6,504.4 L130.1,503.9 L130.6,503.4 L131.1,502.9 L131.6,502.4 L132.1,501.8 L132.6,501.2 L133.1,500.6 L133.6,500.0 L134.1,499.4 L134.6,498.8 L135.1,498.1 L135.6,497.4 L136.1,496.7 L136.6,496.0 L137.1,495.2 L137.6,494.4 L138.1,493.6 L138.6,492.8 L139.1,492.0 L139.6,491.1 L140.1,490.2 L140.6,489.3 L141.1,488.4 L141.6,487.4 L142.1,486.4 L142.6,485.4 L143.1,484.4 L143.6,483.3 L144.1,482.2 L144.6,481.2 L145.1,480.0 L145.6,478.9 L146.1,477.7 L146.6,476.6 L147.1,475.4 L147.6,474.1 L148.1,472.9 L148.6,471.7 L149.1,470.4 L149.6,469.2 L150.1,467.9 L150.6,466.6 L151.1,465.3 L151.6,464.1 L152.1,462.8 L152.6,461.5 L153.1,460.3 L153.6,459.1 L154.1,457.8 L154.6,456.7 L155.1,455.5 L155.6,454.4 L156.1,453.3 L156.6,452.3 L157.1,451.3 L157.6,450.3 L158.1,449.5 L158.6,448.6 L159.1,447.9 L159.6,447.2 L160.1,446.6 L160.6,446.1 L161.1,445.7 L161.6,445.4 L162.1,445.1 L162.6,445.0 L163.1,444.9 L163.6,445.0 L164.1,445.1 L164.6,445.3 L165.1,445.7 L165.6,446.1 L166.1,446.6 L166.6,447.2 L167.1,447.9 L167.6,448.7 L168.1,449.5 L168.6,450.5 L169.1,451.4 L169.6,452.5 L170.1,453.6 L170.6,454.7 L171.1,455.9 L171.6,457.1 L172.1,458.4 L172.6,459.7 L173.1,461.0 L173.6,462.3 L174.1,463.6 L174.6,464.9 L175.1,466.3 L175.6,467.6 L176.1,469.0 L176.6,470.3 L177.1,471.6 L177.6,472.9 L178.1,474.2 L178.6,475.5 L179.1,476.8 L179.6,478.0 L180.1,479.2 L180.6,480.4 L181.1,481.6 L181.6,482.8 L182.1,483.9 L182.6,485.0 L183.1,486.1 L183.6,487.2 L184.1,488.2 L184.6,489.2 L185.1,490.2 L185.6,491.2 L186.1,492.1 L186.6,493.0 L187.1,493.9 L187.6,494.8 L188.1,495.6 L188.6,496.4 L189.1,497.2 L189.6,498.0 L190.1,498.8 L190.6,499.5 L191.1,500.2 L191.6,500.9 L192.1,501.5 L192.6,502.2 L193.1,502.8 L193.6,503.4 L194.1,503.9 L194.6,504.5 L195.1,505.0 L195.6,505.6 L196.1,506.1 L196.6,506.6 L197.1,507.0 L197.6,507.5 L198.1,507.9 L198.6,508.4 L199.1,508.8 L199.6,509.2 L200.1,509.6 L200.6,509.9 L201.1,510.3 L201.6,510.6 L202.1,511.0 L202.6,511.3 L203.1,511.6 L203.6,511.9 L204.1,512.2 L204.6,512.5 L205.1,512.8 L205.6,513.0 L206.1,513.3 L206.6,513.5 L207.1,513.8 L207.6,514.0 L208.1,514.2 L208.6,514.5 L209.1,514.7 L209.6,514.9 L210.1,515.1 L210.6,515.3 L211.1,515.5 L211.6,515.6 L212.1,515.8 L212.6,516.0 L213.1,516.2 L213.6,516.3 L214.1,516.5 L214.6,516.6 L215.1,516.8 L215.6,516.9 L216.1,517.1 L216.6,517.2 L217.1,517.3 L217.6,517.5 L218.1,517.6 L218.6,517.7 L219.1,517.9 L219.6,518.0 L220.1,518.1 L220.6,518.2 L221.1,518.3 L221.6,518.4 L222.1,518.5 L222.6,518.6 L223.1,518.7 L223.6,518.8 L224.1,518.9 L224.6,519.0 L225.1,519.1 L225.6,519.2 L226.1,519.3 L226.6,519.4 L227.1,519.5 L227.6,519.6 L228.1,519.6 L228.6,519.7 L229.1,519.8 L229.6,519.9 L230.1,520.0 L230.6,520.0 L231.1,520.1 L231.6,520.2 L232.1,520.3 L232.6,520.3 L233.1,520.4 L233.6,520.5 L234.1,520.5 L234.6,520.6 L235.1,520.7 L235.6,520.7 L236.1,520.8 L236.6,520.9 L237.1,520.9 L237.6,521.0 L238.1,521.0 L238.6,521.1 L239.1,521.1 L239.6,521.2 L240.1,521.3 L240.6,521.3 L241.1,521.4 L241.6,521.4 L242.1,521.5 L242.6,521.5 L243.1,521.6 L243.6,521.6 L244.1,521.7 L244.6,521.7 L245.1,521.8 L245.6,521.8 L246.1,521.9 L246.6,521.9 L247.1,522.0 L247.6,522.0 L248.1,522.0 L248.6,522.1 L249.1,522.1 L249.6,522.2 L250.1,522.2 L250.6,522.3 L251.1,522.3 L251.6,522.3 L252.1,522.4 L252.6,522.4 L253.1,522.5 L253.6,522.5 L254.1,522.5 L254.6,522.6 L255.1,522.6 L255.6,522.6 L256.1,522.7 L256.6,522.7 L257.1,522.8 L257.6,522.8 L258.1,522.8 L258.6,522.9 L259.1,522.9 L259.6,522.9 L260.1,523.0 L260.6,523.0 L261.1,523.0 L261.6,523.1 L262.1,523.1 L262.6,523.1 L263.1,523.2 L263.6,523.2 L264.1,523.2 L264.6,523.2 L265.1,523.3 L265.6,523.3 L266.1,523.3 L266.6,523.4 L267.1,523.4 L267.6,523.4 L268.1,523.5 L268.6,523.5 L269.1,523.5 L269.6,523.5 L270.1,523.6 L270.6,523.6 L271.1,523.6 L271.6,523.6 L272.1,523.7 L272.6,523.7 L273.1,523.7 L273.6,523.7 L274.1,523.8 L274.6,523.8 L275.1,523.8 L275.6,523.9 L276.1,523.9 L276.6,523.9 L277.1,523.9 L277.6,523.9 L278.1,524.0 L278.6,524.0 L279.1,524.0 L279.6,524.0 L280.1,524.1 L280.6,524.1 L281.1,524.1 L281.6,524.1 L282.1,524.2 L282.6,524.2 L283.1,524.2 L283.6,524.2 L284.1,524.2 L284.6,524.3 L285.1,524.3 L285.6,524.3 L286.1,524.3 L286.6,524.4 L287.1,524.4 L287.6,524.4 L288.1,524.4 L288.6,524.4 L289.1,524.5 L289.6,524.5 L290.1,524.5 L290.6,524.5 L291.1,524.5 L291.6,524.6 L292.1,524.6 L292.6,524.6 L293.1,524.6 L293.6,524.6 L294.1,524.7 L294.6,524.7 L295.1,524.7 L295.6,524.7 L296.1,524.7 L296.6,524.8 L297.1,524.8 L297.6,524.8 L298.1,524.8 L298.6,524.8 L299.1,524.9 L299.6,524.9 L300.1,524.9 L300.6,524.9 L301.1,524.9 L301.6,524.9 L302.1,525.0 L302.6,525.0 L303.1,525.0 L303.6,525.0 L304.1,525.0 L304.6,525.1 L305.1,525.1 L305.6,525.1 L306.1,525.1" fill="none" stroke="#b656c0" stroke-width="1.6" stroke-linejoin="round"/>
<path d="M13.1,519.6 L13.6,519.6 L14.1,519.6 L14.6,519.6 L15.1,519.6 L15.6,519.6 L16.1,519.6 L16.6,519.6 L17.1,519.6 L17.6,519.6 L18.1,519.6 L18.6,519.6 L19.1,519.6 L19.6,519.6 L20.1,519.6 L20.6,519.6 L21.1,519.6 L21.6,519.6 L22.1,519.6 L22.6,519.6 L23.1,519.6 L23.6,519.6 L24.1,519.6 L24.6,519.6 L25.1,519.6 L25.6,519.6 L26.1,519.6 L26.6,519.6 L27.1,519.7 L27.6,519.7 L28.1,519.7 L28.6,519.7 L29.1,519.7 L29.6,519.7 L30.1,519.7 L30.6,519.7 L31.1,519.7 L31.6,519.7 L32.1,519.7 L32.6,519.7 L33.1,519.7 L33.6,519.7 L34.1,519.7 L34.6,519.7 L35.1,519.7 L35.6,519.7 L36.1,519.7 L36.6,519.7 L37.1,519.7 L37.6,519.7 L38.1,519.7 L38.6,519.7 L39.1,519.7 L39.6,519.7 L40.1,519.7 L40.6,519.7 L41.1,519.7 L41.6,519.7 L42.1,519.7 L42.6,519.7 L43.1,519.7 L43.6,519.7 L44.1,519.7 L44.6,519.7 L45.1,519.7 L45.6,519.7 L46.1,519.7 L46.6,519.7 L47.1,519.7 L47.6,519.7 L48.1,519.7 L48.6,519.7 L49.1,519.7 L49.6,519.7 L50.1,519.7 L50.6,519.7 L51.1,519.7 L51.6,519.7 L52.1,519.7 L52.6,519.7 L53.1,519.7 L53.6,519.7 L54.1,519.6 L54.6,519.6 L55.1,519.6 L55.6,519.6 L56.1,519.6 L56.6,519.6 L57.1,519.6 L57.6,519.6 L58.1,519.6 L58.6,519.6 L59.1,519.6 L59.6,519.6 L60.1,519.6 L60.6,519.6 L61.1,519.6 L61.6,519.6 L62.1,519.6 L62.6,519.6 L63.1,519.6 L63.6,519.6 L64.1,519.6 L64.6,519.6 L65.1,519.5 L65.6,519.5 L66.1,519.5 L66.6,519.5 L67.1,519.5 L67.6,519.5 L68.1,519.5 L68.6,519.5 L69.1,519.5 L69.6,519.5 L70.1,519.5 L70.6,519.5 L71.1,519.5 L71.6,519.5 L72.1,519.4 L72.6,519.4 L73.1,519.4 L73.6,519.4 L74.1,519.4 L74.6,519.4 L75.1,519.4 L75.6,519.4 L76.1,519.4 L76.6,519.3 L77.1,519.3 L77.6,519.3 L78.1,519.3 L78.6,519.3 L79.1,519.3 L79.6,519.3 L80.1,519.3 L80.6,519.2 L81.1,519.2 L81.6,519.2 L82.1,519.2 L82.6,519.2 L83.1,519.2 L83.6,519.2 L84.1,519.1 L84.6,519.1 L85.1,519.1 L85.6,519.1 L86.1,519.1 L86.6,519.1 L87.1,519.0 L87.6,519.0 L88.1,519.0 L88.6,519.0 L89.1,519.0 L89.6,518.9 L90.1,518.9 L90.6,518.9 L91.1,518.9 L91.6,518.9 L92.1,518.8 L92.6,518.8 L93.1,518.8 L93.6,518.8 L94.1,518.7 L94.6,518.7 L95.1,518.7 L95.6,518.7 L96.1,518.6 L96.6,518.6 L97.1,518.6 L97.6,518.6 L98.1,518.5 L98.6,518.5 L99.1,518.5 L99.6,518.5 L100.1,518.4 L100.6,518.4 L101.1,518.4 L101.6,518.3 L102.1,518.3 L102.6,518.3 L103.1,518.2 L103.6,518.2 L104.1,518.2 L104.6,518.1 L105.1,518.1 L105.6,518.0 L106.1,518.0 L106.6,518.0 L107.1,517.9 L107.6,517.9 L108.1,517.8 L108.6,517.8 L109.1,517.7 L109.6,517.7 L110.1,517.7 L110.6,517.6 L111.1,517.6 L111.6,517.5 L112.1,517.5 L112.6,517.4 L113.1,517.4 L113.6,517.3 L114.1,517.2 L114.6,517.2 L115.1,517.1 L115.6,517.1 L116.1,517.0 L116.6,517.0 L117.1,516.9 L117.6,516.8 L118.1,516.8 L118.6,516.7 L119.1,516.6 L119.6,516.6 L120.1,516.5 L120.6,516.4 L121.1,516.3 L121.6,516.3 L122.1,516.2 L122.6,516.1 L123.1,516.0 L123.6,516.0 L124.1,515.9 L124.6,515.8 L125.1,515.7 L125.6,515.6 L126.1,515.5 L126.6,515.4 L127.1,515.3 L127.6,515.2 L128.1,515.1 L128.6,515.0 L129.1,514.9 L129.6,514.8 L130.1,514.7 L130.6,514.6 L131.1,514.5 L131.6,514.3 L132.1,514.2 L132.6,514.1 L133.1,514.0 L133.6,513.8 L134.1,513.7 L134.6,513.5 L135.1,513.4 L135.6,513.3 L136.1,513.1 L136.6,512.9 L137.1,512.8 L137.6,512.6 L138.1,512.4 L138.6,512.3 L139.1,512.1 L139.6,511.9 L140.1,511.7 L140.6,511.5 L141.1,511.3 L141.6,511.1 L142.1,510.9 L142.6,510.7 L143.1,510.5 L143.6,510.2 L144.1,510.0 L144.6,509.7 L145.1,509.5 L145.6,509.2 L146.1,508.9 L146.6,508.6 L147.1,508.3 L147.6,508.0 L148.1,507.7 L148.6,507.4 L149.1,507.0 L149.6,506.7 L150.1,506.3 L150.6,505.9 L151.1,505.6 L151.6,505.1 L152.1,504.7 L152.6,504.3 L153.1,503.8 L153.6,503.3 L154.1,502.9 L154.6,502.3 L155.1,501.8 L155.6,501.3 L156.1,500.7 L156.6,500.1 L157.1,499.5 L157.6,498.8 L158.1,498.1 L158.6,497.4 L159.1,496.7 L159.6,496.0 L160.1,495.2 L160.6,494.4 L161.1,493.5 L161.6,492.6 L162.1,491.7 L162.6,490.8 L163.1,489.8 L163.6,488.8 L164.1,487.7 L164.6,486.6 L165.1,485.5 L165.6,484.3 L166.1,483.1 L166.6,481.8 L167.1,480.5 L167.6,479.1 L168.1,477.7 L168.6,476.3 L169.1,474.8 L169.6,473.2 L170.1,471.6 L170.6,470.0 L171.1,468.3 L171.6,466.5 L172.1,464.7 L172.6,462.8 L173.1,460.9 L173.6,459.0 L174.1,457.0 L174.6,454.9 L175.1,452.8 L175.6,450.7 L176.1,448.4 L176.6,446.2 L177.1,443.9 L177.6,441.6 L178.1,439.2 L178.6,436.8 L179.1,434.4 L179.6,432.0 L180.1,429.5 L180.6,427.0 L181.1,424.5 L181.6,422.1 L182.1,419.6 L182.6,417.1 L183.1,414.7 L183.6,412.3 L184.1,410.0 L184.6,407.7 L185.1,405.5 L185.6,403.4 L186.1,401.4 L186.6,399.5 L187.1,397.7 L187.6,396.1 L188.1,394.6 L188.6,393.3 L189.1,392.1 L189.6,391.1 L190.1,390.3 L190.6,389.7 L191.1,389.3 L191.6,389.1 L192.1,389.1 L192.6,389.3 L193.1,389.6 L193.6,390.2 L194.1,390.9 L194.6,391.8 L195.1,392.9 L195.6,394.1 L196.1,395.5 L196.6,397.0 L197.1,398.6 L197.6,400.4 L198.1,402.2 L198.6,404.2 L199.1,406.2 L199.6,408.4 L200.1,410.6 L200.6,412.8 L201.1,415.1 L201.6,417.4 L202.1,419.7 L202.6,422.1 L203.1,424.5 L203.6,426.9 L204.1,429.2 L204.6,431.6 L205.1,434.0 L205.6,436.3 L206.1,438.6 L206.6,440.9 L207.1,443.1 L207.6,445.4 L208.1,447.5 L208.6,449.7 L209.1,451.8 L209.6,453.8 L210.1,455.9 L210.6,457.8 L211.1,459.8 L211.6,461.6 L212.1,463.5 L212.6,465.3 L213.1,467.0 L213.6,468.7 L214.1,470.4 L214.6,472.0 L215.1,473.5 L215.6,475.0 L216.1,476.5 L216.6,477.9 L217.1,479.3 L217.6,480.6 L218.1,481.9 L218.6,483.2 L219.1,484.4 L219.6,485.6 L220.1,486.7 L220.6,487.8 L221.1,488.9 L221.6,489.9 L222.1,490.9 L222.6,491.8 L223.1,492.8 L223.6,493.7 L224.1,494.5 L224.6,495.4 L225.1,496.2 L225.6,496.9 L226.1,497.7 L226.6,498.4 L227.1,499.1 L227.6,499.8 L228.1,500.4 L228.6,501.0 L229.1,501.6 L229.6,502.2 L230.1,502.8 L230.6,503.3 L231.1,503.9 L231.6,504.4 L232.1,504.8 L232.6,505.3 L233.1,505.8 L233.6,506.2 L234.1,506.6 L234.6,507.0 L235.1,507.4 L235.6,507.8 L236.1,508.2 L236.6,508.6 L237.1,508.9 L237.6,509.2 L238.1,509.6 L238.6,509.9 L239.1,510.2 L239.6,510.5 L240.1,510.8 L240.6,511.1 L241.1,511.3 L241.6,511.6 L242.1,511.9 L242.6,512.1 L243.1,512.3 L243.6,512.6 L244.1,512.8 L244.6,513.0 L245.1,513.3 L245.6,513.5 L246.1,513.7 L246.6,513.9 L247.1,514.1 L247.6,514.3 L248.1,514.5 L248.6,514.6 L249.1,514.8 L249.6,515.0 L250.1,515.2 L250.6,515.3 L251.1,515.5 L251.6,515.6 L252.1,515.8 L252.6,516.0 L253.1,516.1 L253.6,516.2 L254.1,516.4 L254.6,516.5 L255.1,516.7 L255.6,516.8 L256.1,516.9 L256.6,517.1 L257.1,517.2 L257.6,517.3 L258.1,517.4 L258.6,517.6 L259.1,517.7 L259.6,517.8 L260.1,517.9 L260.6,518.0 L261.1,518.1 L261.6,518.2 L262.1,518.3 L262.6,518.4 L263.1,518.5 L263.6,518.6 L264.1,518.7 L264.6,518.8 L265.1,518.9 L265.6,519.0 L266.1,519.1 L266.6,519.2 L267.1,519.3 L267.6,519.4 L268.1,519.4 L268.6,519.5 L269.1,519.6 L269.6,519.7 L270.1,519.8 L270.6,519.9 L271.1,519.9 L271.6,520.0 L272.1,520.1 L272.6,520.2 L273.1,520.2 L273.6,520.3 L274.1,520.4 L274.6,520.4 L275.1,520.5 L275.6,520.6 L276.1,520.6 L276.6,520.7 L277.1,520.8 L277.6,520.8 L278.1,520.9 L278.6,521.0 L279.1,521.0 L279.6,521.1 L280.1,521.1 L280.6,521.2 L281.1,521.3 L281.6,521.3 L282.1,521.4 L282.6,521.4 L283.1,521.5 L283.6,521.5 L284.1,521.6 L284.6,521.7 L285.1,521.7 L285.6,521.8 L286.1,521.8 L286.6,521.9 L287.1,521.9 L287.6,522.0 L288.1,522.0 L288.6,522.1 L289.1,522.1 L289.6,522.1 L290.1,522.2 L290.6,522.2 L291.1,522.3 L291.6,522.3 L292.1,522.4 L292.6,522.4 L293.1,522.5 L293.6,522.5 L294.1,522.5 L294.6,522.6 L295.1,522.6 L295.6,522.7 L296.1,522.7 L296.6,522.8 L297.1,522.8 L297.6,522.8 L298.1,522.9 L298.6,522.9 L299.1,522.9 L299.6,523.0 L300.1,523.0 L300.6,523.1 L301.1,523.1 L301.6,523.1 L302.1,523.2 L302.6,523.2 L303.1,523.2 L303.6,523.3 L304.1,523.3 L304.6,523.3 L305.1,523.4 L305.6,523.4 L306.1,523.4" fill="none" stroke="#939c55" stroke-width="1.5" stroke-linejoin="round"/>
<path d="M13.1,518.4 L13.6,518.4 L14.1,518.4 L14.6,518.4 L15.1,518.4 L15.6,518.4 L16.1,518.4 L16.6,518.4 L17.1,518.4 L17.6,518.4 L18.1,518.4 L18.6,518.3 L19.1,518.3 L19.6,518.3 L20.1,518.3 L20.6,518.3 L21.1,518.3 L21.6,518.3 L22.1,518.3 L22.6,518.3 L23.1,518.3 L23.6,518.3 L24.1,518.3 L24.6,518.3 L25.1,518.2 L25.6,518.2 L26.1,518.2 L26.6,518.2 L27.1,518.2 L27.6,518.2 L28.1,518.2 L28.6,518.2 L29.1,518.2 L29.6,518.1 L30.1,518.1 L30.6,518.1 L31.1,518.1 L31.6,518.1 L32.1,518.1 L32.6,518.1 L33.1,518.0 L33.6,518.0 L34.1,518.0 L34.6,518.0 L35.1,518.0 L35.6,517.9 L36.1,517.9 L36.6,517.9 L37.1,517.9 L37.6,517.8 L38.1,517.8 L38.6,517.8 L39.1,517.7 L39.6,517.7 L40.1,517.7 L40.6,517.6 L41.1,517.6 L41.6,517.5 L42.1,517.5 L42.6,517.4 L43.1,517.4 L43.6,517.3 L44.1,517.2 L44.6,517.2 L45.1,517.1 L45.6,517.0 L46.1,517.0 L46.6,516.9 L47.1,516.8 L47.6,516.7 L48.1,516.6 L48.6,516.5 L49.1,516.4 L49.6,516.3 L50.1,516.2 L50.6,516.1 L51.1,516.0 L51.6,515.8 L52.1,515.7 L52.6,515.6 L53.1,515.4 L53.6,515.3 L54.1,515.1 L54.6,515.0 L55.1,514.8 L55.6,514.6 L56.1,514.5 L56.6,514.3 L57.1,514.1 L57.6,513.9 L58.1,513.7 L58.6,513.5 L59.1,513.3 L59.6,513.1 L60.1,512.9 L60.6,512.7 L61.1,512.5 L61.6,512.3 L62.1,512.1 L62.6,511.9 L63.1,511.7 L63.6,511.5 L64.1,511.3 L64.6,511.1 L65.1,510.9 L65.6,510.7 L66.1,510.5 L66.6,510.3 L67.1,510.1 L67.6,509.9 L68.1,509.7 L68.6,509.5 L69.1,509.4 L69.6,509.2 L70.1,509.1 L70.6,508.9 L71.1,508.8 L71.6,508.7 L72.1,508.5 L72.6,508.4 L73.1,508.3 L73.6,508.3 L74.1,508.2 L74.6,508.1 L75.1,508.1 L75.6,508.0 L76.1,508.0 L76.6,508.0 L77.1,508.0 L77.6,507.9 L78.1,507.9 L78.6,507.9 L79.1,508.0 L79.6,508.0 L80.1,508.0 L80.6,508.0 L81.1,508.1 L81.6,508.1 L82.1,508.1 L82.6,508.2 L83.1,508.2 L83.6,508.3 L84.1,508.4 L84.6,508.4 L85.1,508.5 L85.6,508.6 L86.1,508.6 L86.6,508.7 L87.1,508.8 L87.6,508.9 L88.1,508.9 L88.6,509.0 L89.1,509.1 L89.6,509.2 L90.1,509.2 L90.6,509.3 L91.1,509.4 L91.6,509.5 L92.1,509.5 L92.6,509.6 L93.1,509.7 L93.6,509.7 L94.1,509.8 L94.6,509.8 L95.1,509.9 L95.6,509.9 L96.1,510.0 L96.6,510.0 L97.1,510.1 L97.6,510.1 L98.1,510.1 L98.6,510.1 L99.1,510.2 L99.6,510.2 L100.1,510.2 L100.6,510.2 L101.1,510.2 L101.6,510.2 L102.1,510.2 L102.6,510.2 L103.1,510.2 L103.6,510.1 L104.1,510.1 L104.6,510.0 L105.1,510.0 L105.6,509.9 L106.1,509.9 L106.6,509.8 L107.1,509.7 L107.6,509.6 L108.1,509.5 L108.6,509.4 L109.1,509.3 L109.6,509.2 L110.1,509.0 L110.6,508.9 L111.1,508.7 L111.6,508.6 L112.1,508.4 L112.6,508.2 L113.1,508.1 L113.6,507.9 L114.1,507.7 L114.6,507.5 L115.1,507.2 L115.6,507.0 L116.1,506.8 L116.6,506.5 L117.1,506.3 L117.6,506.0 L118.1,505.8 L118.6,505.5 L119.1,505.2 L119.6,504.9 L120.1,504.6 L120.6,504.3 L121.1,504.0 L121.6,503.7 L122.1,503.4 L122.6,503.0 L123.1,502.7 L123.6,502.3 L124.1,501.9 L124.6,501.5 L125.1,501.1 L125.6,500.7 L126.1,500.2 L126.6,499.8 L127.1,499.3 L127.6,498.8 L128.1,498.3 L128.6,497.8 L129.1,497.2 L129.6,496.6 L130.1,496.0 L130.6,495.4 L131.1,494.7 L131.6,494.1 L132.1,493.3 L132.6,492.6 L133.1,491.8 L133.6,491.0 L134.1,490.2 L134.6,489.3 L135.1,488.3 L135.6,487.4 L136.1,486.4 L136.6,485.4 L137.1,484.3 L137.6,483.3 L138.1,482.2 L138.6,481.1 L139.1,479.9 L139.6,478.8 L140.1,477.7 L140.6,476.5 L141.1,475.4 L141.6,474.2 L142.1,473.0 L142.6,471.8 L143.1,470.6 L143.6,469.4 L144.1,468.1 L144.6,466.9 L145.1,465.6 L145.6,464.3 L146.1,462.9 L146.6,461.5 L147.1,460.1 L147.6,458.7 L148.1,457.3 L148.6,455.8 L149.1,454.3 L149.6,452.7 L150.1,451.1 L150.6,449.5 L151.1,447.9 L151.6,446.3 L152.1,444.6 L152.6,442.9 L153.1,441.2 L153.6,439.5 L154.1,437.8 L154.6,436.1 L155.1,434.4 L155.6,432.7 L156.1,431.0 L156.6,429.3 L157.1,427.7 L157.6,426.1 L158.1,424.5 L158.6,422.9 L159.1,421.4 L159.6,419.9 L160.1,418.5 L160.6,417.1 L161.1,415.8 L161.6,414.6 L162.1,413.4 L162.6,412.3 L163.1,411.2 L163.6,410.2 L164.1,409.2 L164.6,408.4 L165.1,407.5 L165.6,406.8 L166.1,406.1 L166.6,405.4 L167.1,404.8 L167.6,404.2 L168.1,403.7 L168.6,403.2 L169.1,402.7 L169.6,402.2 L170.1,401.8 L170.6,401.3 L171.1,400.8 L171.6,400.3 L172.1,399.8 L172.6,399.3 L173.1,398.7 L173.6,398.1 L174.1,397.5 L174.6,396.8 L175.1,396.0 L175.6,395.2 L176.1,394.4 L176.6,393.5 L177.1,392.5 L177.6,391.5 L178.1,390.5 L178.6,389.4 L179.1,388.2 L179.6,387.0 L180.1,385.7 L180.6,384.4 L181.1,383.1 L181.6,381.8 L182.1,380.4 L182.6,379.0 L183.1,377.7 L183.6,376.3 L184.1,375.0 L184.6,373.7 L185.1,372.5 L185.6,371.3 L186.1,370.2 L186.6,369.2 L187.1,368.3 L187.6,367.5 L188.1,366.8 L188.6,366.3 L189.1,365.9 L189.6,365.7 L190.1,365.6 L190.6,365.7 L191.1,366.0 L191.6,366.5 L192.1,367.1 L192.6,367.9 L193.1,368.9 L193.6,370.0 L194.1,371.3 L194.6,372.7 L195.1,374.3 L195.6,376.0 L196.1,377.8 L196.6,379.8 L197.1,381.8 L197.6,384.0 L198.1,386.2 L198.6,388.5 L199.1,390.8 L199.6,393.3 L200.1,395.7 L200.6,398.2 L201.1,400.7 L201.6,403.3 L202.1,405.8 L202.6,408.4 L203.1,411.0 L203.6,413.5 L204.1,416.1 L204.6,418.6 L205.1,421.1 L205.6,423.6 L206.1,426.0 L206.6,428.5 L207.1,430.9 L207.6,433.2 L208.1,435.6 L208.6,437.9 L209.1,440.1 L209.6,442.4 L210.1,444.5 L210.6,446.7 L211.1,448.8 L211.6,450.8 L212.1,452.9 L212.6,454.8 L213.1,456.8 L213.6,458.6 L214.1,460.5 L214.6,462.3 L215.1,464.0 L215.6,465.7 L216.1,467.4 L216.6,469.0 L217.1,470.6 L217.6,472.1 L218.1,473.6 L218.6,475.0 L219.1,476.4 L219.6,477.8 L220.1,479.1 L220.6,480.3 L221.1,481.6 L221.6,482.7 L222.1,483.9 L222.6,485.0 L223.1,486.1 L223.6,487.1 L224.1,488.1 L224.6,489.1 L225.1,490.0 L225.6,491.0 L226.1,491.9 L226.6,492.7 L227.1,493.6 L227.6,494.4 L228.1,495.2 L228.6,496.0 L229.1,496.8 L229.6,497.5 L230.1,498.3 L230.6,499.0 L231.1,499.6 L231.6,500.3 L232.1,500.9 L232.6,501.5 L233.1,502.1 L233.6,502.7 L234.1,503.2 L234.6,503.8 L235.1,504.3 L235.6,504.8 L236.1,505.2 L236.6,505.7 L237.1,506.1 L237.6,506.5 L238.1,506.9 L238.6,507.3 L239.1,507.6 L239.6,508.0 L240.1,508.3 L240.6,508.6 L241.1,508.9 L241.6,509.2 L242.1,509.4 L242.6,509.7 L243.1,509.9 L243.6,510.1 L244.1,510.3 L244.6,510.5 L245.1,510.7 L245.6,510.9 L246.1,511.1 L246.6,511.2 L247.1,511.4 L247.6,511.6 L248.1,511.7 L248.6,511.9 L249.1,512.1 L249.6,512.2 L250.1,512.4 L250.6,512.5 L251.1,512.7 L251.6,512.9 L252.1,513.0 L252.6,513.2 L253.1,513.4 L253.6,513.5 L254.1,513.7 L254.6,513.9 L255.1,514.0 L255.6,514.2 L256.1,514.3 L256.6,514.5 L257.1,514.6 L257.6,514.8 L258.1,514.9 L258.6,515.1 L259.1,515.2 L259.6,515.4 L260.1,515.5 L260.6,515.6 L261.1,515.8 L261.6,515.9 L262.1,516.0 L262.6,516.1 L263.1,516.3 L263.6,516.4 L264.1,516.5 L264.6,516.6 L265.1,516.7 L265.6,516.9 L266.1,517.0 L266.6,517.1 L267.1,517.2 L267.6,517.3 L268.1,517.4 L268.6,517.5 L269.1,517.6 L269.6,517.7 L270.1,517.8 L270.6,517.9 L271.1,518.0 L271.6,518.1 L272.1,518.2 L272.6,518.3 L273.1,518.4 L273.6,518.4 L274.1,518.5 L274.6,518.6 L275.1,518.7 L275.6,518.8 L276.1,518.9 L276.6,518.9 L277.1,519.0 L277.6,519.1 L278.1,519.2 L278.6,519.3 L279.1,519.3 L279.6,519.4 L280.1,519.5 L280.6,519.6 L281.1,519.6 L281.6,519.7 L282.1,519.8 L282.6,519.8 L283.1,519.9 L283.6,520.0 L284.1,520.0 L284.6,520.1 L285.1,520.2 L285.6,520.2 L286.1,520.3 L286.6,520.4 L287.1,520.4 L287.6,520.5 L288.1,520.5 L288.6,520.6 L289.1,520.7 L289.6,520.7 L290.1,520.8 L290.6,520.8 L291.1,520.9 L291.6,520.9 L292.1,521.0 L292.6,521.1 L293.1,521.1 L293.6,521.2 L294.1,521.2 L294.6,521.3 L295.1,521.3 L295.6,521.4 L296.1,521.4 L296.6,521.5 L297.1,521.5 L297.6,521.6 L298.1,521.6 L298.6,521.7 L299.1,521.7 L299.6,521.8 L300.1,521.8 L300.6,521.8 L301.1,521.9 L301.6,521.9 L302.1,522.0 L302.6,522.0 L303.1,522.1 L303.6,522.1 L304.1,522.2 L304.6,522.2 L305.1,522.2 L305.6,522.3 L306.1,522.3" fill="none" stroke="#b4454a" stroke-width="1.8" stroke-linejoin="round"/>
<path d="M13.6,526.1 L15.5,525.8 L17.6,523.3 L19.8,525.5 L21.9,526.3 L23.9,525.5 L25.9,525.4 L27.8,524.3 L29.8,524.6 L31.8,524.5 L33.9,523.1 L35.8,524.6 L37.4,522.1 L39.4,524.0 L41.3,523.2 L43.4,522.2 L45.2,520.3 L47.3,521.6 L49.5,519.6 L51.6,520.8 L53.6,518.2 L55.4,517.4 L57.1,514.9 L58.7,515.9 L60.5,513.0 L62.6,513.3 L64.7,514.6 L66.7,512.1 L68.6,512.5 L70.7,510.1 L72.8,510.8 L74.8,508.7 L76.9,507.4 L78.9,507.5 L80.7,505.5 L82.7,506.5 L84.6,506.9 L86.7,508.1 L88.8,507.1 L90.8,505.9 L92.8,505.1 L94.8,505.3 L97.0,504.0 L98.9,504.7 L100.8,505.7 L102.7,507.3 L104.6,506.7 L105.4,505.9 L106.7,502.6 L108.7,501.4 L110.9,502.2 L113.0,503.7 L115.2,502.4 L117.3,501.2 L119.0,500.3 L120.5,498.9 L122.4,498.7 L124.1,496.1 L125.6,495.0 L127.1,493.0 L128.8,492.3 L130.7,491.2 L132.5,488.7 L134.1,489.6 L135.5,486.6 L136.4,484.3 L137.2,482.2 L137.9,480.3 L138.6,478.3 L139.3,476.4 L140.0,474.1 L140.7,472.2 L141.6,469.4 L142.4,467.7 L143.3,465.6 L144.2,464.0 L145.0,462.1 L145.8,459.4 L146.5,457.7 L147.2,455.9 L147.9,453.9 L148.7,451.2 L149.4,449.7 L150.2,447.5 L151.1,445.2 L152.1,444.2 L153.0,441.0 L154.0,439.3 L154.8,437.6 L155.6,435.4 L156.3,433.2 L156.9,431.6 L157.6,429.5 L158.2,427.2 L158.9,425.2 L159.6,422.8 L160.5,420.3 L161.4,419.5 L162.1,416.4 L162.7,415.1 L163.1,412.4 L163.6,410.3 L164.0,408.1 L164.6,406.3 L165.4,403.7 L166.4,402.8 L167.5,400.3 L168.5,398.2 L169.5,395.9 L170.4,394.3 L171.2,392.1 L171.9,390.6 L172.5,388.2 L173.1,385.3 L173.8,384.2 L174.7,380.7 L175.8,380.5 L177.0,377.1 L178.1,376.0 L179.2,374.5 L180.5,372.3 L182.1,370.5 L183.2,373.9 L184.2,374.4 L185.6,375.4 L186.5,375.5 L187.5,372.2 L189.0,374.7 L190.3,376.7 L192.0,377.7 L193.4,379.5 L194.4,381.4 L195.2,383.4 L195.9,385.8 L196.6,387.8 L197.3,389.7 L197.9,392.0 L198.4,393.7 L199.0,395.8 L199.6,397.8 L200.3,400.4 L200.9,402.8 L201.6,404.4 L202.3,405.9 L203.0,408.4 L203.8,410.8 L204.5,412.8 L205.3,414.8 L206.1,417.2 L207.0,419.2 L207.7,420.5 L208.3,423.1 L208.7,425.0 L209.0,427.4 L209.4,429.8 L209.9,432.3 L210.9,433.9 L212.1,435.3 L212.8,437.4 L213.4,439.8 L214.0,441.5 L214.5,443.9 L215.0,446.2 L215.5,448.4 L216.1,450.2 L216.7,452.5 L217.4,454.9 L218.1,456.7 L218.8,458.2 L219.5,460.8 L220.1,463.0 L220.7,464.9 L221.3,467.1 L221.9,468.8 L222.5,471.7 L223.1,473.6 L223.7,475.4 L224.3,477.8 L225.0,479.8 L225.6,481.6 L226.3,483.2 L227.0,485.2 L227.7,488.8 L228.4,489.9 L229.1,492.3 L229.8,494.6 L230.5,496.4 L231.2,499.0 L232.0,500.3 L232.9,502.9 L233.8,503.9 L234.7,506.9 L235.5,508.9 L236.1,510.9 L236.7,513.1 L238.6,513.3 L240.5,513.6 L241.3,515.4 L242.1,516.7 L243.3,519.5 L244.9,519.9 L246.6,521.9 L248.6,522.6 L250.6,524.0 L252.8,523.5 L254.9,523.5 L256.9,523.1 L258.6,524.1 L260.7,526.4 L262.7,525.1 L264.7,525.8 L266.5,527.5 L268.6,525.6 L270.7,527.0 L272.7,525.9 L274.7,528.1 L276.6,526.6 L278.6,526.3 L280.7,527.0 L282.8,527.1 L284.8,527.1 L287.0,528.9 L289.1,528.3 L291.1,526.9 L293.2,526.9 L295.4,524.1 L297.6,526.3 L299.6,527.0 L301.7,525.4 L303.9,527.3 L305.9,526.3" fill="none" stroke="#1e1e1e" stroke-width="1.45" stroke-linejoin="round"/>
<line x1="74.8" y1="549.8" x2="74.8" y2="477.4" stroke="#333" stroke-width="1.9" stroke-dasharray="5 3.7"/>
<line x1="164.0" y1="549.8" x2="164.0" y2="380.6" stroke="#333" stroke-width="1.9" stroke-dasharray="5 3.7"/>
<line x1="192.5" y1="549.8" x2="192.5" y2="343.9" stroke="#333" stroke-width="1.9" stroke-dasharray="5 3.7"/>
<line x1="13.1" y1="552.4" x2="306.6" y2="552.4" stroke="#555" stroke-width="1.6"/>
<line x1="306.6" y1="551.6" x2="306.6" y2="557.4" stroke="#555" stroke-width="1.4"/>
<text transform="translate(306.2,572.6) scale(1.08,1)" text-anchor="middle" class="tk">280</text>
<line x1="279.9" y1="551.6" x2="279.9" y2="555.2" stroke="#555" stroke-width="1.4"/>
<line x1="253.2" y1="551.6" x2="253.2" y2="557.4" stroke="#555" stroke-width="1.4"/>
<text transform="translate(253.3,572.6) scale(1.08,1)" text-anchor="middle" class="tk">282</text>
<line x1="226.6" y1="551.6" x2="226.6" y2="555.2" stroke="#555" stroke-width="1.4"/>
<line x1="199.9" y1="551.6" x2="199.9" y2="557.4" stroke="#555" stroke-width="1.4"/>
<text transform="translate(202.2,572.6) scale(1.08,1)" text-anchor="middle" class="tk">284</text>
<line x1="173.2" y1="551.6" x2="173.2" y2="555.2" stroke="#555" stroke-width="1.4"/>
<line x1="146.5" y1="551.6" x2="146.5" y2="557.4" stroke="#555" stroke-width="1.4"/>
<text transform="translate(149.2,572.6) scale(1.08,1)" text-anchor="middle" class="tk">286</text>
<line x1="119.8" y1="551.6" x2="119.8" y2="555.2" stroke="#555" stroke-width="1.4"/>
<line x1="93.2" y1="551.6" x2="93.2" y2="557.4" stroke="#555" stroke-width="1.4"/>
<text transform="translate(92.3,572.6) scale(1.08,1)" text-anchor="middle" class="tk">288</text>
<line x1="66.5" y1="551.6" x2="66.5" y2="555.2" stroke="#555" stroke-width="1.4"/>
<line x1="39.8" y1="551.6" x2="39.8" y2="557.4" stroke="#555" stroke-width="1.4"/>
<text transform="translate(41.7,572.6) scale(1.08,1)" text-anchor="middle" class="tk">290</text>
<line x1="13.1" y1="551.6" x2="13.1" y2="555.2" stroke="#555" stroke-width="1.4"/>
<text transform="translate(116.42,332.8) scale(1.0838028169014085,1)" class="a">C-C, C-H, C=C (</text>
<text transform="translate(225.69,332.8) scale(1.207394366197183,1)" class="a">284.3</text>
<text transform="translate(265.97,332.8) scale(1.0600352112676057,1)" class="a">eV)</text>
<text transform="translate(76.12,373.4) scale(1.0838028169014085,1)" class="a">C-O (</text>
<text transform="translate(112.43,373.4) scale(1.207394366197183,1)" class="a">285.4</text>
<text transform="translate(152.71,373.4) scale(1.0600352112676057,1)" class="a">eV)</text>
<text transform="translate(16.12,464.6) scale(1.0838028169014085,1)" class="a">-COO- (</text>
<text transform="translate(69.53,464.6) scale(1.207394366197183,1)" class="a">288.6</text>
<text transform="translate(109.81,464.6) scale(1.0600352112676057,1)" class="a">eV)</text>
<text transform="translate(111.4,593.4) scale(1.03,1)" class="t">Binding energy<tspan dx="-1.7"> (eV)</tspan></text>
<text transform="translate(11.7,351.3) scale(1.08,1)" class="L">C</text>
<path d="M360.0,521.1 L360.5,521.1 L361.0,521.1 L361.5,521.1 L362.0,521.1 L362.5,521.1 L363.0,521.1 L363.5,521.2 L364.0,521.2 L364.5,521.2 L365.0,521.2 L365.5,521.2 L366.0,521.2 L366.5,521.2 L367.0,521.2 L367.5,521.2 L368.0,521.2 L368.5,521.3 L369.0,521.3 L369.5,521.3 L370.0,521.3 L370.5,521.3 L371.0,521.3 L371.5,521.3 L372.0,521.3 L372.5,521.3 L373.0,521.4 L373.5,521.4 L374.0,521.4 L374.5,521.4 L375.0,521.4 L375.5,521.4 L376.0,521.4 L376.5,521.4 L377.0,521.4 L377.5,521.5 L378.0,521.5 L378.5,521.5 L379.0,521.5 L379.5,521.5 L380.0,521.5 L380.5,521.5 L381.0,521.5 L381.5,521.5 L382.0,521.6 L382.5,521.6 L383.0,521.6 L383.5,521.6 L384.0,521.6 L384.5,521.6 L385.0,521.6 L385.5,521.6 L386.0,521.6 L386.5,521.6 L387.0,521.7 L387.5,521.7 L388.0,521.7 L388.5,521.7 L389.0,521.7 L389.5,521.7 L390.0,521.7 L390.5,521.7 L391.0,521.7 L391.5,521.8 L392.0,521.8 L392.5,521.8 L393.0,521.8 L393.5,521.8 L394.0,521.8 L394.5,521.8 L395.0,521.8 L395.5,521.8 L396.0,521.9 L396.5,521.9 L397.0,521.9 L397.5,521.9 L398.0,521.9 L398.5,521.9 L399.0,521.9 L399.5,521.9 L400.0,521.9 L400.5,522.0 L401.0,522.0 L401.5,522.0 L402.0,522.0 L402.5,522.0 L403.0,522.0 L403.5,522.0 L404.0,522.0 L404.5,522.0 L405.0,522.0 L405.5,522.1 L406.0,522.1 L406.5,522.1 L407.0,522.1 L407.5,522.1 L408.0,522.1 L408.5,522.1 L409.0,522.1 L409.5,522.1 L410.0,522.2 L410.5,522.2 L411.0,522.2 L411.5,522.2 L412.0,522.2 L412.5,522.2 L413.0,522.2 L413.5,522.2 L414.0,522.2 L414.5,522.3 L415.0,522.3 L415.5,522.3 L416.0,522.3 L416.5,522.3 L417.0,522.3 L417.5,522.3 L418.0,522.3 L418.5,522.3 L419.0,522.4 L419.5,522.4 L420.0,522.4 L420.5,522.4 L421.0,522.4 L421.5,522.4 L422.0,522.4 L422.5,522.4 L423.0,522.4 L423.5,522.4 L424.0,522.5 L424.5,522.5 L425.0,522.5 L425.5,522.5 L426.0,522.5 L426.5,522.5 L427.0,522.5 L427.5,522.5 L428.0,522.5 L428.5,522.6 L429.0,522.6 L429.5,522.6 L430.0,522.6 L430.5,522.6 L431.0,522.6 L431.5,522.6 L432.0,522.6 L432.5,522.6 L433.0,522.7 L433.5,522.7 L434.0,522.7 L434.5,522.7 L435.0,522.7 L435.5,522.7 L436.0,522.7 L436.5,522.7 L437.0,522.7 L437.5,522.8 L438.0,522.8 L438.5,522.8 L439.0,522.8 L439.5,522.8 L440.0,522.8 L440.5,522.8 L441.0,522.8 L441.5,522.8 L442.0,522.8 L442.5,522.9 L443.0,522.9 L443.5,522.9 L444.0,522.9 L444.5,522.9 L445.0,522.9 L445.5,522.9 L446.0,522.9 L446.5,522.9 L447.0,523.0 L447.5,523.0 L448.0,523.0 L448.5,523.0 L449.0,523.0 L449.5,523.0 L450.0,523.0 L450.5,523.0 L451.0,523.0 L451.5,523.1 L452.0,523.1 L452.5,523.1 L453.0,523.1 L453.5,523.1 L454.0,523.1 L454.5,523.1 L455.0,523.1 L455.5,523.1 L456.0,523.2 L456.5,523.2 L457.0,523.2 L457.5,523.2 L458.0,523.2 L458.5,523.2 L459.0,523.2 L459.5,523.2 L460.0,523.2 L460.5,523.2 L461.0,523.3 L461.5,523.3 L462.0,523.3 L462.5,523.3 L463.0,523.3 L463.5,523.3 L464.0,523.3 L464.5,523.3 L465.0,523.3 L465.5,523.4 L466.0,523.4 L466.5,523.4 L467.0,523.4 L467.5,523.4 L468.0,523.4 L468.5,523.4 L469.0,523.4 L469.5,523.4 L470.0,523.5 L470.5,523.5 L471.0,523.5 L471.5,523.5 L472.0,523.5 L472.5,523.5 L473.0,523.5 L473.5,523.5 L474.0,523.5 L474.5,523.6 L475.0,523.6 L475.5,523.6 L476.0,523.6 L476.5,523.6 L477.0,523.6 L477.5,523.6 L478.0,523.6 L478.5,523.6 L479.0,523.6 L479.5,523.7 L480.0,523.7 L480.5,523.7 L481.0,523.7 L481.5,523.7 L482.0,523.7 L482.5,523.7 L483.0,523.7 L483.5,523.7 L484.0,523.8 L484.5,523.8 L485.0,523.8 L485.5,523.8 L486.0,523.8 L486.5,523.8 L487.0,523.8 L487.5,523.8 L488.0,523.8 L488.5,523.9 L489.0,523.9 L489.5,523.9 L490.0,523.9 L490.5,523.9 L491.0,523.9 L491.5,523.9 L492.0,523.9 L492.5,523.9 L493.0,524.0 L493.5,524.0 L494.0,524.0 L494.5,524.0 L495.0,524.0 L495.5,524.0 L496.0,524.0 L496.5,524.0 L497.0,524.0 L497.5,524.0 L498.0,524.1 L498.5,524.1 L499.0,524.1 L499.5,524.1 L500.0,524.1 L500.5,524.1 L501.0,524.1 L501.5,524.1 L502.0,524.1 L502.5,524.2 L503.0,524.2 L503.5,524.2 L504.0,524.2 L504.5,524.2 L505.0,524.2 L505.5,524.2 L506.0,524.2 L506.5,524.2 L507.0,524.3 L507.5,524.3 L508.0,524.3 L508.5,524.3 L509.0,524.3 L509.5,524.3 L510.0,524.3 L510.5,524.3 L511.0,524.3 L511.5,524.3 L512.0,524.4 L512.5,524.4 L513.0,524.4 L513.5,524.4 L514.0,524.4 L514.5,524.4 L515.0,524.4 L515.5,524.4 L516.0,524.4 L516.5,524.5 L517.0,524.5 L517.5,524.5 L518.0,524.5 L518.5,524.5 L519.0,524.5 L519.5,524.5 L520.0,524.5 L520.5,524.5 L521.0,524.6 L521.5,524.6 L522.0,524.6 L522.5,524.6 L523.0,524.6 L523.5,524.6 L524.0,524.6 L524.5,524.6 L525.0,524.6 L525.5,524.7 L526.0,524.7 L526.5,524.7 L527.0,524.7 L527.5,524.7 L528.0,524.7 L528.5,524.7 L529.0,524.7 L529.5,524.7 L530.0,524.7 L530.5,524.8 L531.0,524.8 L531.5,524.8 L532.0,524.8 L532.5,524.8 L533.0,524.8 L533.5,524.8 L534.0,524.8 L534.5,524.8 L535.0,524.9 L535.5,524.9 L536.0,524.9 L536.5,524.9 L537.0,524.9 L537.5,524.9 L538.0,524.9 L538.5,524.9 L539.0,524.9 L539.5,525.0 L540.0,525.0 L540.5,525.0 L541.0,525.0 L541.5,525.0 L542.0,525.0 L542.5,525.0 L543.0,525.0 L543.5,525.0 L544.0,525.1 L544.5,525.1 L545.0,525.1 L545.5,525.1 L546.0,525.1 L546.5,525.1 L547.0,525.1 L547.5,525.1 L548.0,525.1 L548.5,525.1 L549.0,525.2 L549.5,525.2 L550.0,525.2 L550.5,525.2 L551.0,525.2 L551.5,525.2 L552.0,525.2 L552.5,525.2 L553.0,525.2 L553.5,525.3 L554.0,525.3 L554.5,525.3 L555.0,525.3 L555.5,525.3 L556.0,525.3 L556.5,525.3 L557.0,525.3 L557.5,525.3 L558.0,525.4 L558.5,525.4 L559.0,525.4 L559.5,525.4 L560.0,525.4 L560.5,525.4 L561.0,525.4 L561.5,525.4 L562.0,525.4 L562.5,525.5 L563.0,525.5 L563.5,525.5 L564.0,525.5 L564.5,525.5 L565.0,525.5 L565.5,525.5 L566.0,525.5 L566.5,525.5 L567.0,525.5 L567.5,525.6 L568.0,525.6 L568.5,525.6 L569.0,525.6 L569.5,525.6 L570.0,525.6 L570.5,525.6 L571.0,525.6 L571.5,525.6 L572.0,525.7 L572.5,525.7 L573.0,525.7 L573.5,525.7 L574.0,525.7 L574.5,525.7 L575.0,525.7 L575.5,525.7 L576.0,525.7 L576.5,525.8 L577.0,525.8 L577.5,525.8 L578.0,525.8 L578.5,525.8 L579.0,525.8 L579.5,525.8 L580.0,525.8 L580.5,525.8 L581.0,525.9 L581.5,525.9 L582.0,525.9 L582.5,525.9 L583.0,525.9 L583.5,525.9 L584.0,525.9 L584.5,525.9 L585.0,525.9 L585.5,525.9 L586.0,526.0 L586.5,526.0 L587.0,526.0 L587.5,526.0 L588.0,526.0 L588.5,526.0 L589.0,526.0 L589.5,526.0 L590.0,526.0 L590.5,526.1 L591.0,526.1 L591.5,526.1 L592.0,526.1 L592.5,526.1 L593.0,526.1 L593.5,526.1 L594.0,526.1 L594.5,526.1 L595.0,526.2 L595.5,526.2 L596.0,526.2 L596.5,526.2 L597.0,526.2 L597.5,526.2 L598.0,526.2 L598.5,526.2 L599.0,526.2 L599.5,526.3 L600.0,526.3 L600.5,526.3 L601.0,526.3 L601.5,526.3 L602.0,526.3 L602.5,526.3 L603.0,526.3 L603.5,526.3 L604.0,526.3 L604.5,526.4 L605.0,526.4 L605.5,526.4 L606.0,526.4 L606.5,526.4 L607.0,526.4 L607.5,526.4 L608.0,526.4 L608.5,526.4 L609.0,526.5 L609.5,526.5 L610.0,526.5 L610.5,526.5 L611.0,526.5 L611.5,526.5 L612.0,526.5 L612.5,526.5 L613.0,526.5 L613.5,526.6 L614.0,526.6 L614.5,526.6 L615.0,526.6 L615.5,526.6 L616.0,526.6 L616.5,526.6 L617.0,526.6 L617.5,526.6 L618.0,526.7 L618.5,526.7 L619.0,526.7 L619.5,526.7 L620.0,526.7 L620.5,526.7 L621.0,526.7 L621.5,526.7 L622.0,526.7 L622.5,526.7 L623.0,526.8 L623.5,526.8 L624.0,526.8 L624.5,526.8 L625.0,526.8 L625.5,526.8 L626.0,526.8 L626.5,526.8 L627.0,526.8 L627.5,526.9 L628.0,526.9 L628.5,526.9 L629.0,526.9 L629.5,526.9 L630.0,526.9 L630.5,526.9 L631.0,526.9 L631.5,526.9 L632.0,527.0 L632.5,527.0 L633.0,527.0 L633.5,527.0 L634.0,527.0 L634.5,527.0 L635.0,527.0 L635.5,527.0 L636.0,527.0 L636.5,527.1 L637.0,527.1 L637.5,527.1 L638.0,527.1 L638.5,527.1 L639.0,527.1 L639.5,527.1 L640.0,527.1 L640.5,527.1 L641.0,527.1 L641.5,527.2 L642.0,527.2 L642.5,527.2 L643.0,527.2 L643.5,527.2 L644.0,527.2 L644.5,527.2 L645.0,527.2 L645.5,527.2 L646.0,527.3 L646.5,527.3 L647.0,527.3 L647.5,527.3 L648.0,527.3 L648.5,527.3 L649.0,527.3 L649.5,527.3 L650.0,527.3 L650.5,527.4 L651.0,527.4 L651.5,527.4 L652.0,527.4 L652.5,527.4 L653.0,527.4" fill="none" stroke="#3d4d9c" stroke-width="1.6" stroke-linejoin="round"/>
<path d="M360.0,521.0 L360.5,521.0 L361.0,521.0 L361.5,521.0 L362.0,521.0 L362.5,521.0 L363.0,521.0 L363.5,521.0 L364.0,521.1 L364.5,521.1 L365.0,521.1 L365.5,521.1 L366.0,521.1 L366.5,521.1 L367.0,521.1 L367.5,521.1 L368.0,521.1 L368.5,521.1 L369.0,521.1 L369.5,521.2 L370.0,521.2 L370.5,521.2 L371.0,521.2 L371.5,521.2 L372.0,521.2 L372.5,521.2 L373.0,521.2 L373.5,521.2 L374.0,521.2 L374.5,521.2 L375.0,521.2 L375.5,521.2 L376.0,521.2 L376.5,521.2 L377.0,521.3 L377.5,521.3 L378.0,521.3 L378.5,521.3 L379.0,521.3 L379.5,521.3 L380.0,521.3 L380.5,521.3 L381.0,521.3 L381.5,521.3 L382.0,521.3 L382.5,521.2 L383.0,521.2 L383.5,521.2 L384.0,521.2 L384.5,521.2 L385.0,521.2 L385.5,521.2 L386.0,521.1 L386.5,521.1 L387.0,521.1 L387.5,521.1 L388.0,521.0 L388.5,521.0 L389.0,520.9 L389.5,520.9 L390.0,520.8 L390.5,520.8 L391.0,520.7 L391.5,520.6 L392.0,520.6 L392.5,520.5 L393.0,520.4 L393.5,520.3 L394.0,520.2 L394.5,520.0 L395.0,519.9 L395.5,519.8 L396.0,519.6 L396.5,519.5 L397.0,519.3 L397.5,519.1 L398.0,518.9 L398.5,518.7 L399.0,518.5 L399.5,518.3 L400.0,518.0 L400.5,517.8 L401.0,517.5 L401.5,517.2 L402.0,516.9 L402.5,516.6 L403.0,516.3 L403.5,516.0 L404.0,515.6 L404.5,515.3 L405.0,514.9 L405.5,514.5 L406.0,514.1 L406.5,513.7 L407.0,513.3 L407.5,512.9 L408.0,512.5 L408.5,512.0 L409.0,511.6 L409.5,511.1 L410.0,510.7 L410.5,510.2 L411.0,509.8 L411.5,509.3 L412.0,508.9 L412.5,508.4 L413.0,508.0 L413.5,507.6 L414.0,507.1 L414.5,506.7 L415.0,506.3 L415.5,505.9 L416.0,505.5 L416.5,505.2 L417.0,504.8 L417.5,504.5 L418.0,504.2 L418.5,503.9 L419.0,503.6 L419.5,503.4 L420.0,503.2 L420.5,503.0 L421.0,502.9 L421.5,502.7 L422.0,502.7 L422.5,502.6 L423.0,502.6 L423.5,502.6 L424.0,502.6 L424.5,502.7 L425.0,502.8 L425.5,503.0 L426.0,503.2 L426.5,503.4 L427.0,503.7 L427.5,503.9 L428.0,504.3 L428.5,504.6 L429.0,505.0 L429.5,505.4 L430.0,505.8 L430.5,506.3 L431.0,506.7 L431.5,507.2 L432.0,507.7 L432.5,508.2 L433.0,508.7 L433.5,509.2 L434.0,509.7 L434.5,510.2 L435.0,510.8 L435.5,511.3 L436.0,511.8 L436.5,512.3 L437.0,512.8 L437.5,513.3 L438.0,513.8 L438.5,514.3 L439.0,514.8 L439.5,515.2 L440.0,515.7 L440.5,516.1 L441.0,516.5 L441.5,516.9 L442.0,517.3 L442.5,517.6 L443.0,518.0 L443.5,518.3 L444.0,518.7 L444.5,519.0 L445.0,519.3 L445.5,519.5 L446.0,519.8 L446.5,520.0 L447.0,520.3 L447.5,520.5 L448.0,520.7 L448.5,520.9 L449.0,521.0 L449.5,521.2 L450.0,521.4 L450.5,521.5 L451.0,521.6 L451.5,521.8 L452.0,521.9 L452.5,522.0 L453.0,522.1 L453.5,522.2 L454.0,522.3 L454.5,522.3 L455.0,522.4 L455.5,522.5 L456.0,522.5 L456.5,522.6 L457.0,522.7 L457.5,522.7 L458.0,522.8 L458.5,522.8 L459.0,522.8 L459.5,522.9 L460.0,522.9 L460.5,522.9 L461.0,523.0 L461.5,523.0 L462.0,523.0 L462.5,523.0 L463.0,523.1 L463.5,523.1 L464.0,523.1 L464.5,523.1 L465.0,523.1 L465.5,523.2 L466.0,523.2 L466.5,523.2 L467.0,523.2 L467.5,523.2 L468.0,523.2 L468.5,523.3 L469.0,523.3 L469.5,523.3 L470.0,523.3 L470.5,523.3 L471.0,523.3 L471.5,523.4 L472.0,523.4 L472.5,523.4 L473.0,523.4 L473.5,523.4 L474.0,523.4 L474.5,523.4 L475.0,523.4 L475.5,523.5 L476.0,523.5 L476.5,523.5 L477.0,523.5 L477.5,523.5 L478.0,523.5 L478.5,523.5 L479.0,523.5 L479.5,523.6 L480.0,523.6 L480.5,523.6 L481.0,523.6 L481.5,523.6 L482.0,523.6 L482.5,523.6 L483.0,523.6 L483.5,523.7 L484.0,523.7 L484.5,523.7 L485.0,523.7 L485.5,523.7 L486.0,523.7 L486.5,523.7 L487.0,523.7 L487.5,523.8 L488.0,523.8 L488.5,523.8 L489.0,523.8 L489.5,523.8 L490.0,523.8 L490.5,523.8 L491.0,523.8 L491.5,523.8 L492.0,523.9 L492.5,523.9 L493.0,523.9 L493.5,523.9 L494.0,523.9 L494.5,523.9 L495.0,523.9 L495.5,523.9 L496.0,524.0 L496.5,524.0 L497.0,524.0 L497.5,524.0 L498.0,524.0 L498.5,524.0 L499.0,524.0 L499.5,524.0 L500.0,524.0 L500.5,524.1 L501.0,524.1 L501.5,524.1 L502.0,524.1 L502.5,524.1 L503.0,524.1 L503.5,524.1 L504.0,524.1 L504.5,524.2 L505.0,524.2 L505.5,524.2 L506.0,524.2 L506.5,524.2 L507.0,524.2 L507.5,524.2 L508.0,524.2 L508.5,524.2 L509.0,524.3 L509.5,524.3 L510.0,524.3 L510.5,524.3 L511.0,524.3 L511.5,524.3 L512.0,524.3 L512.5,524.3 L513.0,524.3 L513.5,524.4 L514.0,524.4 L514.5,524.4 L515.0,524.4 L515.5,524.4 L516.0,524.4 L516.5,524.4 L517.0,524.4 L517.5,524.4 L518.0,524.5 L518.5,524.5 L519.0,524.5 L519.5,524.5 L520.0,524.5 L520.5,524.5 L521.0,524.5 L521.5,524.5 L522.0,524.5 L522.5,524.6 L523.0,524.6 L523.5,524.6 L524.0,524.6 L524.5,524.6 L525.0,524.6 L525.5,524.6 L526.0,524.6 L526.5,524.6 L527.0,524.7 L527.5,524.7 L528.0,524.7 L528.5,524.7 L529.0,524.7 L529.5,524.7 L530.0,524.7 L530.5,524.7 L531.0,524.7 L531.5,524.8 L532.0,524.8 L532.5,524.8 L533.0,524.8 L533.5,524.8 L534.0,524.8 L534.5,524.8 L535.0,524.8 L535.5,524.8 L536.0,524.9 L536.5,524.9 L537.0,524.9 L537.5,524.9 L538.0,524.9 L538.5,524.9 L539.0,524.9 L539.5,524.9 L540.0,524.9 L540.5,525.0 L541.0,525.0 L541.5,525.0 L542.0,525.0 L542.5,525.0 L543.0,525.0 L543.5,525.0 L544.0,525.0 L544.5,525.0 L545.0,525.1 L545.5,525.1 L546.0,525.1 L546.5,525.1 L547.0,525.1 L547.5,525.1 L548.0,525.1 L548.5,525.1 L549.0,525.1 L549.5,525.2 L550.0,525.2 L550.5,525.2 L551.0,525.2 L551.5,525.2 L552.0,525.2 L552.5,525.2 L553.0,525.2 L553.5,525.2 L554.0,525.2 L554.5,525.3 L555.0,525.3 L555.5,525.3 L556.0,525.3 L556.5,525.3 L557.0,525.3 L557.5,525.3 L558.0,525.3 L558.5,525.3 L559.0,525.4 L559.5,525.4 L560.0,525.4 L560.5,525.4 L561.0,525.4 L561.5,525.4 L562.0,525.4 L562.5,525.4 L563.0,525.4 L563.5,525.5 L564.0,525.5 L564.5,525.5 L565.0,525.5 L565.5,525.5 L566.0,525.5 L566.5,525.5 L567.0,525.5 L567.5,525.5 L568.0,525.6 L568.5,525.6 L569.0,525.6 L569.5,525.6 L570.0,525.6 L570.5,525.6 L571.0,525.6 L571.5,525.6 L572.0,525.6 L572.5,525.7 L573.0,525.7 L573.5,525.7 L574.0,525.7 L574.5,525.7 L575.0,525.7 L575.5,525.7 L576.0,525.7 L576.5,525.7 L577.0,525.8 L577.5,525.8 L578.0,525.8 L578.5,525.8 L579.0,525.8 L579.5,525.8 L580.0,525.8 L580.5,525.8 L581.0,525.8 L581.5,525.9 L582.0,525.9 L582.5,525.9 L583.0,525.9 L583.5,525.9 L584.0,525.9 L584.5,525.9 L585.0,525.9 L585.5,525.9 L586.0,525.9 L586.5,526.0 L587.0,526.0 L587.5,526.0 L588.0,526.0 L588.5,526.0 L589.0,526.0 L589.5,526.0 L590.0,526.0 L590.5,526.0 L591.0,526.1 L591.5,526.1 L592.0,526.1 L592.5,526.1 L593.0,526.1 L593.5,526.1 L594.0,526.1 L594.5,526.1 L595.0,526.1 L595.5,526.2 L596.0,526.2 L596.5,526.2 L597.0,526.2 L597.5,526.2 L598.0,526.2 L598.5,526.2 L599.0,526.2 L599.5,526.2 L600.0,526.3 L600.5,526.3 L601.0,526.3 L601.5,526.3 L602.0,526.3 L602.5,526.3 L603.0,526.3 L603.5,526.3 L604.0,526.3 L604.5,526.4 L605.0,526.4 L605.5,526.4 L606.0,526.4 L606.5,526.4 L607.0,526.4 L607.5,526.4 L608.0,526.4 L608.5,526.4 L609.0,526.4 L609.5,526.5 L610.0,526.5 L610.5,526.5 L611.0,526.5 L611.5,526.5 L612.0,526.5 L612.5,526.5 L613.0,526.5 L613.5,526.5 L614.0,526.6 L614.5,526.6 L615.0,526.6 L615.5,526.6 L616.0,526.6 L616.5,526.6 L617.0,526.6 L617.5,526.6 L618.0,526.6 L618.5,526.7 L619.0,526.7 L619.5,526.7 L620.0,526.7 L620.5,526.7 L621.0,526.7 L621.5,526.7 L622.0,526.7 L622.5,526.7 L623.0,526.8 L623.5,526.8 L624.0,526.8 L624.5,526.8 L625.0,526.8 L625.5,526.8 L626.0,526.8 L626.5,526.8 L627.0,526.8 L627.5,526.8 L628.0,526.9 L628.5,526.9 L629.0,526.9 L629.5,526.9 L630.0,526.9 L630.5,526.9 L631.0,526.9 L631.5,526.9 L632.0,526.9 L632.5,527.0 L633.0,527.0 L633.5,527.0 L634.0,527.0 L634.5,527.0 L635.0,527.0 L635.5,527.0 L636.0,527.0 L636.5,527.0 L637.0,527.1 L637.5,527.1 L638.0,527.1 L638.5,527.1 L639.0,527.1 L639.5,527.1 L640.0,527.1 L640.5,527.1 L641.0,527.1 L641.5,527.2 L642.0,527.2 L642.5,527.2 L643.0,527.2 L643.5,527.2 L644.0,527.2 L644.5,527.2 L645.0,527.2 L645.5,527.2 L646.0,527.3 L646.5,527.3 L647.0,527.3 L647.5,527.3 L648.0,527.3 L648.5,527.3 L649.0,527.3 L649.5,527.3 L650.0,527.3 L650.5,527.3 L651.0,527.4 L651.5,527.4 L652.0,527.4 L652.5,527.4 L653.0,527.4" fill="none" stroke="#3a8f8d" stroke-width="1.5" stroke-linejoin="round"/>
<path d="M360.0,519.8 L360.5,519.8 L361.0,519.8 L361.5,519.8 L362.0,519.8 L362.5,519.8 L363.0,519.9 L363.5,519.9 L364.0,519.9 L364.5,519.9 L365.0,519.9 L365.5,519.9 L366.0,519.9 L366.5,519.9 L367.0,519.9 L367.5,519.9 L368.0,519.9 L368.5,519.9 L369.0,519.9 L369.5,519.9 L370.0,519.9 L370.5,519.9 L371.0,519.9 L371.5,519.9 L372.0,519.9 L372.5,519.9 L373.0,519.9 L373.5,519.9 L374.0,519.9 L374.5,519.9 L375.0,519.9 L375.5,519.9 L376.0,519.9 L376.5,519.9 L377.0,519.9 L377.5,519.9 L378.0,519.9 L378.5,519.9 L379.0,519.9 L379.5,519.9 L380.0,519.9 L380.5,519.9 L381.0,519.9 L381.5,519.9 L382.0,519.9 L382.5,519.9 L383.0,519.9 L383.5,519.9 L384.0,519.9 L384.5,519.8 L385.0,519.8 L385.5,519.8 L386.0,519.8 L386.5,519.8 L387.0,519.8 L387.5,519.8 L388.0,519.8 L388.5,519.8 L389.0,519.8 L389.5,519.8 L390.0,519.8 L390.5,519.8 L391.0,519.8 L391.5,519.8 L392.0,519.8 L392.5,519.8 L393.0,519.8 L393.5,519.8 L394.0,519.8 L394.5,519.8 L395.0,519.7 L395.5,519.7 L396.0,519.7 L396.5,519.7 L397.0,519.7 L397.5,519.7 L398.0,519.7 L398.5,519.7 L399.0,519.7 L399.5,519.7 L400.0,519.7 L400.5,519.7 L401.0,519.7 L401.5,519.6 L402.0,519.6 L402.5,519.6 L403.0,519.6 L403.5,519.6 L404.0,519.6 L404.5,519.6 L405.0,519.6 L405.5,519.6 L406.0,519.5 L406.5,519.5 L407.0,519.5 L407.5,519.5 L408.0,519.5 L408.5,519.5 L409.0,519.5 L409.5,519.4 L410.0,519.4 L410.5,519.4 L411.0,519.4 L411.5,519.4 L412.0,519.4 L412.5,519.3 L413.0,519.3 L413.5,519.3 L414.0,519.3 L414.5,519.3 L415.0,519.3 L415.5,519.2 L416.0,519.2 L416.5,519.2 L417.0,519.2 L417.5,519.1 L418.0,519.1 L418.5,519.1 L419.0,519.1 L419.5,519.1 L420.0,519.0 L420.5,519.0 L421.0,519.0 L421.5,519.0 L422.0,518.9 L422.5,518.9 L423.0,518.9 L423.5,518.8 L424.0,518.8 L424.5,518.8 L425.0,518.8 L425.5,518.7 L426.0,518.7 L426.5,518.7 L427.0,518.6 L427.5,518.6 L428.0,518.6 L428.5,518.5 L429.0,518.5 L429.5,518.4 L430.0,518.4 L430.5,518.4 L431.0,518.3 L431.5,518.3 L432.0,518.2 L432.5,518.2 L433.0,518.2 L433.5,518.1 L434.0,518.1 L434.5,518.0 L435.0,518.0 L435.5,517.9 L436.0,517.9 L436.5,517.8 L437.0,517.8 L437.5,517.7 L438.0,517.7 L438.5,517.6 L439.0,517.6 L439.5,517.5 L440.0,517.4 L440.5,517.4 L441.0,517.3 L441.5,517.2 L442.0,517.2 L442.5,517.1 L443.0,517.0 L443.5,517.0 L444.0,516.9 L444.5,516.8 L445.0,516.7 L445.5,516.7 L446.0,516.6 L446.5,516.5 L447.0,516.4 L447.5,516.3 L448.0,516.2 L448.5,516.1 L449.0,516.1 L449.5,516.0 L450.0,515.9 L450.5,515.7 L451.0,515.6 L451.5,515.5 L452.0,515.4 L452.5,515.3 L453.0,515.2 L453.5,515.1 L454.0,514.9 L454.5,514.8 L455.0,514.7 L455.5,514.5 L456.0,514.4 L456.5,514.2 L457.0,514.1 L457.5,513.9 L458.0,513.8 L458.5,513.6 L459.0,513.4 L459.5,513.2 L460.0,513.1 L460.5,512.9 L461.0,512.7 L461.5,512.5 L462.0,512.3 L462.5,512.0 L463.0,511.8 L463.5,511.6 L464.0,511.3 L464.5,511.1 L465.0,510.8 L465.5,510.6 L466.0,510.3 L466.5,510.0 L467.0,509.7 L467.5,509.4 L468.0,509.1 L468.5,508.7 L469.0,508.4 L469.5,508.0 L470.0,507.7 L470.5,507.3 L471.0,506.9 L471.5,506.5 L472.0,506.1 L472.5,505.6 L473.0,505.2 L473.5,504.7 L474.0,504.2 L474.5,503.7 L475.0,503.2 L475.5,502.7 L476.0,502.2 L476.5,501.6 L477.0,501.0 L477.5,500.4 L478.0,499.8 L478.5,499.1 L479.0,498.5 L479.5,497.8 L480.0,497.1 L480.5,496.3 L481.0,495.6 L481.5,494.8 L482.0,494.0 L482.5,493.2 L483.0,492.4 L483.5,491.5 L484.0,490.7 L484.5,489.7 L485.0,488.8 L485.5,487.9 L486.0,486.9 L486.5,485.9 L487.0,484.9 L487.5,483.8 L488.0,482.8 L488.5,481.7 L489.0,480.5 L489.5,479.4 L490.0,478.3 L490.5,477.1 L491.0,475.9 L491.5,474.7 L492.0,473.4 L492.5,472.2 L493.0,470.9 L493.5,469.6 L494.0,468.3 L494.5,467.0 L495.0,465.7 L495.5,464.4 L496.0,463.0 L496.5,461.7 L497.0,460.4 L497.5,459.0 L498.0,457.7 L498.5,456.4 L499.0,455.1 L499.5,453.8 L500.0,452.6 L500.5,451.3 L501.0,450.1 L501.5,449.0 L502.0,447.8 L502.5,446.7 L503.0,445.7 L503.5,444.7 L504.0,443.8 L504.5,442.9 L505.0,442.2 L505.5,441.4 L506.0,440.8 L506.5,440.2 L507.0,439.7 L507.5,439.3 L508.0,439.0 L508.5,438.8 L509.0,438.7 L509.5,438.6 L510.0,438.7 L510.5,438.9 L511.0,439.1 L511.5,439.5 L512.0,439.9 L512.5,440.4 L513.0,441.1 L513.5,441.8 L514.0,442.5 L514.5,443.4 L515.0,444.3 L515.5,445.3 L516.0,446.4 L516.5,447.5 L517.0,448.6 L517.5,449.8 L518.0,451.1 L518.5,452.3 L519.0,453.6 L519.5,455.0 L520.0,456.3 L520.5,457.7 L521.0,459.1 L521.5,460.4 L522.0,461.8 L522.5,463.2 L523.0,464.6 L523.5,466.0 L524.0,467.4 L524.5,468.7 L525.0,470.1 L525.5,471.4 L526.0,472.8 L526.5,474.1 L527.0,475.4 L527.5,476.6 L528.0,477.9 L528.5,479.1 L529.0,480.3 L529.5,481.5 L530.0,482.7 L530.5,483.8 L531.0,485.0 L531.5,486.0 L532.0,487.1 L532.5,488.2 L533.0,489.2 L533.5,490.2 L534.0,491.1 L534.5,492.1 L535.0,493.0 L535.5,493.9 L536.0,494.8 L536.5,495.6 L537.0,496.4 L537.5,497.2 L538.0,498.0 L538.5,498.8 L539.0,499.5 L539.5,500.2 L540.0,500.9 L540.5,501.6 L541.0,502.2 L541.5,502.8 L542.0,503.5 L542.5,504.0 L543.0,504.6 L543.5,505.2 L544.0,505.7 L544.5,506.2 L545.0,506.7 L545.5,507.2 L546.0,507.7 L546.5,508.1 L547.0,508.6 L547.5,509.0 L548.0,509.4 L548.5,509.8 L549.0,510.2 L549.5,510.6 L550.0,510.9 L550.5,511.3 L551.0,511.6 L551.5,511.9 L552.0,512.2 L552.5,512.5 L553.0,512.8 L553.5,513.1 L554.0,513.4 L554.5,513.7 L555.0,513.9 L555.5,514.2 L556.0,514.4 L556.5,514.7 L557.0,514.9 L557.5,515.1 L558.0,515.3 L558.5,515.5 L559.0,515.7 L559.5,515.9 L560.0,516.1 L560.5,516.3 L561.0,516.5 L561.5,516.6 L562.0,516.8 L562.5,517.0 L563.0,517.1 L563.5,517.3 L564.0,517.5 L564.5,517.6 L565.0,517.7 L565.5,517.9 L566.0,518.0 L566.5,518.2 L567.0,518.3 L567.5,518.4 L568.0,518.5 L568.5,518.7 L569.0,518.8 L569.5,518.9 L570.0,519.0 L570.5,519.1 L571.0,519.2 L571.5,519.3 L572.0,519.4 L572.5,519.5 L573.0,519.6 L573.5,519.7 L574.0,519.8 L574.5,519.9 L575.0,520.0 L575.5,520.1 L576.0,520.2 L576.5,520.3 L577.0,520.4 L577.5,520.5 L578.0,520.5 L578.5,520.6 L579.0,520.7 L579.5,520.8 L580.0,520.9 L580.5,520.9 L581.0,521.0 L581.5,521.1 L582.0,521.2 L582.5,521.2 L583.0,521.3 L583.5,521.4 L584.0,521.4 L584.5,521.5 L585.0,521.6 L585.5,521.6 L586.0,521.7 L586.5,521.8 L587.0,521.8 L587.5,521.9 L588.0,521.9 L588.5,522.0 L589.0,522.1 L589.5,522.1 L590.0,522.2 L590.5,522.2 L591.0,522.3 L591.5,522.3 L592.0,522.4 L592.5,522.4 L593.0,522.5 L593.5,522.5 L594.0,522.6 L594.5,522.6 L595.0,522.7 L595.5,522.7 L596.0,522.8 L596.5,522.8 L597.0,522.9 L597.5,522.9 L598.0,523.0 L598.5,523.0 L599.0,523.1 L599.5,523.1 L600.0,523.2 L600.5,523.2 L601.0,523.2 L601.5,523.3 L602.0,523.3 L602.5,523.4 L603.0,523.4 L603.5,523.4 L604.0,523.5 L604.5,523.5 L605.0,523.6 L605.5,523.6 L606.0,523.6 L606.5,523.7 L607.0,523.7 L607.5,523.8 L608.0,523.8 L608.5,523.8 L609.0,523.9 L609.5,523.9 L610.0,523.9 L610.5,524.0 L611.0,524.0 L611.5,524.0 L612.0,524.1 L612.5,524.1 L613.0,524.1 L613.5,524.2 L614.0,524.2 L614.5,524.2 L615.0,524.3 L615.5,524.3 L616.0,524.3 L616.5,524.4 L617.0,524.4 L617.5,524.4 L618.0,524.5 L618.5,524.5 L619.0,524.5 L619.5,524.5 L620.0,524.6 L620.5,524.6 L621.0,524.6 L621.5,524.7 L622.0,524.7 L622.5,524.7 L623.0,524.8 L623.5,524.8 L624.0,524.8 L624.5,524.8 L625.0,524.9 L625.5,524.9 L626.0,524.9 L626.5,524.9 L627.0,525.0 L627.5,525.0 L628.0,525.0 L628.5,525.0 L629.0,525.1 L629.5,525.1 L630.0,525.1 L630.5,525.1 L631.0,525.2 L631.5,525.2 L632.0,525.2 L632.5,525.2 L633.0,525.3 L633.5,525.3 L634.0,525.3 L634.5,525.3 L635.0,525.4 L635.5,525.4 L636.0,525.4 L636.5,525.4 L637.0,525.5 L637.5,525.5 L638.0,525.5 L638.5,525.5 L639.0,525.6 L639.5,525.6 L640.0,525.6 L640.5,525.6 L641.0,525.6 L641.5,525.7 L642.0,525.7 L642.5,525.7 L643.0,525.7 L643.5,525.7 L644.0,525.8 L644.5,525.8 L645.0,525.8 L645.5,525.8 L646.0,525.9 L646.5,525.9 L647.0,525.9 L647.5,525.9 L648.0,525.9 L648.5,526.0 L649.0,526.0 L649.5,526.0 L650.0,526.0 L650.5,526.0 L651.0,526.1 L651.5,526.1 L652.0,526.1 L652.5,526.1 L653.0,526.1" fill="none" stroke="#b656c0" stroke-width="1.6" stroke-linejoin="round"/>
<path d="M360.0,520.3 L360.5,520.3 L361.0,520.3 L361.5,520.4 L362.0,520.4 L362.5,520.4 L363.0,520.4 L363.5,520.4 L364.0,520.4 L364.5,520.4 L365.0,520.4 L365.5,520.4 L366.0,520.4 L366.5,520.4 L367.0,520.4 L367.5,520.4 L368.0,520.4 L368.5,520.4 L369.0,520.5 L369.5,520.5 L370.0,520.5 L370.5,520.5 L371.0,520.5 L371.5,520.5 L372.0,520.5 L372.5,520.5 L373.0,520.5 L373.5,520.5 L374.0,520.5 L374.5,520.5 L375.0,520.5 L375.5,520.5 L376.0,520.5 L376.5,520.5 L377.0,520.5 L377.5,520.5 L378.0,520.6 L378.5,520.6 L379.0,520.6 L379.5,520.6 L380.0,520.6 L380.5,520.6 L381.0,520.6 L381.5,520.6 L382.0,520.6 L382.5,520.6 L383.0,520.6 L383.5,520.6 L384.0,520.6 L384.5,520.6 L385.0,520.6 L385.5,520.6 L386.0,520.6 L386.5,520.6 L387.0,520.6 L387.5,520.6 L388.0,520.6 L388.5,520.6 L389.0,520.7 L389.5,520.7 L390.0,520.7 L390.5,520.7 L391.0,520.7 L391.5,520.7 L392.0,520.7 L392.5,520.7 L393.0,520.7 L393.5,520.7 L394.0,520.7 L394.5,520.7 L395.0,520.7 L395.5,520.7 L396.0,520.7 L396.5,520.7 L397.0,520.7 L397.5,520.7 L398.0,520.7 L398.5,520.7 L399.0,520.7 L399.5,520.7 L400.0,520.7 L400.5,520.7 L401.0,520.7 L401.5,520.7 L402.0,520.7 L402.5,520.7 L403.0,520.7 L403.5,520.7 L404.0,520.7 L404.5,520.7 L405.0,520.7 L405.5,520.7 L406.0,520.7 L406.5,520.7 L407.0,520.7 L407.5,520.7 L408.0,520.7 L408.5,520.7 L409.0,520.7 L409.5,520.7 L410.0,520.7 L410.5,520.7 L411.0,520.7 L411.5,520.7 L412.0,520.7 L412.5,520.7 L413.0,520.7 L413.5,520.7 L414.0,520.7 L414.5,520.7 L415.0,520.7 L415.5,520.7 L416.0,520.7 L416.5,520.7 L417.0,520.7 L417.5,520.7 L418.0,520.7 L418.5,520.7 L419.0,520.7 L419.5,520.7 L420.0,520.7 L420.5,520.7 L421.0,520.7 L421.5,520.7 L422.0,520.7 L422.5,520.7 L423.0,520.7 L423.5,520.7 L424.0,520.7 L424.5,520.7 L425.0,520.7 L425.5,520.7 L426.0,520.7 L426.5,520.7 L427.0,520.7 L427.5,520.6 L428.0,520.6 L428.5,520.6 L429.0,520.6 L429.5,520.6 L430.0,520.6 L430.5,520.6 L431.0,520.6 L431.5,520.6 L432.0,520.6 L432.5,520.6 L433.0,520.6 L433.5,520.6 L434.0,520.6 L434.5,520.5 L435.0,520.5 L435.5,520.5 L436.0,520.5 L436.5,520.5 L437.0,520.5 L437.5,520.5 L438.0,520.5 L438.5,520.5 L439.0,520.5 L439.5,520.4 L440.0,520.4 L440.5,520.4 L441.0,520.4 L441.5,520.4 L442.0,520.4 L442.5,520.4 L443.0,520.3 L443.5,520.3 L444.0,520.3 L444.5,520.3 L445.0,520.3 L445.5,520.3 L446.0,520.2 L446.5,520.2 L447.0,520.2 L447.5,520.2 L448.0,520.2 L448.5,520.2 L449.0,520.1 L449.5,520.1 L450.0,520.1 L450.5,520.1 L451.0,520.1 L451.5,520.0 L452.0,520.0 L452.5,520.0 L453.0,520.0 L453.5,519.9 L454.0,519.9 L454.5,519.9 L455.0,519.9 L455.5,519.8 L456.0,519.8 L456.5,519.8 L457.0,519.7 L457.5,519.7 L458.0,519.7 L458.5,519.7 L459.0,519.6 L459.5,519.6 L460.0,519.6 L460.5,519.5 L461.0,519.5 L461.5,519.5 L462.0,519.4 L462.5,519.4 L463.0,519.3 L463.5,519.3 L464.0,519.3 L464.5,519.2 L465.0,519.2 L465.5,519.1 L466.0,519.1 L466.5,519.0 L467.0,519.0 L467.5,519.0 L468.0,518.9 L468.5,518.9 L469.0,518.8 L469.5,518.7 L470.0,518.7 L470.5,518.6 L471.0,518.6 L471.5,518.5 L472.0,518.5 L472.5,518.4 L473.0,518.3 L473.5,518.3 L474.0,518.2 L474.5,518.1 L475.0,518.1 L475.5,518.0 L476.0,517.9 L476.5,517.8 L477.0,517.8 L477.5,517.7 L478.0,517.6 L478.5,517.5 L479.0,517.4 L479.5,517.3 L480.0,517.2 L480.5,517.2 L481.0,517.1 L481.5,517.0 L482.0,516.8 L482.5,516.7 L483.0,516.6 L483.5,516.5 L484.0,516.4 L484.5,516.3 L485.0,516.1 L485.5,516.0 L486.0,515.9 L486.5,515.7 L487.0,515.6 L487.5,515.4 L488.0,515.2 L488.5,515.1 L489.0,514.9 L489.5,514.7 L490.0,514.5 L490.5,514.3 L491.0,514.1 L491.5,513.9 L492.0,513.6 L492.5,513.4 L493.0,513.2 L493.5,512.9 L494.0,512.6 L494.5,512.3 L495.0,512.0 L495.5,511.7 L496.0,511.4 L496.5,511.0 L497.0,510.6 L497.5,510.3 L498.0,509.8 L498.5,509.4 L499.0,509.0 L499.5,508.5 L500.0,508.0 L500.5,507.5 L501.0,507.0 L501.5,506.4 L502.0,505.8 L502.5,505.2 L503.0,504.5 L503.5,503.8 L504.0,503.1 L504.5,502.3 L505.0,501.5 L505.5,500.7 L506.0,499.9 L506.5,499.0 L507.0,498.0 L507.5,497.0 L508.0,496.0 L508.5,494.9 L509.0,493.8 L509.5,492.6 L510.0,491.4 L510.5,490.2 L511.0,488.9 L511.5,487.5 L512.0,486.1 L512.5,484.7 L513.0,483.1 L513.5,481.6 L514.0,480.0 L514.5,478.3 L515.0,476.6 L515.5,474.8 L516.0,473.0 L516.5,471.1 L517.0,469.2 L517.5,467.2 L518.0,465.2 L518.5,463.1 L519.0,461.0 L519.5,458.8 L520.0,456.6 L520.5,454.3 L521.0,452.0 L521.5,449.7 L522.0,447.3 L522.5,444.9 L523.0,442.5 L523.5,440.0 L524.0,437.5 L524.5,435.0 L525.0,432.5 L525.5,430.0 L526.0,427.5 L526.5,424.9 L527.0,422.4 L527.5,419.9 L528.0,417.5 L528.5,415.0 L529.0,412.6 L529.5,410.3 L530.0,408.0 L530.5,405.7 L531.0,403.6 L531.5,401.5 L532.0,399.5 L532.5,397.6 L533.0,395.9 L533.5,394.2 L534.0,392.7 L534.5,391.3 L535.0,390.1 L535.5,389.0 L536.0,388.1 L536.5,387.4 L537.0,386.8 L537.5,386.4 L538.0,386.2 L538.5,386.2 L539.0,386.4 L539.5,386.7 L540.0,387.3 L540.5,388.0 L541.0,389.0 L541.5,390.1 L542.0,391.3 L542.5,392.7 L543.0,394.3 L543.5,396.0 L544.0,397.9 L544.5,399.8 L545.0,401.9 L545.5,404.1 L546.0,406.3 L546.5,408.6 L547.0,411.0 L547.5,413.5 L548.0,416.0 L548.5,418.6 L549.0,421.1 L549.5,423.7 L550.0,426.4 L550.5,429.0 L551.0,431.6 L551.5,434.2 L552.0,436.8 L552.5,439.4 L553.0,442.0 L553.5,444.5 L554.0,447.1 L554.5,449.5 L555.0,452.0 L555.5,454.4 L556.0,456.8 L556.5,459.1 L557.0,461.3 L557.5,463.6 L558.0,465.7 L558.5,467.9 L559.0,469.9 L559.5,471.9 L560.0,473.9 L560.5,475.8 L561.0,477.6 L561.5,479.4 L562.0,481.2 L562.5,482.8 L563.0,484.5 L563.5,486.0 L564.0,487.5 L564.5,489.0 L565.0,490.4 L565.5,491.8 L566.0,493.1 L566.5,494.3 L567.0,495.5 L567.5,496.7 L568.0,497.8 L568.5,498.8 L569.0,499.9 L569.5,500.8 L570.0,501.8 L570.5,502.6 L571.0,503.5 L571.5,504.3 L572.0,505.1 L572.5,505.8 L573.0,506.5 L573.5,507.2 L574.0,507.8 L574.5,508.5 L575.0,509.0 L575.5,509.6 L576.0,510.1 L576.5,510.6 L577.0,511.1 L577.5,511.6 L578.0,512.0 L578.5,512.4 L579.0,512.8 L579.5,513.2 L580.0,513.6 L580.5,513.9 L581.0,514.3 L581.5,514.6 L582.0,514.9 L582.5,515.2 L583.0,515.5 L583.5,515.7 L584.0,516.0 L584.5,516.2 L585.0,516.5 L585.5,516.7 L586.0,516.9 L586.5,517.1 L587.0,517.3 L587.5,517.5 L588.0,517.7 L588.5,517.9 L589.0,518.0 L589.5,518.2 L590.0,518.4 L590.5,518.5 L591.0,518.7 L591.5,518.8 L592.0,519.0 L592.5,519.1 L593.0,519.2 L593.5,519.4 L594.0,519.5 L594.5,519.6 L595.0,519.7 L595.5,519.9 L596.0,520.0 L596.5,520.1 L597.0,520.2 L597.5,520.3 L598.0,520.4 L598.5,520.5 L599.0,520.6 L599.5,520.7 L600.0,520.8 L600.5,520.9 L601.0,521.0 L601.5,521.1 L602.0,521.2 L602.5,521.3 L603.0,521.3 L603.5,521.4 L604.0,521.5 L604.5,521.6 L605.0,521.7 L605.5,521.7 L606.0,521.8 L606.5,521.9 L607.0,522.0 L607.5,522.0 L608.0,522.1 L608.5,522.2 L609.0,522.2 L609.5,522.3 L610.0,522.4 L610.5,522.4 L611.0,522.5 L611.5,522.6 L612.0,522.6 L612.5,522.7 L613.0,522.7 L613.5,522.8 L614.0,522.9 L614.5,522.9 L615.0,523.0 L615.5,523.0 L616.0,523.1 L616.5,523.1 L617.0,523.2 L617.5,523.2 L618.0,523.3 L618.5,523.3 L619.0,523.4 L619.5,523.4 L620.0,523.5 L620.5,523.5 L621.0,523.6 L621.5,523.6 L622.0,523.7 L622.5,523.7 L623.0,523.8 L623.5,523.8 L624.0,523.9 L624.5,523.9 L625.0,523.9 L625.5,524.0 L626.0,524.0 L626.5,524.1 L627.0,524.1 L627.5,524.1 L628.0,524.2 L628.5,524.2 L629.0,524.3 L629.5,524.3 L630.0,524.3 L630.5,524.4 L631.0,524.4 L631.5,524.5 L632.0,524.5 L632.5,524.5 L633.0,524.6 L633.5,524.6 L634.0,524.6 L634.5,524.7 L635.0,524.7 L635.5,524.7 L636.0,524.8 L636.5,524.8 L637.0,524.8 L637.5,524.9 L638.0,524.9 L638.5,524.9 L639.0,525.0 L639.5,525.0 L640.0,525.0 L640.5,525.1 L641.0,525.1 L641.5,525.1 L642.0,525.1 L642.5,525.2 L643.0,525.2 L643.5,525.2 L644.0,525.3 L644.5,525.3 L645.0,525.3 L645.5,525.3 L646.0,525.4 L646.5,525.4 L647.0,525.4 L647.5,525.5 L648.0,525.5 L648.5,525.5 L649.0,525.5 L649.5,525.6 L650.0,525.6 L650.5,525.6 L651.0,525.6 L651.5,525.7 L652.0,525.7 L652.5,525.7 L653.0,525.7" fill="none" stroke="#939c55" stroke-width="1.5" stroke-linejoin="round"/>
<path d="M360.0,519.0 L360.5,519.0 L361.0,519.0 L361.5,519.0 L362.0,519.0 L362.5,519.0 L363.0,519.0 L363.5,519.0 L364.0,519.0 L364.5,519.0 L365.0,519.0 L365.5,519.0 L366.0,519.0 L366.5,519.0 L367.0,518.9 L367.5,518.9 L368.0,518.9 L368.5,518.9 L369.0,518.9 L369.5,518.9 L370.0,518.9 L370.5,518.9 L371.0,518.9 L371.5,518.9 L372.0,518.9 L372.5,518.9 L373.0,518.9 L373.5,518.9 L374.0,518.8 L374.5,518.8 L375.0,518.8 L375.5,518.8 L376.0,518.8 L376.5,518.8 L377.0,518.8 L377.5,518.8 L378.0,518.8 L378.5,518.7 L379.0,518.7 L379.5,518.7 L380.0,518.7 L380.5,518.7 L381.0,518.6 L381.5,518.6 L382.0,518.6 L382.5,518.6 L383.0,518.5 L383.5,518.5 L384.0,518.5 L384.5,518.5 L385.0,518.4 L385.5,518.4 L386.0,518.3 L386.5,518.3 L387.0,518.2 L387.5,518.2 L388.0,518.1 L388.5,518.1 L389.0,518.0 L389.5,517.9 L390.0,517.9 L390.5,517.8 L391.0,517.7 L391.5,517.6 L392.0,517.5 L392.5,517.4 L393.0,517.3 L393.5,517.2 L394.0,517.0 L394.5,516.9 L395.0,516.8 L395.5,516.6 L396.0,516.5 L396.5,516.3 L397.0,516.1 L397.5,515.9 L398.0,515.7 L398.5,515.5 L399.0,515.3 L399.5,515.1 L400.0,514.8 L400.5,514.5 L401.0,514.3 L401.5,514.0 L402.0,513.7 L402.5,513.4 L403.0,513.0 L403.5,512.7 L404.0,512.3 L404.5,512.0 L405.0,511.6 L405.5,511.2 L406.0,510.8 L406.5,510.4 L407.0,510.0 L407.5,509.5 L408.0,509.1 L408.5,508.7 L409.0,508.2 L409.5,507.8 L410.0,507.3 L410.5,506.8 L411.0,506.4 L411.5,505.9 L412.0,505.4 L412.5,505.0 L413.0,504.5 L413.5,504.1 L414.0,503.6 L414.5,503.2 L415.0,502.7 L415.5,502.3 L416.0,501.9 L416.5,501.5 L417.0,501.1 L417.5,500.7 L418.0,500.3 L418.5,500.0 L419.0,499.7 L419.5,499.4 L420.0,499.1 L420.5,498.8 L421.0,498.6 L421.5,498.4 L422.0,498.3 L422.5,498.1 L423.0,498.0 L423.5,498.0 L424.0,497.9 L424.5,497.9 L425.0,498.0 L425.5,498.1 L426.0,498.2 L426.5,498.3 L427.0,498.5 L427.5,498.7 L428.0,499.0 L428.5,499.3 L429.0,499.6 L429.5,499.9 L430.0,500.2 L430.5,500.6 L431.0,501.0 L431.5,501.4 L432.0,501.8 L432.5,502.2 L433.0,502.6 L433.5,503.1 L434.0,503.5 L434.5,503.9 L435.0,504.3 L435.5,504.7 L436.0,505.1 L436.5,505.5 L437.0,505.9 L437.5,506.3 L438.0,506.7 L438.5,507.0 L439.0,507.3 L439.5,507.6 L440.0,507.9 L440.5,508.2 L441.0,508.4 L441.5,508.7 L442.0,508.9 L442.5,509.1 L443.0,509.3 L443.5,509.5 L444.0,509.6 L444.5,509.7 L445.0,509.9 L445.5,510.0 L446.0,510.1 L446.5,510.2 L447.0,510.2 L447.5,510.3 L448.0,510.3 L448.5,510.3 L449.0,510.4 L449.5,510.4 L450.0,510.4 L450.5,510.3 L451.0,510.3 L451.5,510.3 L452.0,510.2 L452.5,510.2 L453.0,510.1 L453.5,510.1 L454.0,510.0 L454.5,509.9 L455.0,509.8 L455.5,509.7 L456.0,509.6 L456.5,509.5 L457.0,509.4 L457.5,509.3 L458.0,509.2 L458.5,509.1 L459.0,509.0 L459.5,508.9 L460.0,508.8 L460.5,508.6 L461.0,508.5 L461.5,508.3 L462.0,508.2 L462.5,508.0 L463.0,507.8 L463.5,507.6 L464.0,507.4 L464.5,507.2 L465.0,506.9 L465.5,506.7 L466.0,506.4 L466.5,506.1 L467.0,505.8 L467.5,505.4 L468.0,505.1 L468.5,504.7 L469.0,504.4 L469.5,504.0 L470.0,503.6 L470.5,503.1 L471.0,502.7 L471.5,502.2 L472.0,501.7 L472.5,501.2 L473.0,500.7 L473.5,500.2 L474.0,499.6 L474.5,499.0 L475.0,498.4 L475.5,497.8 L476.0,497.2 L476.5,496.5 L477.0,495.8 L477.5,495.1 L478.0,494.4 L478.5,493.6 L479.0,492.8 L479.5,491.9 L480.0,491.1 L480.5,490.2 L481.0,489.3 L481.5,488.3 L482.0,487.4 L482.5,486.4 L483.0,485.4 L483.5,484.3 L484.0,483.3 L484.5,482.2 L485.0,481.2 L485.5,480.1 L486.0,479.0 L486.5,477.8 L487.0,476.7 L487.5,475.5 L488.0,474.3 L488.5,473.1 L489.0,471.9 L489.5,470.6 L490.0,469.4 L490.5,468.1 L491.0,466.7 L491.5,465.4 L492.0,464.0 L492.5,462.6 L493.0,461.2 L493.5,459.7 L494.0,458.2 L494.5,456.7 L495.0,455.2 L495.5,453.7 L496.0,452.1 L496.5,450.5 L497.0,449.0 L497.5,447.3 L498.0,445.7 L498.5,444.1 L499.0,442.4 L499.5,440.8 L500.0,439.1 L500.5,437.5 L501.0,435.8 L501.5,434.1 L502.0,432.5 L502.5,430.8 L503.0,429.2 L503.5,427.5 L504.0,425.9 L504.5,424.3 L505.0,422.7 L505.5,421.1 L506.0,419.6 L506.5,418.1 L507.0,416.6 L507.5,415.2 L508.0,413.7 L508.5,412.4 L509.0,411.0 L509.5,409.7 L510.0,408.5 L510.5,407.3 L511.0,406.1 L511.5,405.0 L512.0,403.9 L512.5,402.8 L513.0,401.8 L513.5,400.8 L514.0,399.8 L514.5,398.9 L515.0,397.9 L515.5,397.0 L516.0,396.1 L516.5,395.2 L517.0,394.2 L517.5,393.3 L518.0,392.3 L518.5,391.4 L519.0,390.4 L519.5,389.4 L520.0,388.3 L520.5,387.3 L521.0,386.2 L521.5,385.0 L522.0,383.9 L522.5,382.7 L523.0,381.5 L523.5,380.2 L524.0,379.0 L524.5,377.7 L525.0,376.4 L525.5,375.1 L526.0,373.8 L526.5,372.5 L527.0,371.2 L527.5,369.9 L528.0,368.7 L528.5,367.4 L529.0,366.2 L529.5,365.1 L530.0,364.0 L530.5,362.9 L531.0,362.0 L531.5,361.1 L532.0,360.3 L532.5,359.6 L533.0,358.9 L533.5,358.4 L534.0,358.1 L534.5,357.8 L535.0,357.6 L535.5,357.6 L536.0,357.8 L536.5,358.0 L537.0,358.4 L537.5,359.0 L538.0,359.7 L538.5,360.6 L539.0,361.6 L539.5,362.8 L540.0,364.1 L540.5,365.6 L541.0,367.3 L541.5,369.1 L542.0,371.0 L542.5,373.1 L543.0,375.3 L543.5,377.6 L544.0,380.0 L544.5,382.5 L545.0,385.1 L545.5,387.7 L546.0,390.4 L546.5,393.2 L547.0,396.0 L547.5,398.8 L548.0,401.7 L548.5,404.6 L549.0,407.5 L549.5,410.4 L550.0,413.2 L550.5,416.1 L551.0,419.0 L551.5,421.8 L552.0,424.6 L552.5,427.3 L553.0,430.1 L553.5,432.8 L554.0,435.4 L554.5,438.0 L555.0,440.6 L555.5,443.1 L556.0,445.6 L556.5,448.0 L557.0,450.3 L557.5,452.7 L558.0,454.9 L558.5,457.1 L559.0,459.3 L559.5,461.4 L560.0,463.5 L560.5,465.5 L561.0,467.5 L561.5,469.4 L562.0,471.2 L562.5,473.1 L563.0,474.8 L563.5,476.5 L564.0,478.2 L564.5,479.8 L565.0,481.4 L565.5,482.9 L566.0,484.3 L566.5,485.7 L567.0,487.1 L567.5,488.4 L568.0,489.6 L568.5,490.8 L569.0,491.9 L569.5,493.0 L570.0,494.0 L570.5,495.0 L571.0,495.9 L571.5,496.8 L572.0,497.6 L572.5,498.4 L573.0,499.1 L573.5,499.8 L574.0,500.5 L574.5,501.1 L575.0,501.7 L575.5,502.3 L576.0,502.8 L576.5,503.3 L577.0,503.8 L577.5,504.3 L578.0,504.7 L578.5,505.1 L579.0,505.5 L579.5,505.9 L580.0,506.3 L580.5,506.7 L581.0,507.1 L581.5,507.4 L582.0,507.8 L582.5,508.1 L583.0,508.5 L583.5,508.8 L584.0,509.1 L584.5,509.4 L585.0,509.7 L585.5,510.0 L586.0,510.3 L586.5,510.5 L587.0,510.8 L587.5,511.1 L588.0,511.3 L588.5,511.6 L589.0,511.8 L589.5,512.1 L590.0,512.3 L590.5,512.5 L591.0,512.8 L591.5,513.0 L592.0,513.3 L592.5,513.5 L593.0,513.7 L593.5,514.0 L594.0,514.2 L594.5,514.4 L595.0,514.7 L595.5,514.9 L596.0,515.2 L596.5,515.4 L597.0,515.6 L597.5,515.9 L598.0,516.1 L598.5,516.4 L599.0,516.6 L599.5,516.8 L600.0,517.1 L600.5,517.3 L601.0,517.5 L601.5,517.7 L602.0,517.9 L602.5,518.0 L603.0,518.2 L603.5,518.3 L604.0,518.5 L604.5,518.6 L605.0,518.8 L605.5,518.9 L606.0,519.0 L606.5,519.1 L607.0,519.2 L607.5,519.3 L608.0,519.4 L608.5,519.5 L609.0,519.6 L609.5,519.7 L610.0,519.8 L610.5,519.9 L611.0,520.0 L611.5,520.1 L612.0,520.2 L612.5,520.2 L613.0,520.3 L613.5,520.4 L614.0,520.5 L614.5,520.6 L615.0,520.6 L615.5,520.7 L616.0,520.8 L616.5,520.9 L617.0,520.9 L617.5,521.0 L618.0,521.1 L618.5,521.2 L619.0,521.2 L619.5,521.3 L620.0,521.4 L620.5,521.4 L621.0,521.5 L621.5,521.6 L622.0,521.6 L622.5,521.7 L623.0,521.7 L623.5,521.8 L624.0,521.9 L624.5,521.9 L625.0,522.0 L625.5,522.0 L626.0,522.1 L626.5,522.2 L627.0,522.2 L627.5,522.3 L628.0,522.3 L628.5,522.4 L629.0,522.4 L629.5,522.5 L630.0,522.5 L630.5,522.6 L631.0,522.6 L631.5,522.7 L632.0,522.8 L632.5,522.8 L633.0,522.8 L633.5,522.9 L634.0,522.9 L634.5,523.0 L635.0,523.0 L635.5,523.1 L636.0,523.1 L636.5,523.2 L637.0,523.2 L637.5,523.3 L638.0,523.3 L638.5,523.4 L639.0,523.4 L639.5,523.4 L640.0,523.5 L640.5,523.5 L641.0,523.6 L641.5,523.6 L642.0,523.7 L642.5,523.7 L643.0,523.7 L643.5,523.8 L644.0,523.8 L644.5,523.9 L645.0,523.9 L645.5,523.9 L646.0,524.0 L646.5,524.0 L647.0,524.0 L647.5,524.1 L648.0,524.1 L648.5,524.2 L649.0,524.2 L649.5,524.2 L650.0,524.3 L650.5,524.3 L651.0,524.3 L651.5,524.4 L652.0,524.4 L652.5,524.4 L653.0,524.5" fill="none" stroke="#b4454a" stroke-width="1.8" stroke-linejoin="round"/>
<path d="M360.4,525.2 L361.9,523.7 L363.9,522.6 L366.0,524.3 L367.9,524.9 L370.0,525.5 L372.0,525.1 L374.1,524.4 L376.2,523.6 L378.4,522.5 L380.6,522.3 L382.8,522.0 L384.9,522.0 L387.1,522.0 L389.3,520.9 L391.4,520.3 L393.1,520.0 L394.7,517.1 L396.3,516.6 L397.9,515.5 L399.8,513.3 L401.7,512.2 L403.7,511.6 L405.7,511.7 L407.7,510.1 L409.2,507.6 L410.7,506.8 L412.6,506.8 L414.6,505.9 L416.6,504.6 L418.5,502.9 L420.5,500.6 L422.7,501.9 L424.4,500.4 L425.8,498.9 L427.9,499.7 L429.8,497.4 L431.9,497.3 L433.9,498.4 L435.9,498.5 L438.0,499.0 L440.0,499.7 L442.1,501.7 L444.2,502.3 L446.2,502.1 L448.4,504.2 L450.5,503.8 L452.7,502.6 L454.9,504.7 L457.0,503.4 L459.0,501.6 L461.0,502.0 L462.9,500.3 L464.9,499.4 L466.9,499.2 L468.5,496.1 L469.8,494.9 L471.2,493.6 L472.5,492.2 L473.8,489.9 L475.2,488.0 L476.5,486.3 L477.9,485.1 L479.5,484.0 L481.3,481.4 L483.0,479.7 L484.2,479.0 L485.3,477.0 L486.3,474.9 L487.4,473.6 L488.5,471.8 L489.5,469.2 L490.6,467.4 L491.5,465.8 L492.5,463.4 L493.4,461.0 L494.3,459.5 L495.2,457.2 L496.1,455.7 L497.1,453.4 L498.0,451.5 L498.9,449.8 L499.8,447.5 L500.6,445.3 L501.3,443.1 L501.8,441.7 L502.3,439.4 L502.8,436.7 L503.3,434.6 L503.8,432.9 L504.4,430.4 L505.0,428.5 L505.6,426.6 L506.3,424.3 L506.9,422.1 L507.5,419.9 L508.1,417.9 L508.6,415.9 L509.1,414.0 L509.5,411.7 L509.9,409.3 L510.2,407.3 L510.6,405.0 L511.0,402.5 L511.6,400.7 L512.1,398.8 L512.7,396.3 L513.3,394.6 L513.9,392.1 L514.5,390.1 L515.1,387.6 L515.7,386.5 L516.4,383.9 L517.1,382.0 L517.9,379.5 L518.8,377.1 L519.7,376.1 L520.7,373.4 L521.6,372.4 L522.6,369.6 L523.6,368.4 L524.6,365.5 L525.2,363.0 L526.3,362.2 L528.3,361.0 L529.7,359.3 L531.2,360.0 L532.5,360.0 L534.0,358.1 L535.2,359.9 L535.6,362.2 L536.0,364.1 L536.9,366.1 L538.2,368.0 L538.9,370.4 L539.4,372.3 L540.0,374.7 L541.0,377.0 L542.2,378.4 L542.7,380.7 L543.1,382.6 L543.4,385.0 L543.7,387.2 L544.1,389.2 L544.4,391.2 L544.7,393.6 L545.2,395.8 L545.7,398.3 L546.3,399.9 L547.0,402.6 L547.6,403.6 L548.2,406.3 L548.9,408.3 L549.6,410.4 L550.7,412.2 L552.0,414.2 L553.0,416.8 L553.6,418.3 L554.0,420.7 L554.3,422.7 L554.5,424.9 L554.7,426.7 L555.0,429.2 L555.4,431.5 L556.0,433.2 L556.7,435.4 L557.3,437.5 L557.8,440.3 L558.2,441.8 L558.5,444.1 L558.9,445.8 L559.4,448.0 L560.1,450.6 L561.3,451.9 L562.0,453.8 L562.3,456.7 L562.4,458.9 L562.5,461.1 L562.6,463.3 L562.9,465.3 L563.5,468.5 L564.4,469.3 L565.2,471.7 L565.8,473.4 L566.4,475.7 L567.0,477.5 L567.7,480.1 L568.6,481.9 L569.5,483.7 L570.4,485.3 L571.1,488.3 L571.9,490.5 L572.5,492.6 L573.2,494.4 L574.0,496.7 L574.8,498.8 L575.6,500.7 L576.5,503.1 L577.5,504.4 L578.6,506.5 L579.7,507.6 L580.9,511.1 L582.1,511.6 L583.4,514.0 L584.6,515.9 L586.0,516.8 L587.6,518.8 L589.4,520.5 L591.4,521.0 L593.3,521.9 L595.0,523.3 L596.9,524.0 L599.0,524.9 L601.2,525.8 L603.3,526.5 L605.4,527.7 L607.6,527.1 L609.8,526.8 L611.7,528.9 L613.7,529.3 L615.3,528.2 L617.1,526.4 L619.2,526.5 L621.1,527.4 L623.2,528.2 L625.4,526.4 L627.6,527.8 L629.6,528.8 L631.8,530.8 L633.8,528.3 L635.6,527.4 L637.7,526.6 L639.9,525.1 L642.1,528.6 L644.2,528.5 L646.4,529.6 L648.6,526.9 L650.7,528.1 L652.9,527.6" fill="none" stroke="#1e1e1e" stroke-width="1.45" stroke-linejoin="round"/>
<line x1="423.0" y1="548.7" x2="423.0" y2="476.1" stroke="#333" stroke-width="1.9" stroke-dasharray="5 3.7"/>
<line x1="509.6" y1="548.7" x2="509.6" y2="379.8" stroke="#333" stroke-width="1.9" stroke-dasharray="5 3.7"/>
<line x1="539.3" y1="548.7" x2="539.3" y2="342.8" stroke="#333" stroke-width="1.9" stroke-dasharray="5 3.7"/>
<line x1="360.0" y1="551.3" x2="653.0" y2="551.3" stroke="#555" stroke-width="1.6"/>
<line x1="653.0" y1="550.5" x2="653.0" y2="556.3" stroke="#555" stroke-width="1.4"/>
<text transform="translate(651.5,572.6) scale(1.08,1)" text-anchor="middle" class="tk">280</text>
<line x1="626.4" y1="550.5" x2="626.4" y2="554.1" stroke="#555" stroke-width="1.4"/>
<line x1="599.7" y1="550.5" x2="599.7" y2="556.3" stroke="#555" stroke-width="1.4"/>
<text transform="translate(597.8,572.6) scale(1.08,1)" text-anchor="middle" class="tk">282</text>
<line x1="573.1" y1="550.5" x2="573.1" y2="554.1" stroke="#555" stroke-width="1.4"/>
<line x1="546.4" y1="550.5" x2="546.4" y2="556.3" stroke="#555" stroke-width="1.4"/>
<text transform="translate(547.2,572.6) scale(1.08,1)" text-anchor="middle" class="tk">284</text>
<line x1="519.8" y1="550.5" x2="519.8" y2="554.1" stroke="#555" stroke-width="1.4"/>
<line x1="493.2" y1="550.5" x2="493.2" y2="556.3" stroke="#555" stroke-width="1.4"/>
<text transform="translate(494.0,572.6) scale(1.08,1)" text-anchor="middle" class="tk">286</text>
<line x1="466.5" y1="550.5" x2="466.5" y2="554.1" stroke="#555" stroke-width="1.4"/>
<line x1="439.9" y1="550.5" x2="439.9" y2="556.3" stroke="#555" stroke-width="1.4"/>
<text transform="translate(439.8,572.6) scale(1.08,1)" text-anchor="middle" class="tk">288</text>
<line x1="413.2" y1="550.5" x2="413.2" y2="554.1" stroke="#555" stroke-width="1.4"/>
<line x1="386.6" y1="550.5" x2="386.6" y2="556.3" stroke="#555" stroke-width="1.4"/>
<text transform="translate(387.6,572.6) scale(1.08,1)" text-anchor="middle" class="tk">290</text>
<line x1="360.0" y1="550.5" x2="360.0" y2="554.1" stroke="#555" stroke-width="1.4"/>
<text transform="translate(464.32,336.4) scale(1.0838028169014085,1)" class="a">C-C, C-H, C=C (</text>
<text transform="translate(573.59,336.4) scale(1.207394366197183,1)" class="a">284.3</text>
<text transform="translate(613.87,336.4) scale(1.0600352112676057,1)" class="a">eV)</text>
<text transform="translate(417.62,370.7) scale(1.0838028169014085,1)" class="a">C-O (</text>
<text transform="translate(453.93,370.7) scale(1.207394366197183,1)" class="a">285.4</text>
<text transform="translate(494.21,370.7) scale(1.0600352112676057,1)" class="a">eV)</text>
<text transform="translate(377.02,466.7) scale(1.0838028169014085,1)" class="a">-COO- (</text>
<text transform="translate(430.43,466.7) scale(1.207394366197183,1)" class="a">288.6</text>
<text transform="translate(470.71,466.7) scale(1.0600352112676057,1)" class="a">eV)</text>
<text transform="translate(457.0,592.0) scale(1.03,1)" class="t">Binding energy<tspan dx="-1.7"> (eV)</tspan></text>
<text transform="translate(362.8,351.1) scale(1.0,1)" class="L">D</text>
<path d="M168.6,833.6 L169.1,833.6 L169.6,833.6 L170.1,833.6 L170.6,833.6 L171.1,833.6 L171.6,833.7 L172.1,833.7 L172.6,833.7 L173.1,833.7 L173.6,833.7 L174.1,833.7 L174.6,833.7 L175.1,833.7 L175.6,833.8 L176.1,833.8 L176.6,833.8 L177.1,833.8 L177.6,833.8 L178.1,833.8 L178.6,833.8 L179.1,833.8 L179.6,833.9 L180.1,833.9 L180.6,833.9 L181.1,833.9 L181.6,833.9 L182.1,833.9 L182.6,833.9 L183.1,834.0 L183.6,834.0 L184.1,834.0 L184.6,834.0 L185.1,834.0 L185.6,834.0 L186.1,834.0 L186.6,834.0 L187.1,834.1 L187.6,834.1 L188.1,834.1 L188.6,834.1 L189.1,834.1 L189.6,834.1 L190.1,834.1 L190.6,834.2 L191.1,834.2 L191.6,834.2 L192.1,834.2 L192.6,834.2 L193.1,834.2 L193.6,834.2 L194.1,834.2 L194.6,834.3 L195.1,834.3 L195.6,834.3 L196.1,834.3 L196.6,834.3 L197.1,834.3 L197.6,834.3 L198.1,834.3 L198.6,834.4 L199.1,834.4 L199.6,834.4 L200.1,834.4 L200.6,834.4 L201.1,834.4 L201.6,834.4 L202.1,834.5 L202.6,834.5 L203.1,834.5 L203.6,834.5 L204.1,834.5 L204.6,834.5 L205.1,834.5 L205.6,834.5 L206.1,834.6 L206.6,834.6 L207.1,834.6 L207.6,834.6 L208.1,834.6 L208.6,834.6 L209.1,834.6 L209.6,834.6 L210.1,834.7 L210.6,834.7 L211.1,834.7 L211.6,834.7 L212.1,834.7 L212.6,834.7 L213.1,834.7 L213.6,834.8 L214.1,834.8 L214.6,834.8 L215.1,834.8 L215.6,834.8 L216.1,834.8 L216.6,834.8 L217.1,834.8 L217.6,834.9 L218.1,834.9 L218.6,834.9 L219.1,834.9 L219.6,834.9 L220.1,834.9 L220.6,834.9 L221.1,834.9 L221.6,835.0 L222.1,835.0 L222.6,835.0 L223.1,835.0 L223.6,835.0 L224.1,835.0 L224.6,835.0 L225.1,835.1 L225.6,835.1 L226.1,835.1 L226.6,835.1 L227.1,835.1 L227.6,835.1 L228.1,835.1 L228.6,835.1 L229.1,835.2 L229.6,835.2 L230.1,835.2 L230.6,835.2 L231.1,835.2 L231.6,835.2 L232.1,835.2 L232.6,835.3 L233.1,835.3 L233.6,835.3 L234.1,835.3 L234.6,835.3 L235.1,835.3 L235.6,835.3 L236.1,835.3 L236.6,835.4 L237.1,835.4 L237.6,835.4 L238.1,835.4 L238.6,835.4 L239.1,835.4 L239.6,835.4 L240.1,835.4 L240.6,835.5 L241.1,835.5 L241.6,835.5 L242.1,835.5 L242.6,835.5 L243.1,835.5 L243.6,835.5 L244.1,835.6 L244.6,835.6 L245.1,835.6 L245.6,835.6 L246.1,835.6 L246.6,835.6 L247.1,835.6 L247.6,835.6 L248.1,835.7 L248.6,835.7 L249.1,835.7 L249.6,835.7 L250.1,835.7 L250.6,835.7 L251.1,835.7 L251.6,835.7 L252.1,835.8 L252.6,835.8 L253.1,835.8 L253.6,835.8 L254.1,835.8 L254.6,835.8 L255.1,835.8 L255.6,835.9 L256.1,835.9 L256.6,835.9 L257.1,835.9 L257.6,835.9 L258.1,835.9 L258.6,835.9 L259.1,835.9 L259.6,836.0 L260.1,836.0 L260.6,836.0 L261.1,836.0 L261.6,836.0 L262.1,836.0 L262.6,836.0 L263.1,836.0 L263.6,836.1 L264.1,836.1 L264.6,836.1 L265.1,836.1 L265.6,836.1 L266.1,836.1 L266.6,836.1 L267.1,836.2 L267.6,836.2 L268.1,836.2 L268.6,836.2 L269.1,836.2 L269.6,836.2 L270.1,836.2 L270.6,836.2 L271.1,836.3 L271.6,836.3 L272.1,836.3 L272.6,836.3 L273.1,836.3 L273.6,836.3 L274.1,836.3 L274.6,836.3 L275.1,836.4 L275.6,836.4 L276.1,836.4 L276.6,836.4 L277.1,836.4 L277.6,836.4 L278.1,836.4 L278.6,836.5 L279.1,836.5 L279.6,836.5 L280.1,836.5 L280.6,836.5 L281.1,836.5 L281.6,836.5 L282.1,836.5 L282.6,836.6 L283.1,836.6 L283.6,836.6 L284.1,836.6 L284.6,836.6 L285.1,836.6 L285.6,836.6 L286.1,836.7 L286.6,836.7 L287.1,836.7 L287.6,836.7 L288.1,836.7 L288.6,836.7 L289.1,836.7 L289.6,836.7 L290.1,836.8 L290.6,836.8 L291.1,836.8 L291.6,836.8 L292.1,836.8 L292.6,836.8 L293.1,836.8 L293.6,836.8 L294.1,836.9 L294.6,836.9 L295.1,836.9 L295.6,836.9 L296.1,836.9 L296.6,836.9 L297.1,836.9 L297.6,837.0 L298.1,837.0 L298.6,837.0 L299.1,837.0 L299.6,837.0 L300.1,837.0 L300.6,837.0 L301.1,837.0 L301.6,837.1 L302.1,837.1 L302.6,837.1 L303.1,837.1 L303.6,837.1 L304.1,837.1 L304.6,837.1 L305.1,837.1 L305.6,837.2 L306.1,837.2 L306.6,837.2 L307.1,837.2 L307.6,837.2 L308.1,837.2 L308.6,837.2 L309.1,837.3 L309.6,837.3 L310.1,837.3 L310.6,837.3 L311.1,837.3 L311.6,837.3 L312.1,837.3 L312.6,837.3 L313.1,837.4 L313.6,837.4 L314.1,837.4 L314.6,837.4 L315.1,837.4 L315.6,837.4 L316.1,837.4 L316.6,837.4 L317.1,837.5 L317.6,837.5 L318.1,837.5 L318.6,837.5 L319.1,837.5 L319.6,837.5 L320.1,837.5 L320.6,837.6 L321.1,837.6 L321.6,837.6 L322.1,837.6 L322.6,837.6 L323.1,837.6 L323.6,837.6 L324.1,837.6 L324.6,837.7 L325.1,837.7 L325.6,837.7 L326.1,837.7 L326.6,837.7 L327.1,837.7 L327.6,837.7 L328.1,837.8 L328.6,837.8 L329.1,837.8 L329.6,837.8 L330.1,837.8 L330.6,837.8 L331.1,837.8 L331.6,837.8 L332.1,837.9 L332.6,837.9 L333.1,837.9 L333.6,837.9 L334.1,837.9 L334.6,837.9 L335.1,837.9 L335.6,837.9 L336.1,838.0 L336.6,838.0 L337.1,838.0 L337.6,838.0 L338.1,838.0 L338.6,838.0 L339.1,838.0 L339.6,838.1 L340.1,838.1 L340.6,838.1 L341.1,838.1 L341.6,838.1 L342.1,838.1 L342.6,838.1 L343.1,838.1 L343.6,838.2 L344.1,838.2 L344.6,838.2 L345.1,838.2 L345.6,838.2 L346.1,838.2 L346.6,838.2 L347.1,838.2 L347.6,838.3 L348.1,838.3 L348.6,838.3 L349.1,838.3 L349.6,838.3 L350.1,838.3 L350.6,838.3 L351.1,838.4 L351.6,838.4 L352.1,838.4 L352.6,838.4 L353.1,838.4 L353.6,838.4 L354.1,838.4 L354.6,838.4 L355.1,838.5 L355.6,838.5 L356.1,838.5 L356.6,838.5 L357.1,838.5 L357.6,838.5 L358.1,838.5 L358.6,838.5 L359.1,838.6 L359.6,838.6 L360.1,838.6 L360.6,838.6 L361.1,838.6 L361.6,838.6 L362.1,838.6 L362.6,838.7 L363.1,838.7 L363.6,838.7 L364.1,838.7 L364.6,838.7 L365.1,838.7 L365.6,838.7 L366.1,838.7 L366.6,838.8 L367.1,838.8 L367.6,838.8 L368.1,838.8 L368.6,838.8 L369.1,838.8 L369.6,838.8 L370.1,838.8 L370.6,838.9 L371.1,838.9 L371.6,838.9 L372.1,838.9 L372.6,838.9 L373.1,838.9 L373.6,838.9 L374.1,839.0 L374.6,839.0 L375.1,839.0 L375.6,839.0 L376.1,839.0 L376.6,839.0 L377.1,839.0 L377.6,839.0 L378.1,839.1 L378.6,839.1 L379.1,839.1 L379.6,839.1 L380.1,839.1 L380.6,839.1 L381.1,839.1 L381.6,839.2 L382.1,839.2 L382.6,839.2 L383.1,839.2 L383.6,839.2 L384.1,839.2 L384.6,839.2 L385.1,839.2 L385.6,839.3 L386.1,839.3 L386.6,839.3 L387.1,839.3 L387.6,839.3 L388.1,839.3 L388.6,839.3 L389.1,839.3 L389.6,839.4 L390.1,839.4 L390.6,839.4 L391.1,839.4 L391.6,839.4 L392.1,839.4 L392.6,839.4 L393.1,839.5 L393.6,839.5 L394.1,839.5 L394.6,839.5 L395.1,839.5 L395.6,839.5 L396.1,839.5 L396.6,839.5 L397.1,839.6 L397.6,839.6 L398.1,839.6 L398.6,839.6 L399.1,839.6 L399.6,839.6 L400.1,839.6 L400.6,839.6 L401.1,839.7 L401.6,839.7 L402.1,839.7 L402.6,839.7 L403.1,839.7 L403.6,839.7 L404.1,839.7 L404.6,839.8 L405.1,839.8 L405.6,839.8 L406.1,839.8 L406.6,839.8 L407.1,839.8 L407.6,839.8 L408.1,839.8 L408.6,839.9 L409.1,839.9 L409.6,839.9 L410.1,839.9 L410.6,839.9 L411.1,839.9 L411.6,839.9 L412.1,839.9 L412.6,840.0 L413.1,840.0 L413.6,840.0 L414.1,840.0 L414.6,840.0 L415.1,840.0 L415.6,840.0 L416.1,840.1 L416.6,840.1 L417.1,840.1 L417.6,840.1 L418.1,840.1 L418.6,840.1 L419.1,840.1 L419.6,840.1 L420.1,840.2 L420.6,840.2 L421.1,840.2 L421.6,840.2 L422.1,840.2 L422.6,840.2 L423.1,840.2 L423.6,840.3 L424.1,840.3 L424.6,840.3 L425.1,840.3 L425.6,840.3 L426.1,840.3 L426.6,840.3 L427.1,840.3 L427.6,840.4 L428.1,840.4 L428.6,840.4 L429.1,840.4 L429.6,840.4 L430.1,840.4 L430.6,840.4 L431.1,840.4 L431.6,840.5 L432.1,840.5 L432.6,840.5 L433.1,840.5 L433.6,840.5 L434.1,840.5 L434.6,840.5 L435.1,840.6 L435.6,840.6 L436.1,840.6 L436.6,840.6 L437.1,840.6 L437.6,840.6 L438.1,840.6 L438.6,840.6 L439.1,840.7 L439.6,840.7 L440.1,840.7 L440.6,840.7 L441.1,840.7 L441.6,840.7 L442.1,840.7 L442.6,840.7 L443.1,840.8 L443.6,840.8 L444.1,840.8 L444.6,840.8 L445.1,840.8 L445.6,840.8 L446.1,840.8 L446.6,840.9 L447.1,840.9 L447.6,840.9 L448.1,840.9 L448.6,840.9 L449.1,840.9 L449.6,840.9 L450.1,840.9 L450.6,841.0 L451.1,841.0 L451.6,841.0 L452.1,841.0 L452.6,841.0 L453.1,841.0 L453.6,841.0 L454.1,841.0 L454.6,841.1 L455.1,841.1 L455.6,841.1 L456.1,841.1 L456.6,841.1 L457.1,841.1 L457.6,841.1 L458.1,841.2 L458.6,841.2 L459.1,841.2 L459.6,841.2 L460.1,841.2 L460.6,841.2 L461.1,841.2 L461.6,841.2" fill="none" stroke="#3d4d9c" stroke-width="1.6" stroke-linejoin="round"/>
<path d="M168.6,832.9 L169.1,832.9 L169.6,832.9 L170.1,832.9 L170.6,832.9 L171.1,832.9 L171.6,832.9 L172.1,832.9 L172.6,832.9 L173.1,832.9 L173.6,832.9 L174.1,832.9 L174.6,832.9 L175.1,832.9 L175.6,832.9 L176.1,832.9 L176.6,832.9 L177.1,832.9 L177.6,832.9 L178.1,832.9 L178.6,832.9 L179.1,832.9 L179.6,832.9 L180.1,832.9 L180.6,832.9 L181.1,832.9 L181.6,832.9 L182.1,832.9 L182.6,832.9 L183.1,832.9 L183.6,832.8 L184.1,832.8 L184.6,832.8 L185.1,832.8 L185.6,832.8 L186.1,832.8 L186.6,832.8 L187.1,832.8 L187.6,832.8 L188.1,832.7 L188.6,832.7 L189.1,832.7 L189.6,832.7 L190.1,832.7 L190.6,832.7 L191.1,832.6 L191.6,832.6 L192.1,832.6 L192.6,832.6 L193.1,832.5 L193.6,832.5 L194.1,832.5 L194.6,832.5 L195.1,832.4 L195.6,832.4 L196.1,832.4 L196.6,832.3 L197.1,832.3 L197.6,832.2 L198.1,832.2 L198.6,832.2 L199.1,832.1 L199.6,832.1 L200.1,832.0 L200.6,832.0 L201.1,831.9 L201.6,831.8 L202.1,831.8 L202.6,831.7 L203.1,831.7 L203.6,831.6 L204.1,831.5 L204.6,831.4 L205.1,831.4 L205.6,831.3 L206.1,831.2 L206.6,831.1 L207.1,831.0 L207.6,830.9 L208.1,830.8 L208.6,830.7 L209.1,830.5 L209.6,830.4 L210.1,830.3 L210.6,830.2 L211.1,830.0 L211.6,829.9 L212.1,829.7 L212.6,829.5 L213.1,829.4 L213.6,829.2 L214.1,829.0 L214.6,828.8 L215.1,828.6 L215.6,828.4 L216.1,828.1 L216.6,827.9 L217.1,827.6 L217.6,827.4 L218.1,827.1 L218.6,826.8 L219.1,826.5 L219.6,826.2 L220.1,825.9 L220.6,825.6 L221.1,825.3 L221.6,824.9 L222.1,824.6 L222.6,824.3 L223.1,823.9 L223.6,823.5 L224.1,823.2 L224.6,822.8 L225.1,822.5 L225.6,822.2 L226.1,821.8 L226.6,821.5 L227.1,821.3 L227.6,821.0 L228.1,820.8 L228.6,820.5 L229.1,820.4 L229.6,820.2 L230.1,820.1 L230.6,820.1 L231.1,820.0 L231.6,820.1 L232.1,820.1 L232.6,820.2 L233.1,820.2 L233.6,820.3 L234.1,820.4 L234.6,820.6 L235.1,820.7 L235.6,820.9 L236.1,821.1 L236.6,821.2 L237.1,821.4 L237.6,821.7 L238.1,821.9 L238.6,822.1 L239.1,822.4 L239.6,822.6 L240.1,822.9 L240.6,823.1 L241.1,823.4 L241.6,823.6 L242.1,823.9 L242.6,824.2 L243.1,824.4 L243.6,824.7 L244.1,824.9 L244.6,825.2 L245.1,825.5 L245.6,825.7 L246.1,826.0 L246.6,826.2 L247.1,826.5 L247.6,826.7 L248.1,826.9 L248.6,827.2 L249.1,827.4 L249.6,827.6 L250.1,827.8 L250.6,828.0 L251.1,828.2 L251.6,828.4 L252.1,828.6 L252.6,828.8 L253.1,829.0 L253.6,829.2 L254.1,829.4 L254.6,829.6 L255.1,829.7 L255.6,829.9 L256.1,830.0 L256.6,830.2 L257.1,830.4 L257.6,830.5 L258.1,830.6 L258.6,830.8 L259.1,830.9 L259.6,831.0 L260.1,831.2 L260.6,831.3 L261.1,831.4 L261.6,831.5 L262.1,831.7 L262.6,831.8 L263.1,831.9 L263.6,832.0 L264.1,832.1 L264.6,832.2 L265.1,832.3 L265.6,832.4 L266.1,832.5 L266.6,832.6 L267.1,832.7 L267.6,832.7 L268.1,832.8 L268.6,832.9 L269.1,833.0 L269.6,833.1 L270.1,833.2 L270.6,833.2 L271.1,833.3 L271.6,833.4 L272.1,833.4 L272.6,833.5 L273.1,833.6 L273.6,833.6 L274.1,833.7 L274.6,833.8 L275.1,833.8 L275.6,833.9 L276.1,834.0 L276.6,834.0 L277.1,834.1 L277.6,834.1 L278.1,834.2 L278.6,834.2 L279.1,834.3 L279.6,834.3 L280.1,834.4 L280.6,834.4 L281.1,834.5 L281.6,834.5 L282.1,834.6 L282.6,834.6 L283.1,834.7 L283.6,834.7 L284.1,834.8 L284.6,834.8 L285.1,834.8 L285.6,834.9 L286.1,834.9 L286.6,835.0 L287.1,835.0 L287.6,835.1 L288.1,835.1 L288.6,835.1 L289.1,835.2 L289.6,835.2 L290.1,835.2 L290.6,835.3 L291.1,835.3 L291.6,835.3 L292.1,835.4 L292.6,835.4 L293.1,835.4 L293.6,835.5 L294.1,835.5 L294.6,835.5 L295.1,835.6 L295.6,835.6 L296.1,835.6 L296.6,835.7 L297.1,835.7 L297.6,835.7 L298.1,835.8 L298.6,835.8 L299.1,835.8 L299.6,835.9 L300.1,835.9 L300.6,835.9 L301.1,835.9 L301.6,836.0 L302.1,836.0 L302.6,836.0 L303.1,836.0 L303.6,836.1 L304.1,836.1 L304.6,836.1 L305.1,836.1 L305.6,836.2 L306.1,836.2 L306.6,836.2 L307.1,836.3 L307.6,836.3 L308.1,836.3 L308.6,836.3 L309.1,836.3 L309.6,836.4 L310.1,836.4 L310.6,836.4 L311.1,836.4 L311.6,836.5 L312.1,836.5 L312.6,836.5 L313.1,836.5 L313.6,836.6 L314.1,836.6 L314.6,836.6 L315.1,836.6 L315.6,836.6 L316.1,836.7 L316.6,836.7 L317.1,836.7 L317.6,836.7 L318.1,836.8 L318.6,836.8 L319.1,836.8 L319.6,836.8 L320.1,836.8 L320.6,836.9 L321.1,836.9 L321.6,836.9 L322.1,836.9 L322.6,836.9 L323.1,837.0 L323.6,837.0 L324.1,837.0 L324.6,837.0 L325.1,837.0 L325.6,837.1 L326.1,837.1 L326.6,837.1 L327.1,837.1 L327.6,837.1 L328.1,837.2 L328.6,837.2 L329.1,837.2 L329.6,837.2 L330.1,837.2 L330.6,837.2 L331.1,837.3 L331.6,837.3 L332.1,837.3 L332.6,837.3 L333.1,837.3 L333.6,837.4 L334.1,837.4 L334.6,837.4 L335.1,837.4 L335.6,837.4 L336.1,837.4 L336.6,837.5 L337.1,837.5 L337.6,837.5 L338.1,837.5 L338.6,837.5 L339.1,837.6 L339.6,837.6 L340.1,837.6 L340.6,837.6 L341.1,837.6 L341.6,837.6 L342.1,837.7 L342.6,837.7 L343.1,837.7 L343.6,837.7 L344.1,837.7 L344.6,837.7 L345.1,837.8 L345.6,837.8 L346.1,837.8 L346.6,837.8 L347.1,837.8 L347.6,837.8 L348.1,837.9 L348.6,837.9 L349.1,837.9 L349.6,837.9 L350.1,837.9 L350.6,837.9 L351.1,838.0 L351.6,838.0 L352.1,838.0 L352.6,838.0 L353.1,838.0 L353.6,838.0 L354.1,838.1 L354.6,838.1 L355.1,838.1 L355.6,838.1 L356.1,838.1 L356.6,838.1 L357.1,838.1 L357.6,838.2 L358.1,838.2 L358.6,838.2 L359.1,838.2 L359.6,838.2 L360.1,838.2 L360.6,838.3 L361.1,838.3 L361.6,838.3 L362.1,838.3 L362.6,838.3 L363.1,838.3 L363.6,838.4 L364.1,838.4 L364.6,838.4 L365.1,838.4 L365.6,838.4 L366.1,838.4 L366.6,838.4 L367.1,838.5 L367.6,838.5 L368.1,838.5 L368.6,838.5 L369.1,838.5 L369.6,838.5 L370.1,838.6 L370.6,838.6 L371.1,838.6 L371.6,838.6 L372.1,838.6 L372.6,838.6 L373.1,838.6 L373.6,838.7 L374.1,838.7 L374.6,838.7 L375.1,838.7 L375.6,838.7 L376.1,838.7 L376.6,838.7 L377.1,838.8 L377.6,838.8 L378.1,838.8 L378.6,838.8 L379.1,838.8 L379.6,838.8 L380.1,838.9 L380.6,838.9 L381.1,838.9 L381.6,838.9 L382.1,838.9 L382.6,838.9 L383.1,838.9 L383.6,839.0 L384.1,839.0 L384.6,839.0 L385.1,839.0 L385.6,839.0 L386.1,839.0 L386.6,839.0 L387.1,839.1 L387.6,839.1 L388.1,839.1 L388.6,839.1 L389.1,839.1 L389.6,839.1 L390.1,839.1 L390.6,839.2 L391.1,839.2 L391.6,839.2 L392.1,839.2 L392.6,839.2 L393.1,839.2 L393.6,839.2 L394.1,839.3 L394.6,839.3 L395.1,839.3 L395.6,839.3 L396.1,839.3 L396.6,839.3 L397.1,839.3 L397.6,839.4 L398.1,839.4 L398.6,839.4 L399.1,839.4 L399.6,839.4 L400.1,839.4 L400.6,839.4 L401.1,839.5 L401.6,839.5 L402.1,839.5 L402.6,839.5 L403.1,839.5 L403.6,839.5 L404.1,839.5 L404.6,839.6 L405.1,839.6 L405.6,839.6 L406.1,839.6 L406.6,839.6 L407.1,839.6 L407.6,839.6 L408.1,839.7 L408.6,839.7 L409.1,839.7 L409.6,839.7 L410.1,839.7 L410.6,839.7 L411.1,839.7 L411.6,839.8 L412.1,839.8 L412.6,839.8 L413.1,839.8 L413.6,839.8 L414.1,839.8 L414.6,839.8 L415.1,839.9 L415.6,839.9 L416.1,839.9 L416.6,839.9 L417.1,839.9 L417.6,839.9 L418.1,839.9 L418.6,840.0 L419.1,840.0 L419.6,840.0 L420.1,840.0 L420.6,840.0 L421.1,840.0 L421.6,840.0 L422.1,840.1 L422.6,840.1 L423.1,840.1 L423.6,840.1 L424.1,840.1 L424.6,840.1 L425.1,840.1 L425.6,840.1 L426.1,840.2 L426.6,840.2 L427.1,840.2 L427.6,840.2 L428.1,840.2 L428.6,840.2 L429.1,840.2 L429.6,840.3 L430.1,840.3 L430.6,840.3 L431.1,840.3 L431.6,840.3 L432.1,840.3 L432.6,840.3 L433.1,840.4 L433.6,840.4 L434.1,840.4 L434.6,840.4 L435.1,840.4 L435.6,840.4 L436.1,840.4 L436.6,840.5 L437.1,840.5 L437.6,840.5 L438.1,840.5 L438.6,840.5 L439.1,840.5 L439.6,840.5 L440.1,840.5 L440.6,840.6 L441.1,840.6 L441.6,840.6 L442.1,840.6 L442.6,840.6 L443.1,840.6 L443.6,840.6 L444.1,840.7 L444.6,840.7 L445.1,840.7 L445.6,840.7 L446.1,840.7 L446.6,840.7 L447.1,840.7 L447.6,840.8 L448.1,840.8 L448.6,840.8 L449.1,840.8 L449.6,840.8 L450.1,840.8 L450.6,840.8 L451.1,840.9 L451.6,840.9 L452.1,840.9 L452.6,840.9 L453.1,840.9 L453.6,840.9 L454.1,840.9 L454.6,840.9 L455.1,841.0 L455.6,841.0 L456.1,841.0 L456.6,841.0 L457.1,841.0 L457.6,841.0 L458.1,841.0 L458.6,841.1 L459.1,841.1 L459.6,841.1 L460.1,841.1 L460.6,841.1 L461.1,841.1 L461.6,841.1" fill="none" stroke="#3a8f8d" stroke-width="1.5" stroke-linejoin="round"/>
<path d="M168.6,832.2 L169.1,832.2 L169.6,832.2 L170.1,832.2 L170.6,832.2 L171.1,832.2 L171.6,832.2 L172.1,832.2 L172.6,832.2 L173.1,832.2 L173.6,832.2 L174.1,832.2 L174.6,832.2 L175.1,832.2 L175.6,832.2 L176.1,832.2 L176.6,832.2 L177.1,832.2 L177.6,832.2 L178.1,832.2 L178.6,832.2 L179.1,832.2 L179.6,832.2 L180.1,832.2 L180.6,832.2 L181.1,832.2 L181.6,832.2 L182.1,832.2 L182.6,832.2 L183.1,832.3 L183.6,832.3 L184.1,832.3 L184.6,832.3 L185.1,832.3 L185.6,832.3 L186.1,832.3 L186.6,832.3 L187.1,832.3 L187.6,832.3 L188.1,832.3 L188.6,832.3 L189.1,832.3 L189.6,832.2 L190.1,832.2 L190.6,832.2 L191.1,832.2 L191.6,832.2 L192.1,832.2 L192.6,832.2 L193.1,832.2 L193.6,832.2 L194.1,832.2 L194.6,832.2 L195.1,832.2 L195.6,832.2 L196.1,832.2 L196.6,832.2 L197.1,832.2 L197.6,832.2 L198.1,832.2 L198.6,832.2 L199.1,832.2 L199.6,832.2 L200.1,832.2 L200.6,832.2 L201.1,832.2 L201.6,832.2 L202.1,832.2 L202.6,832.2 L203.1,832.2 L203.6,832.1 L204.1,832.1 L204.6,832.1 L205.1,832.1 L205.6,832.1 L206.1,832.1 L206.6,832.1 L207.1,832.1 L207.6,832.1 L208.1,832.1 L208.6,832.1 L209.1,832.1 L209.6,832.1 L210.1,832.0 L210.6,832.0 L211.1,832.0 L211.6,832.0 L212.1,832.0 L212.6,832.0 L213.1,832.0 L213.6,832.0 L214.1,831.9 L214.6,831.9 L215.1,831.9 L215.6,831.9 L216.1,831.9 L216.6,831.9 L217.1,831.9 L217.6,831.9 L218.1,831.8 L218.6,831.8 L219.1,831.8 L219.6,831.8 L220.1,831.8 L220.6,831.8 L221.1,831.7 L221.6,831.7 L222.1,831.7 L222.6,831.7 L223.1,831.7 L223.6,831.6 L224.1,831.6 L224.6,831.6 L225.1,831.6 L225.6,831.5 L226.1,831.5 L226.6,831.5 L227.1,831.5 L227.6,831.5 L228.1,831.4 L228.6,831.4 L229.1,831.4 L229.6,831.3 L230.1,831.3 L230.6,831.3 L231.1,831.3 L231.6,831.2 L232.1,831.2 L232.6,831.2 L233.1,831.1 L233.6,831.1 L234.1,831.1 L234.6,831.0 L235.1,831.0 L235.6,831.0 L236.1,830.9 L236.6,830.9 L237.1,830.9 L237.6,830.8 L238.1,830.8 L238.6,830.7 L239.1,830.7 L239.6,830.6 L240.1,830.6 L240.6,830.6 L241.1,830.5 L241.6,830.5 L242.1,830.4 L242.6,830.4 L243.1,830.3 L243.6,830.3 L244.1,830.2 L244.6,830.1 L245.1,830.1 L245.6,830.0 L246.1,830.0 L246.6,829.9 L247.1,829.8 L247.6,829.8 L248.1,829.7 L248.6,829.6 L249.1,829.6 L249.6,829.5 L250.1,829.4 L250.6,829.3 L251.1,829.3 L251.6,829.2 L252.1,829.1 L252.6,829.0 L253.1,828.9 L253.6,828.8 L254.1,828.7 L254.6,828.6 L255.1,828.5 L255.6,828.4 L256.1,828.3 L256.6,828.2 L257.1,828.1 L257.6,828.0 L258.1,827.9 L258.6,827.7 L259.1,827.6 L259.6,827.5 L260.1,827.3 L260.6,827.2 L261.1,827.0 L261.6,826.9 L262.1,826.7 L262.6,826.6 L263.1,826.4 L263.6,826.2 L264.1,826.0 L264.6,825.8 L265.1,825.6 L265.6,825.4 L266.1,825.2 L266.6,825.0 L267.1,824.8 L267.6,824.6 L268.1,824.3 L268.6,824.1 L269.1,823.8 L269.6,823.5 L270.1,823.2 L270.6,822.9 L271.1,822.6 L271.6,822.3 L272.1,822.0 L272.6,821.7 L273.1,821.3 L273.6,821.0 L274.1,820.6 L274.6,820.2 L275.1,819.8 L275.6,819.4 L276.1,818.9 L276.6,818.5 L277.1,818.0 L277.6,817.6 L278.1,817.1 L278.6,816.6 L279.1,816.0 L279.6,815.5 L280.1,814.9 L280.6,814.3 L281.1,813.7 L281.6,813.1 L282.1,812.5 L282.6,811.8 L283.1,811.2 L283.6,810.5 L284.1,809.7 L284.6,809.0 L285.1,808.2 L285.6,807.5 L286.1,806.7 L286.6,805.8 L287.1,805.0 L287.6,804.1 L288.1,803.2 L288.6,802.3 L289.1,801.4 L289.6,800.4 L290.1,799.5 L290.6,798.4 L291.1,797.4 L291.6,796.4 L292.1,795.3 L292.6,794.2 L293.1,793.1 L293.6,792.0 L294.1,790.8 L294.6,789.6 L295.1,788.4 L295.6,787.2 L296.1,786.0 L296.6,784.7 L297.1,783.5 L297.6,782.2 L298.1,780.9 L298.6,779.5 L299.1,778.2 L299.6,776.9 L300.1,775.5 L300.6,774.1 L301.1,772.8 L301.6,771.4 L302.1,770.0 L302.6,768.6 L303.1,767.2 L303.6,765.8 L304.1,764.4 L304.6,763.1 L305.1,761.7 L305.6,760.3 L306.1,759.0 L306.6,757.7 L307.1,756.3 L307.6,755.1 L308.1,753.8 L308.6,752.6 L309.1,751.4 L309.6,750.2 L310.1,749.1 L310.6,748.0 L311.1,747.0 L311.6,746.0 L312.1,745.1 L312.6,744.3 L313.1,743.5 L313.6,742.7 L314.1,742.1 L314.6,741.5 L315.1,741.0 L315.6,740.5 L316.1,740.2 L316.6,739.9 L317.1,739.7 L317.6,739.6 L318.1,739.6 L318.6,739.6 L319.1,739.8 L319.6,740.0 L320.1,740.2 L320.6,740.6 L321.1,741.1 L321.6,741.6 L322.1,742.2 L322.6,742.8 L323.1,743.5 L323.6,744.3 L324.1,745.2 L324.6,746.1 L325.1,747.0 L325.6,748.0 L326.1,749.1 L326.6,750.2 L327.1,751.3 L327.6,752.5 L328.1,753.7 L328.6,755.0 L329.1,756.2 L329.6,757.5 L330.1,758.9 L330.6,760.2 L331.1,761.5 L331.6,762.9 L332.1,764.3 L332.6,765.6 L333.1,767.0 L333.6,768.4 L334.1,769.8 L334.6,771.2 L335.1,772.6 L335.6,774.0 L336.1,775.3 L336.6,776.7 L337.1,778.0 L337.6,779.4 L338.1,780.7 L338.6,782.0 L339.1,783.3 L339.6,784.6 L340.1,785.9 L340.6,787.1 L341.1,788.4 L341.6,789.6 L342.1,790.8 L342.6,792.0 L343.1,793.1 L343.6,794.3 L344.1,795.4 L344.6,796.5 L345.1,797.6 L345.6,798.6 L346.1,799.7 L346.6,800.7 L347.1,801.7 L347.6,802.6 L348.1,803.6 L348.6,804.5 L349.1,805.4 L349.6,806.3 L350.1,807.2 L350.6,808.0 L351.1,808.8 L351.6,809.6 L352.1,810.4 L352.6,811.2 L353.1,811.9 L353.6,812.6 L354.1,813.3 L354.6,814.0 L355.1,814.6 L355.6,815.3 L356.1,815.9 L356.6,816.5 L357.1,817.1 L357.6,817.7 L358.1,818.2 L358.6,818.8 L359.1,819.3 L359.6,819.8 L360.1,820.3 L360.6,820.8 L361.1,821.2 L361.6,821.7 L362.1,822.1 L362.6,822.5 L363.1,822.9 L363.6,823.3 L364.1,823.7 L364.6,824.1 L365.1,824.4 L365.6,824.8 L366.1,825.1 L366.6,825.4 L367.1,825.7 L367.6,826.0 L368.1,826.3 L368.6,826.6 L369.1,826.9 L369.6,827.2 L370.1,827.4 L370.6,827.7 L371.1,827.9 L371.6,828.1 L372.1,828.4 L372.6,828.6 L373.1,828.8 L373.6,829.0 L374.1,829.2 L374.6,829.4 L375.1,829.6 L375.6,829.8 L376.1,830.0 L376.6,830.1 L377.1,830.3 L377.6,830.5 L378.1,830.6 L378.6,830.8 L379.1,830.9 L379.6,831.1 L380.1,831.2 L380.6,831.4 L381.1,831.5 L381.6,831.6 L382.1,831.8 L382.6,831.9 L383.1,832.0 L383.6,832.2 L384.1,832.3 L384.6,832.4 L385.1,832.5 L385.6,832.6 L386.1,832.7 L386.6,832.8 L387.1,832.9 L387.6,833.0 L388.1,833.1 L388.6,833.2 L389.1,833.3 L389.6,833.4 L390.1,833.5 L390.6,833.6 L391.1,833.7 L391.6,833.8 L392.1,833.9 L392.6,833.9 L393.1,834.0 L393.6,834.1 L394.1,834.2 L394.6,834.3 L395.1,834.3 L395.6,834.4 L396.1,834.5 L396.6,834.6 L397.1,834.6 L397.6,834.7 L398.1,834.8 L398.6,834.8 L399.1,834.9 L399.6,835.0 L400.1,835.0 L400.6,835.1 L401.1,835.2 L401.6,835.2 L402.1,835.3 L402.6,835.4 L403.1,835.4 L403.6,835.5 L404.1,835.5 L404.6,835.6 L405.1,835.7 L405.6,835.7 L406.1,835.8 L406.6,835.8 L407.1,835.9 L407.6,835.9 L408.1,836.0 L408.6,836.0 L409.1,836.1 L409.6,836.1 L410.1,836.2 L410.6,836.2 L411.1,836.3 L411.6,836.3 L412.1,836.4 L412.6,836.4 L413.1,836.5 L413.6,836.5 L414.1,836.6 L414.6,836.6 L415.1,836.7 L415.6,836.7 L416.1,836.8 L416.6,836.8 L417.1,836.9 L417.6,836.9 L418.1,836.9 L418.6,837.0 L419.1,837.0 L419.6,837.1 L420.1,837.1 L420.6,837.2 L421.1,837.2 L421.6,837.2 L422.1,837.3 L422.6,837.3 L423.1,837.4 L423.6,837.4 L424.1,837.4 L424.6,837.5 L425.1,837.5 L425.6,837.5 L426.1,837.6 L426.6,837.6 L427.1,837.7 L427.6,837.7 L428.1,837.7 L428.6,837.8 L429.1,837.8 L429.6,837.8 L430.1,837.9 L430.6,837.9 L431.1,837.9 L431.6,838.0 L432.1,838.0 L432.6,838.0 L433.1,838.1 L433.6,838.1 L434.1,838.1 L434.6,838.2 L435.1,838.2 L435.6,838.2 L436.1,838.3 L436.6,838.3 L437.1,838.3 L437.6,838.4 L438.1,838.4 L438.6,838.4 L439.1,838.5 L439.6,838.5 L440.1,838.5 L440.6,838.6 L441.1,838.6 L441.6,838.6 L442.1,838.6 L442.6,838.7 L443.1,838.7 L443.6,838.7 L444.1,838.8 L444.6,838.8 L445.1,838.8 L445.6,838.8 L446.1,838.9 L446.6,838.9 L447.1,838.9 L447.6,839.0 L448.1,839.0 L448.6,839.0 L449.1,839.0 L449.6,839.1 L450.1,839.1 L450.6,839.1 L451.1,839.1 L451.6,839.2 L452.1,839.2 L452.6,839.2 L453.1,839.2 L453.6,839.3 L454.1,839.3 L454.6,839.3 L455.1,839.3 L455.6,839.4 L456.1,839.4 L456.6,839.4 L457.1,839.4 L457.6,839.5 L458.1,839.5 L458.6,839.5 L459.1,839.5 L459.6,839.6 L460.1,839.6 L460.6,839.6 L461.1,839.6 L461.6,839.7" fill="none" stroke="#b656c0" stroke-width="1.6" stroke-linejoin="round"/>
<path d="M168.6,832.6 L169.1,832.6 L169.6,832.6 L170.1,832.6 L170.6,832.6 L171.1,832.6 L171.6,832.6 L172.1,832.6 L172.6,832.6 L173.1,832.7 L173.6,832.7 L174.1,832.7 L174.6,832.7 L175.1,832.7 L175.6,832.7 L176.1,832.7 L176.6,832.7 L177.1,832.7 L177.6,832.7 L178.1,832.7 L178.6,832.7 L179.1,832.7 L179.6,832.7 L180.1,832.7 L180.6,832.8 L181.1,832.8 L181.6,832.8 L182.1,832.8 L182.6,832.8 L183.1,832.8 L183.6,832.8 L184.1,832.8 L184.6,832.8 L185.1,832.8 L185.6,832.8 L186.1,832.8 L186.6,832.8 L187.1,832.8 L187.6,832.8 L188.1,832.8 L188.6,832.8 L189.1,832.9 L189.6,832.9 L190.1,832.9 L190.6,832.9 L191.1,832.9 L191.6,832.9 L192.1,832.9 L192.6,832.9 L193.1,832.9 L193.6,832.9 L194.1,832.9 L194.6,832.9 L195.1,832.9 L195.6,832.9 L196.1,832.9 L196.6,832.9 L197.1,832.9 L197.6,832.9 L198.1,832.9 L198.6,832.9 L199.1,832.9 L199.6,832.9 L200.1,833.0 L200.6,833.0 L201.1,833.0 L201.6,833.0 L202.1,833.0 L202.6,833.0 L203.1,833.0 L203.6,833.0 L204.1,833.0 L204.6,833.0 L205.1,833.0 L205.6,833.0 L206.1,833.0 L206.6,833.0 L207.1,833.0 L207.6,833.0 L208.1,833.0 L208.6,833.0 L209.1,833.0 L209.6,833.0 L210.1,833.0 L210.6,833.0 L211.1,833.0 L211.6,833.0 L212.1,833.0 L212.6,833.0 L213.1,833.0 L213.6,833.0 L214.1,833.0 L214.6,833.0 L215.1,833.0 L215.6,833.0 L216.1,833.0 L216.6,833.0 L217.1,833.0 L217.6,833.0 L218.1,833.0 L218.6,833.0 L219.1,833.0 L219.6,833.0 L220.1,833.0 L220.6,833.0 L221.1,833.0 L221.6,833.0 L222.1,833.0 L222.6,833.0 L223.1,833.0 L223.6,833.0 L224.1,833.0 L224.6,833.0 L225.1,833.0 L225.6,833.0 L226.1,833.0 L226.6,833.0 L227.1,832.9 L227.6,832.9 L228.1,832.9 L228.6,832.9 L229.1,832.9 L229.6,832.9 L230.1,832.9 L230.6,832.9 L231.1,832.9 L231.6,832.9 L232.1,832.9 L232.6,832.9 L233.1,832.9 L233.6,832.9 L234.1,832.9 L234.6,832.9 L235.1,832.8 L235.6,832.8 L236.1,832.8 L236.6,832.8 L237.1,832.8 L237.6,832.8 L238.1,832.8 L238.6,832.8 L239.1,832.8 L239.6,832.8 L240.1,832.7 L240.6,832.7 L241.1,832.7 L241.6,832.7 L242.1,832.7 L242.6,832.7 L243.1,832.7 L243.6,832.7 L244.1,832.6 L244.6,832.6 L245.1,832.6 L245.6,832.6 L246.1,832.6 L246.6,832.6 L247.1,832.5 L247.6,832.5 L248.1,832.5 L248.6,832.5 L249.1,832.5 L249.6,832.5 L250.1,832.4 L250.6,832.4 L251.1,832.4 L251.6,832.4 L252.1,832.4 L252.6,832.3 L253.1,832.3 L253.6,832.3 L254.1,832.3 L254.6,832.2 L255.1,832.2 L255.6,832.2 L256.1,832.2 L256.6,832.1 L257.1,832.1 L257.6,832.1 L258.1,832.1 L258.6,832.0 L259.1,832.0 L259.6,832.0 L260.1,831.9 L260.6,831.9 L261.1,831.9 L261.6,831.8 L262.1,831.8 L262.6,831.8 L263.1,831.7 L263.6,831.7 L264.1,831.7 L264.6,831.6 L265.1,831.6 L265.6,831.5 L266.1,831.5 L266.6,831.5 L267.1,831.4 L267.6,831.4 L268.1,831.3 L268.6,831.3 L269.1,831.2 L269.6,831.2 L270.1,831.1 L270.6,831.1 L271.1,831.0 L271.6,831.0 L272.1,830.9 L272.6,830.9 L273.1,830.8 L273.6,830.8 L274.1,830.7 L274.6,830.6 L275.1,830.6 L275.6,830.5 L276.1,830.4 L276.6,830.4 L277.1,830.3 L277.6,830.2 L278.1,830.2 L278.6,830.1 L279.1,830.0 L279.6,829.9 L280.1,829.9 L280.6,829.8 L281.1,829.7 L281.6,829.6 L282.1,829.5 L282.6,829.4 L283.1,829.3 L283.6,829.3 L284.1,829.2 L284.6,829.1 L285.1,829.0 L285.6,828.9 L286.1,828.8 L286.6,828.6 L287.1,828.5 L287.6,828.4 L288.1,828.3 L288.6,828.2 L289.1,828.1 L289.6,827.9 L290.1,827.8 L290.6,827.7 L291.1,827.5 L291.6,827.4 L292.1,827.2 L292.6,827.1 L293.1,826.9 L293.6,826.8 L294.1,826.6 L294.6,826.5 L295.1,826.3 L295.6,826.1 L296.1,825.9 L296.6,825.8 L297.1,825.6 L297.6,825.4 L298.1,825.2 L298.6,825.0 L299.1,824.8 L299.6,824.5 L300.1,824.3 L300.6,824.1 L301.1,823.8 L301.6,823.6 L302.1,823.3 L302.6,823.1 L303.1,822.8 L303.6,822.5 L304.1,822.2 L304.6,822.0 L305.1,821.6 L305.6,821.3 L306.1,821.0 L306.6,820.7 L307.1,820.3 L307.6,820.0 L308.1,819.6 L308.6,819.2 L309.1,818.8 L309.6,818.4 L310.1,818.0 L310.6,817.5 L311.1,817.1 L311.6,816.6 L312.1,816.1 L312.6,815.6 L313.1,815.1 L313.6,814.6 L314.1,814.0 L314.6,813.4 L315.1,812.8 L315.6,812.2 L316.1,811.5 L316.6,810.9 L317.1,810.2 L317.6,809.4 L318.1,808.7 L318.6,807.9 L319.1,807.1 L319.6,806.2 L320.1,805.4 L320.6,804.4 L321.1,803.5 L321.6,802.5 L322.1,801.5 L322.6,800.5 L323.1,799.4 L323.6,798.2 L324.1,797.0 L324.6,795.8 L325.1,794.5 L325.6,793.2 L326.1,791.8 L326.6,790.4 L327.1,789.0 L327.6,787.4 L328.1,785.8 L328.6,784.2 L329.1,782.5 L329.6,780.8 L330.1,779.0 L330.6,777.1 L331.1,775.2 L331.6,773.2 L332.1,771.1 L332.6,769.0 L333.1,766.9 L333.6,764.6 L334.1,762.4 L334.6,760.1 L335.1,757.7 L335.6,755.3 L336.1,752.8 L336.6,750.3 L337.1,747.8 L337.6,745.3 L338.1,742.7 L338.6,740.2 L339.1,737.7 L339.6,735.2 L340.1,732.7 L340.6,730.3 L341.1,728.0 L341.6,725.7 L342.1,723.6 L342.6,721.5 L343.1,719.6 L343.6,717.9 L344.1,716.3 L344.6,714.9 L345.1,713.6 L345.6,712.6 L346.1,711.9 L346.6,711.3 L347.1,711.0 L347.6,710.9 L348.1,711.1 L348.6,711.4 L349.1,712.0 L349.6,712.7 L350.1,713.7 L350.6,714.8 L351.1,716.1 L351.6,717.6 L352.1,719.2 L352.6,720.9 L353.1,722.8 L353.6,724.8 L354.1,726.9 L354.6,729.0 L355.1,731.3 L355.6,733.6 L356.1,735.9 L356.6,738.3 L357.1,740.6 L357.6,743.0 L358.1,745.4 L358.6,747.8 L359.1,750.2 L359.6,752.6 L360.1,754.9 L360.6,757.2 L361.1,759.4 L361.6,761.7 L362.1,763.8 L362.6,766.0 L363.1,768.1 L363.6,770.1 L364.1,772.1 L364.6,774.0 L365.1,775.9 L365.6,777.7 L366.1,779.5 L366.6,781.3 L367.1,782.9 L367.6,784.6 L368.1,786.1 L368.6,787.7 L369.1,789.1 L369.6,790.6 L370.1,792.0 L370.6,793.3 L371.1,794.6 L371.6,795.8 L372.1,797.1 L372.6,798.2 L373.1,799.4 L373.6,800.5 L374.1,801.5 L374.6,802.5 L375.1,803.5 L375.6,804.5 L376.1,805.4 L376.6,806.3 L377.1,807.2 L377.6,808.0 L378.1,808.8 L378.6,809.6 L379.1,810.3 L379.6,811.1 L380.1,811.8 L380.6,812.4 L381.1,813.1 L381.6,813.7 L382.1,814.4 L382.6,815.0 L383.1,815.5 L383.6,816.1 L384.1,816.6 L384.6,817.2 L385.1,817.7 L385.6,818.2 L386.1,818.6 L386.6,819.1 L387.1,819.6 L387.6,820.0 L388.1,820.4 L388.6,820.8 L389.1,821.2 L389.6,821.6 L390.1,822.0 L390.6,822.4 L391.1,822.7 L391.6,823.1 L392.1,823.4 L392.6,823.7 L393.1,824.0 L393.6,824.3 L394.1,824.6 L394.6,824.9 L395.1,825.2 L395.6,825.5 L396.1,825.8 L396.6,826.0 L397.1,826.3 L397.6,826.5 L398.1,826.8 L398.6,827.0 L399.1,827.2 L399.6,827.5 L400.1,827.7 L400.6,827.9 L401.1,828.1 L401.6,828.3 L402.1,828.5 L402.6,828.7 L403.1,828.9 L403.6,829.1 L404.1,829.3 L404.6,829.5 L405.1,829.7 L405.6,829.8 L406.1,830.0 L406.6,830.2 L407.1,830.3 L407.6,830.5 L408.1,830.6 L408.6,830.8 L409.1,830.9 L409.6,831.1 L410.1,831.2 L410.6,831.4 L411.1,831.5 L411.6,831.6 L412.1,831.8 L412.6,831.9 L413.1,832.0 L413.6,832.2 L414.1,832.3 L414.6,832.4 L415.1,832.5 L415.6,832.6 L416.1,832.7 L416.6,832.9 L417.1,833.0 L417.6,833.1 L418.1,833.2 L418.6,833.3 L419.1,833.4 L419.6,833.5 L420.1,833.6 L420.6,833.7 L421.1,833.8 L421.6,833.9 L422.1,834.0 L422.6,834.1 L423.1,834.2 L423.6,834.2 L424.1,834.3 L424.6,834.4 L425.1,834.5 L425.6,834.6 L426.1,834.7 L426.6,834.8 L427.1,834.8 L427.6,834.9 L428.1,835.0 L428.6,835.1 L429.1,835.1 L429.6,835.2 L430.1,835.3 L430.6,835.4 L431.1,835.4 L431.6,835.5 L432.1,835.6 L432.6,835.6 L433.1,835.7 L433.6,835.8 L434.1,835.8 L434.6,835.9 L435.1,836.0 L435.6,836.0 L436.1,836.1 L436.6,836.2 L437.1,836.2 L437.6,836.3 L438.1,836.3 L438.6,836.4 L439.1,836.4 L439.6,836.5 L440.1,836.6 L440.6,836.6 L441.1,836.7 L441.6,836.7 L442.1,836.8 L442.6,836.8 L443.1,836.9 L443.6,836.9 L444.1,837.0 L444.6,837.0 L445.1,837.1 L445.6,837.1 L446.1,837.2 L446.6,837.2 L447.1,837.3 L447.6,837.3 L448.1,837.4 L448.6,837.4 L449.1,837.5 L449.6,837.5 L450.1,837.6 L450.6,837.6 L451.1,837.7 L451.6,837.7 L452.1,837.7 L452.6,837.8 L453.1,837.8 L453.6,837.9 L454.1,837.9 L454.6,838.0 L455.1,838.0 L455.6,838.0 L456.1,838.1 L456.6,838.1 L457.1,838.2 L457.6,838.2 L458.1,838.2 L458.6,838.3 L459.1,838.3 L459.6,838.4 L460.1,838.4 L460.6,838.4 L461.1,838.5 L461.6,838.5" fill="none" stroke="#939c55" stroke-width="1.5" stroke-linejoin="round"/>
<path d="M168.6,830.5 L169.1,830.5 L169.6,830.5 L170.1,830.5 L170.6,830.5 L171.1,830.5 L171.6,830.4 L172.1,830.4 L172.6,830.4 L173.1,830.4 L173.6,830.4 L174.1,830.4 L174.6,830.4 L175.1,830.3 L175.6,830.3 L176.1,830.3 L176.6,830.3 L177.1,830.3 L177.6,830.2 L178.1,830.2 L178.6,830.2 L179.1,830.2 L179.6,830.2 L180.1,830.1 L180.6,830.1 L181.1,830.1 L181.6,830.1 L182.1,830.0 L182.6,830.0 L183.1,830.0 L183.6,830.0 L184.1,829.9 L184.6,829.9 L185.1,829.9 L185.6,829.8 L186.1,829.8 L186.6,829.8 L187.1,829.7 L187.6,829.7 L188.1,829.7 L188.6,829.6 L189.1,829.6 L189.6,829.6 L190.1,829.5 L190.6,829.5 L191.1,829.4 L191.6,829.4 L192.1,829.3 L192.6,829.3 L193.1,829.2 L193.6,829.2 L194.1,829.1 L194.6,829.1 L195.1,829.0 L195.6,829.0 L196.1,828.9 L196.6,828.8 L197.1,828.8 L197.6,828.7 L198.1,828.6 L198.6,828.6 L199.1,828.5 L199.6,828.4 L200.1,828.4 L200.6,828.3 L201.1,828.2 L201.6,828.1 L202.1,828.0 L202.6,827.9 L203.1,827.8 L203.6,827.7 L204.1,827.6 L204.6,827.5 L205.1,827.4 L205.6,827.3 L206.1,827.1 L206.6,827.0 L207.1,826.9 L207.6,826.7 L208.1,826.6 L208.6,826.4 L209.1,826.3 L209.6,826.1 L210.1,825.9 L210.6,825.8 L211.1,825.6 L211.6,825.4 L212.1,825.2 L212.6,825.0 L213.1,824.8 L213.6,824.5 L214.1,824.3 L214.6,824.1 L215.1,823.8 L215.6,823.6 L216.1,823.3 L216.6,823.0 L217.1,822.7 L217.6,822.4 L218.1,822.1 L218.6,821.8 L219.1,821.4 L219.6,821.1 L220.1,820.7 L220.6,820.4 L221.1,820.0 L221.6,819.6 L222.1,819.2 L222.6,818.8 L223.1,818.4 L223.6,818.0 L224.1,817.6 L224.6,817.2 L225.1,816.8 L225.6,816.4 L226.1,816.0 L226.6,815.6 L227.1,815.3 L227.6,814.9 L228.1,814.6 L228.6,814.4 L229.1,814.1 L229.6,813.9 L230.1,813.7 L230.6,813.6 L231.1,813.5 L231.6,813.4 L232.1,813.4 L232.6,813.4 L233.1,813.4 L233.6,813.4 L234.1,813.4 L234.6,813.5 L235.1,813.5 L235.6,813.6 L236.1,813.7 L236.6,813.8 L237.1,814.0 L237.6,814.1 L238.1,814.2 L238.6,814.4 L239.1,814.6 L239.6,814.7 L240.1,814.9 L240.6,815.1 L241.1,815.3 L241.6,815.4 L242.1,815.6 L242.6,815.8 L243.1,816.0 L243.6,816.2 L244.1,816.4 L244.6,816.6 L245.1,816.7 L245.6,816.9 L246.1,817.1 L246.6,817.3 L247.1,817.4 L247.6,817.6 L248.1,817.7 L248.6,817.9 L249.1,818.0 L249.6,818.1 L250.1,818.2 L250.6,818.3 L251.1,818.4 L251.6,818.5 L252.1,818.6 L252.6,818.7 L253.1,818.7 L253.6,818.8 L254.1,818.8 L254.6,818.8 L255.1,818.9 L255.6,818.9 L256.1,818.9 L256.6,818.9 L257.1,818.9 L257.6,818.9 L258.1,818.8 L258.6,818.8 L259.1,818.7 L259.6,818.7 L260.1,818.6 L260.6,818.5 L261.1,818.4 L261.6,818.3 L262.1,818.2 L262.6,818.1 L263.1,818.0 L263.6,817.8 L264.1,817.7 L264.6,817.5 L265.1,817.3 L265.6,817.1 L266.1,816.9 L266.6,816.7 L267.1,816.5 L267.6,816.3 L268.1,816.1 L268.6,815.8 L269.1,815.5 L269.6,815.3 L270.1,815.0 L270.6,814.7 L271.1,814.4 L271.6,814.1 L272.1,813.7 L272.6,813.4 L273.1,813.0 L273.6,812.6 L274.1,812.2 L274.6,811.8 L275.1,811.4 L275.6,810.9 L276.1,810.4 L276.6,809.9 L277.1,809.4 L277.6,808.9 L278.1,808.3 L278.6,807.7 L279.1,807.1 L279.6,806.5 L280.1,805.9 L280.6,805.2 L281.1,804.5 L281.6,803.7 L282.1,803.0 L282.6,802.2 L283.1,801.4 L283.6,800.5 L284.1,799.7 L284.6,798.8 L285.1,797.8 L285.6,796.9 L286.1,795.9 L286.6,794.9 L287.1,793.9 L287.6,792.8 L288.1,791.7 L288.6,790.6 L289.1,789.5 L289.6,788.3 L290.1,787.1 L290.6,785.9 L291.1,784.7 L291.6,783.4 L292.1,782.2 L292.6,780.8 L293.1,779.5 L293.6,778.2 L294.1,776.8 L294.6,775.4 L295.1,774.0 L295.6,772.6 L296.1,771.2 L296.6,769.8 L297.1,768.3 L297.6,766.8 L298.1,765.3 L298.6,763.8 L299.1,762.3 L299.6,760.8 L300.1,759.3 L300.6,757.7 L301.1,756.2 L301.6,754.6 L302.1,753.1 L302.6,751.5 L303.1,749.9 L303.6,748.4 L304.1,746.8 L304.6,745.2 L305.1,743.6 L305.6,742.0 L306.1,740.4 L306.6,738.8 L307.1,737.2 L307.6,735.7 L308.1,734.1 L308.6,732.5 L309.1,731.0 L309.6,729.5 L310.1,728.0 L310.6,726.5 L311.1,725.1 L311.6,723.7 L312.1,722.3 L312.6,721.0 L313.1,719.7 L313.6,718.4 L314.1,717.2 L314.6,716.1 L315.1,715.0 L315.6,713.9 L316.1,712.9 L316.6,712.0 L317.1,711.1 L317.6,710.3 L318.1,709.5 L318.6,708.8 L319.1,708.1 L319.6,707.4 L320.1,706.8 L320.6,706.3 L321.1,705.8 L321.6,705.3 L322.1,704.8 L322.6,704.4 L323.1,704.0 L323.6,703.6 L324.1,703.2 L324.6,702.8 L325.1,702.4 L325.6,702.0 L326.1,701.6 L326.6,701.2 L327.1,700.8 L327.6,700.3 L328.1,699.9 L328.6,699.3 L329.1,698.8 L329.6,698.2 L330.1,697.6 L330.6,696.9 L331.1,696.2 L331.6,695.4 L332.1,694.6 L332.6,693.7 L333.1,692.8 L333.6,691.9 L334.1,690.9 L334.6,689.9 L335.1,688.8 L335.6,687.7 L336.1,686.6 L336.6,685.5 L337.1,684.3 L337.6,683.2 L338.1,682.0 L338.6,680.9 L339.1,679.8 L339.6,678.7 L340.1,677.6 L340.6,676.6 L341.1,675.7 L341.6,674.8 L342.1,674.0 L342.6,673.4 L343.1,672.8 L343.6,672.4 L344.1,672.1 L344.6,672.0 L345.1,672.1 L345.6,672.3 L346.1,672.7 L346.6,673.4 L347.1,674.2 L347.6,675.2 L348.1,676.4 L348.6,677.8 L349.1,679.3 L349.6,681.0 L350.1,682.9 L350.6,684.9 L351.1,687.0 L351.6,689.3 L352.1,691.7 L352.6,694.2 L353.1,696.7 L353.6,699.4 L354.1,702.1 L354.6,704.9 L355.1,707.7 L355.6,710.5 L356.1,713.4 L356.6,716.2 L357.1,719.1 L357.6,722.0 L358.1,724.8 L358.6,727.6 L359.1,730.4 L359.6,733.2 L360.1,735.9 L360.6,738.6 L361.1,741.3 L361.6,743.9 L362.1,746.4 L362.6,748.9 L363.1,751.4 L363.6,753.8 L364.1,756.1 L364.6,758.4 L365.1,760.7 L365.6,762.9 L366.1,765.0 L366.6,767.1 L367.1,769.2 L367.6,771.2 L368.1,773.1 L368.6,774.9 L369.1,776.7 L369.6,778.5 L370.1,780.1 L370.6,781.7 L371.1,783.3 L371.6,784.7 L372.1,786.1 L372.6,787.5 L373.1,788.7 L373.6,789.9 L374.1,791.1 L374.6,792.1 L375.1,793.2 L375.6,794.1 L376.1,795.1 L376.6,795.9 L377.1,796.8 L377.6,797.6 L378.1,798.4 L378.6,799.2 L379.1,799.9 L379.6,800.7 L380.1,801.4 L380.6,802.1 L381.1,802.8 L381.6,803.5 L382.1,804.2 L382.6,804.8 L383.1,805.5 L383.6,806.2 L384.1,806.8 L384.6,807.5 L385.1,808.2 L385.6,808.8 L386.1,809.4 L386.6,810.1 L387.1,810.7 L387.6,811.3 L388.1,812.0 L388.6,812.6 L389.1,813.2 L389.6,813.8 L390.1,814.4 L390.6,815.0 L391.1,815.6 L391.6,816.2 L392.1,816.8 L392.6,817.4 L393.1,818.0 L393.6,818.6 L394.1,819.1 L394.6,819.6 L395.1,820.1 L395.6,820.6 L396.1,821.0 L396.6,821.5 L397.1,821.9 L397.6,822.3 L398.1,822.6 L398.6,823.0 L399.1,823.3 L399.6,823.6 L400.1,824.0 L400.6,824.2 L401.1,824.5 L401.6,824.8 L402.1,825.1 L402.6,825.3 L403.1,825.6 L403.6,825.8 L404.1,826.1 L404.6,826.3 L405.1,826.5 L405.6,826.7 L406.1,826.9 L406.6,827.1 L407.1,827.3 L407.6,827.5 L408.1,827.7 L408.6,827.9 L409.1,828.1 L409.6,828.2 L410.1,828.4 L410.6,828.5 L411.1,828.7 L411.6,828.8 L412.1,829.0 L412.6,829.1 L413.1,829.2 L413.6,829.3 L414.1,829.4 L414.6,829.5 L415.1,829.6 L415.6,829.7 L416.1,829.8 L416.6,829.9 L417.1,830.0 L417.6,830.1 L418.1,830.2 L418.6,830.3 L419.1,830.4 L419.6,830.4 L420.1,830.5 L420.6,830.6 L421.1,830.7 L421.6,830.8 L422.1,830.9 L422.6,831.1 L423.1,831.2 L423.6,831.3 L424.1,831.4 L424.6,831.5 L425.1,831.6 L425.6,831.7 L426.1,831.8 L426.6,831.9 L427.1,832.0 L427.6,832.1 L428.1,832.2 L428.6,832.3 L429.1,832.4 L429.6,832.5 L430.1,832.6 L430.6,832.7 L431.1,832.8 L431.6,832.9 L432.1,833.0 L432.6,833.1 L433.1,833.1 L433.6,833.2 L434.1,833.3 L434.6,833.4 L435.1,833.5 L435.6,833.6 L436.1,833.6 L436.6,833.7 L437.1,833.8 L437.6,833.9 L438.1,834.0 L438.6,834.0 L439.1,834.1 L439.6,834.2 L440.1,834.3 L440.6,834.3 L441.1,834.4 L441.6,834.5 L442.1,834.6 L442.6,834.6 L443.1,834.7 L443.6,834.8 L444.1,834.8 L444.6,834.9 L445.1,835.0 L445.6,835.0 L446.1,835.1 L446.6,835.2 L447.1,835.2 L447.6,835.3 L448.1,835.3 L448.6,835.4 L449.1,835.5 L449.6,835.5 L450.1,835.6 L450.6,835.7 L451.1,835.7 L451.6,835.8 L452.1,835.8 L452.6,835.9 L453.1,835.9 L453.6,836.0 L454.1,836.0 L454.6,836.1 L455.1,836.2 L455.6,836.2 L456.1,836.3 L456.6,836.3 L457.1,836.4 L457.6,836.4 L458.1,836.5 L458.6,836.5 L459.1,836.6 L459.6,836.6 L460.1,836.7 L460.6,836.7 L461.1,836.8 L461.6,836.8" fill="none" stroke="#b4454a" stroke-width="1.8" stroke-linejoin="round"/>
<path d="M168.6,834.9 L170.7,836.9 L172.8,837.3 L175.0,835.5 L177.1,835.0 L179.1,834.0 L181.3,835.2 L183.5,834.9 L185.6,836.2 L187.8,833.6 L189.9,836.0 L192.0,833.9 L194.2,835.0 L196.4,834.3 L198.5,833.6 L200.6,833.7 L202.7,833.7 L204.9,832.4 L206.9,831.5 L208.6,830.6 L210.0,828.0 L211.2,826.0 L212.3,825.0 L213.7,822.6 L215.9,821.5 L218.0,822.2 L219.8,821.4 L221.5,819.6 L223.2,817.9 L224.7,817.4 L226.4,816.5 L228.3,814.7 L230.2,813.1 L232.3,813.7 L234.0,815.4 L236.1,814.4 L238.1,814.2 L240.1,814.0 L241.5,814.5 L243.1,813.4 L244.5,812.7 L246.2,813.8 L248.0,814.3 L249.9,811.7 L251.7,813.4 L253.7,812.6 L255.8,811.3 L258.0,813.8 L260.0,815.0 L262.0,814.8 L264.1,816.3 L265.8,814.3 L267.3,812.6 L269.1,811.1 L270.4,809.6 L271.4,806.6 L272.4,805.4 L273.1,803.3 L274.1,800.0 L276.2,800.9 L278.3,799.7 L280.0,799.0 L281.5,796.7 L283.1,795.4 L284.2,793.7 L285.1,791.2 L285.8,789.6 L286.6,787.3 L287.3,785.4 L287.9,783.0 L288.5,781.4 L289.1,779.1 L289.6,776.8 L290.2,774.9 L290.9,773.0 L291.7,771.2 L292.7,767.9 L293.7,767.0 L294.7,764.9 L295.7,762.7 L296.6,760.3 L297.4,759.1 L298.1,756.1 L299.0,754.8 L300.2,753.4 L301.5,750.2 L302.6,748.9 L303.6,746.5 L304.5,745.1 L305.2,743.5 L305.9,741.6 L306.9,738.0 L308.3,737.0 L309.7,735.9 L311.0,734.5 L311.9,731.9 L312.6,729.5 L313.3,727.7 L314.2,725.6 L315.3,723.6 L316.1,721.5 L316.6,719.6 L317.0,717.4 L317.3,715.2 L317.8,713.0 L318.5,710.4 L319.8,709.0 L321.0,707.9 L322.0,705.3 L323.1,702.8 L324.1,702.1 L325.2,699.9 L326.3,698.7 L327.4,695.9 L328.6,693.7 L329.8,691.4 L331.1,691.2 L332.8,690.7 L334.6,687.2 L335.8,685.6 L337.0,684.4 L338.8,682.2 L340.6,681.5 L341.6,679.4 L343.4,678.9 L344.5,681.4 L346.1,680.0 L347.3,681.7 L347.8,683.4 L348.4,685.7 L348.7,687.2 L349.4,688.4 L350.8,688.9 L351.9,689.4 L352.4,691.9 L352.9,694.1 L353.4,696.4 L353.9,698.5 L354.7,700.7 L356.0,702.0 L356.8,703.9 L357.2,706.1 L357.6,708.3 L358.0,710.2 L358.9,712.3 L360.2,714.3 L361.1,716.4 L361.9,718.3 L362.6,719.9 L363.2,722.6 L363.7,724.8 L364.2,727.1 L364.6,729.1 L364.9,731.1 L365.3,733.2 L365.6,735.9 L366.0,737.9 L366.4,740.3 L366.9,742.5 L367.4,744.0 L367.9,746.4 L368.5,748.6 L369.0,750.7 L369.6,752.8 L370.1,754.9 L370.5,757.0 L370.9,758.9 L371.2,761.3 L371.7,763.3 L372.1,765.7 L372.5,767.7 L372.9,770.1 L373.4,772.3 L373.8,774.3 L374.3,776.5 L374.8,778.6 L375.3,780.6 L375.8,782.8 L376.4,784.8 L376.9,787.2 L377.5,789.2 L378.0,791.5 L378.6,793.1 L379.1,795.8 L379.7,797.5 L380.4,799.6 L381.1,801.9 L381.8,803.8 L382.7,806.1 L383.6,807.8 L384.4,809.7 L385.2,811.8 L386.0,814.6 L386.8,816.2 L387.6,817.9 L388.4,820.3 L389.2,821.8 L390.1,825.1 L390.9,825.8 L391.8,828.6 L392.9,830.6 L394.3,831.1 L396.1,833.4 L398.1,835.0 L399.9,835.8 L401.9,836.6 L403.9,838.1 L406.1,837.9 L408.1,838.8 L410.0,839.5 L412.2,840.6 L414.3,839.4 L416.0,842.2 L417.9,841.6 L419.8,840.0 L422.0,841.1 L424.0,842.9 L426.0,843.2 L428.1,842.5 L430.1,843.0 L432.1,841.1 L434.3,841.2 L436.5,841.6 L438.6,840.0 L440.7,842.8 L442.9,842.0 L445.0,842.1 L446.9,840.3 L449.0,839.7 L451.2,840.7 L453.4,843.0 L455.5,844.3 L457.7,842.5 L459.9,843.4" fill="none" stroke="#1e1e1e" stroke-width="1.45" stroke-linejoin="round"/>
<line x1="231.5" y1="859.1" x2="231.5" y2="786.6" stroke="#333" stroke-width="1.9" stroke-dasharray="5 3.7"/>
<line x1="317.7" y1="859.1" x2="317.7" y2="689.8" stroke="#333" stroke-width="1.9" stroke-dasharray="5 3.7"/>
<line x1="347.6" y1="859.1" x2="347.6" y2="653.3" stroke="#333" stroke-width="1.9" stroke-dasharray="5 3.7"/>
<line x1="168.6" y1="861.7" x2="461.6" y2="861.7" stroke="#555" stroke-width="1.6"/>
<line x1="461.6" y1="860.9" x2="461.6" y2="866.7" stroke="#555" stroke-width="1.4"/>
<text transform="translate(459.9,881.6) scale(1.08,1)" text-anchor="middle" class="tk">280</text>
<line x1="435.0" y1="860.9" x2="435.0" y2="864.5" stroke="#555" stroke-width="1.4"/>
<line x1="408.3" y1="860.9" x2="408.3" y2="866.7" stroke="#555" stroke-width="1.4"/>
<text transform="translate(407.4,881.6) scale(1.08,1)" text-anchor="middle" class="tk">282</text>
<line x1="381.7" y1="860.9" x2="381.7" y2="864.5" stroke="#555" stroke-width="1.4"/>
<line x1="355.0" y1="860.9" x2="355.0" y2="866.7" stroke="#555" stroke-width="1.4"/>
<text transform="translate(356.9,881.6) scale(1.08,1)" text-anchor="middle" class="tk">284</text>
<line x1="328.4" y1="860.9" x2="328.4" y2="864.5" stroke="#555" stroke-width="1.4"/>
<line x1="301.8" y1="860.9" x2="301.8" y2="866.7" stroke="#555" stroke-width="1.4"/>
<text transform="translate(303.0,881.6) scale(1.08,1)" text-anchor="middle" class="tk">286</text>
<line x1="275.1" y1="860.9" x2="275.1" y2="864.5" stroke="#555" stroke-width="1.4"/>
<line x1="248.5" y1="860.9" x2="248.5" y2="866.7" stroke="#555" stroke-width="1.4"/>
<text transform="translate(250.0,881.6) scale(1.08,1)" text-anchor="middle" class="tk">288</text>
<line x1="221.8" y1="860.9" x2="221.8" y2="864.5" stroke="#555" stroke-width="1.4"/>
<line x1="195.2" y1="860.9" x2="195.2" y2="866.7" stroke="#555" stroke-width="1.4"/>
<text transform="translate(194.1,881.6) scale(1.08,1)" text-anchor="middle" class="tk">290</text>
<line x1="168.6" y1="860.9" x2="168.6" y2="864.5" stroke="#555" stroke-width="1.4"/>
<text transform="translate(272.32,644.3) scale(1.0838028169014085,1)" class="a">C-C, C-H, C=C (</text>
<text transform="translate(381.59,644.3) scale(1.207394366197183,1)" class="a">284.3</text>
<text transform="translate(421.87,644.3) scale(1.0600352112676057,1)" class="a">eV)</text>
<text transform="translate(233.82,675.7) scale(1.0838028169014085,1)" class="a">C-O (</text>
<text transform="translate(270.13,675.7) scale(1.207394366197183,1)" class="a">285.4</text>
<text transform="translate(310.41,675.7) scale(1.0600352112676057,1)" class="a">eV)</text>
<text transform="translate(172.82,773.0) scale(1.0838028169014085,1)" class="a">-COO- (</text>
<text transform="translate(226.23,773.0) scale(1.207394366197183,1)" class="a">288.6</text>
<text transform="translate(266.51,773.0) scale(1.0600352112676057,1)" class="a">eV)</text>
<text transform="translate(266.2,903.7) scale(1.03,1)" class="t">Binding energy<tspan dx="-1.7"> (eV)</tspan></text>
<text transform="translate(154.7,661.1) scale(1.0,1)" class="L">E</text>
</g>
</svg></body></html>
